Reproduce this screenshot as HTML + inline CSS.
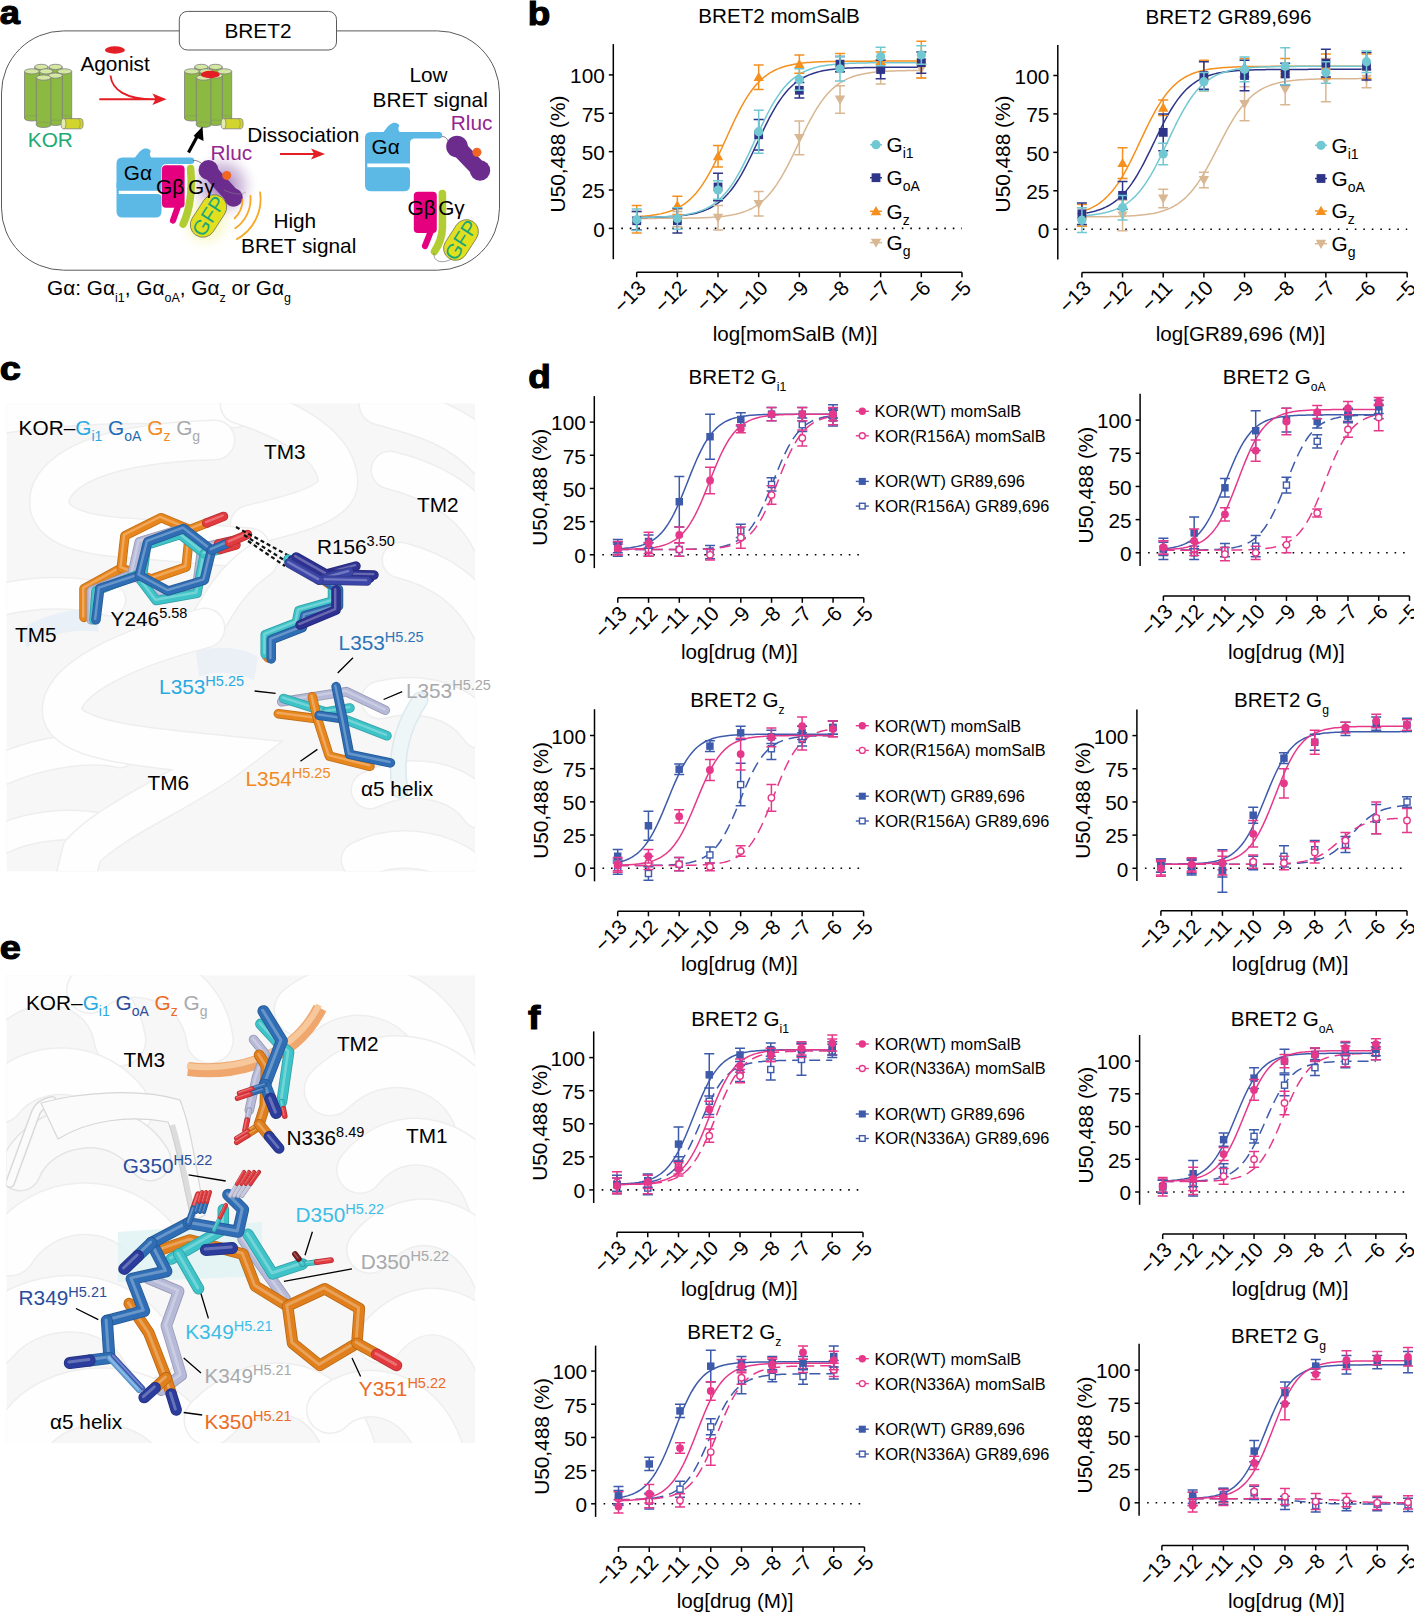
<!DOCTYPE html><html><head><meta charset="utf-8"><style>html,body{margin:0;padding:0;background:#fff}svg{display:block}</style></head><body>
<svg width="1414" height="1613" viewBox="0 0 1414 1613" style="font-family:'Liberation Sans',Arial,Helvetica,sans-serif">
<path d="M613.3,44.1V259.2" stroke="#000" stroke-width="1.5" fill="none"/>
<path d="M608.8,228.40H613.3" stroke="#000" stroke-width="1.5"/>
<text x="604.8" y="236.70" text-anchor="end" font-size="20.8">0</text>
<path d="M608.8,190.03H613.3" stroke="#000" stroke-width="1.5"/>
<text x="604.8" y="198.33" text-anchor="end" font-size="20.8">25</text>
<path d="M608.8,151.65H613.3" stroke="#000" stroke-width="1.5"/>
<text x="604.8" y="159.95" text-anchor="end" font-size="20.8">50</text>
<path d="M608.8,113.28H613.3" stroke="#000" stroke-width="1.5"/>
<text x="604.8" y="121.58" text-anchor="end" font-size="20.8">75</text>
<path d="M608.8,74.90H613.3" stroke="#000" stroke-width="1.5"/>
<text x="604.8" y="83.20" text-anchor="end" font-size="20.8">100</text>
<path d="M636.7,272.2H961.98" stroke="#000" stroke-width="1.5" fill="none"/>
<path d="M636.70,272.2v5" stroke="#000" stroke-width="1.5"/>
<text transform="translate(647.20,289.20) rotate(-45)" text-anchor="end" font-size="20.8">&#8722;13</text>
<path d="M677.36,272.2v5" stroke="#000" stroke-width="1.5"/>
<text transform="translate(687.86,289.20) rotate(-45)" text-anchor="end" font-size="20.8">&#8722;12</text>
<path d="M718.02,272.2v5" stroke="#000" stroke-width="1.5"/>
<text transform="translate(728.52,289.20) rotate(-45)" text-anchor="end" font-size="20.8">&#8722;11</text>
<path d="M758.68,272.2v5" stroke="#000" stroke-width="1.5"/>
<text transform="translate(769.18,289.20) rotate(-45)" text-anchor="end" font-size="20.8">&#8722;10</text>
<path d="M799.34,272.2v5" stroke="#000" stroke-width="1.5"/>
<text transform="translate(809.84,289.20) rotate(-45)" text-anchor="end" font-size="20.8">&#8722;9</text>
<path d="M840.00,272.2v5" stroke="#000" stroke-width="1.5"/>
<text transform="translate(850.50,289.20) rotate(-45)" text-anchor="end" font-size="20.8">&#8722;8</text>
<path d="M880.66,272.2v5" stroke="#000" stroke-width="1.5"/>
<text transform="translate(891.16,289.20) rotate(-45)" text-anchor="end" font-size="20.8">&#8722;7</text>
<path d="M921.32,272.2v5" stroke="#000" stroke-width="1.5"/>
<text transform="translate(931.82,289.20) rotate(-45)" text-anchor="end" font-size="20.8">&#8722;6</text>
<path d="M961.98,272.2v5" stroke="#000" stroke-width="1.5"/>
<text transform="translate(972.48,289.20) rotate(-45)" text-anchor="end" font-size="20.8">&#8722;5</text>
<path d="M621.3,228.40H961.98" stroke="#000" stroke-width="1.6" stroke-dasharray="1.6 6.9" fill="none"/>
<text x="698.3" y="22.9" font-size="20.6">BRET2 momSalB</text>
<text x="712.7" y="340.5" font-size="20.6">log[momSalB (M)]</text>
<text transform="translate(565,154) rotate(-90)" text-anchor="middle" font-size="20.8">U50,488 (%)</text>
<polyline points="636.70,218.41 639.07,218.40 641.44,218.40 643.82,218.40 646.19,218.40 648.56,218.39 650.93,218.39 653.30,218.38 655.67,218.38 658.05,218.37 660.42,218.36 662.79,218.35 665.16,218.34 667.53,218.33 669.91,218.32 672.28,218.30 674.65,218.29 677.02,218.27 679.39,218.24 681.76,218.22 684.14,218.19 686.51,218.16 688.88,218.12 691.25,218.07 693.62,218.02 696.00,217.97 698.37,217.90 700.74,217.83 703.11,217.74 705.48,217.65 707.86,217.54 710.23,217.41 712.60,217.26 714.97,217.10 717.34,216.91 719.71,216.70 722.09,216.45 724.46,216.17 726.83,215.85 729.20,215.49 731.57,215.08 733.95,214.61 736.32,214.08 738.69,213.48 741.06,212.79 743.43,212.02 745.80,211.14 748.18,210.16 750.55,209.04 752.92,207.79 755.29,206.39 757.66,204.81 760.04,203.06 762.41,201.11 764.78,198.95 767.15,196.56 769.52,193.94 771.89,191.07 774.27,187.95 776.64,184.57 779.01,180.93 781.38,177.05 783.75,172.93 786.13,168.59 788.50,164.05 790.87,159.35 793.24,154.53 795.61,149.61 797.98,144.64 800.36,139.68 802.73,134.75 805.10,129.91 807.47,125.19 809.84,120.64 812.22,116.27 814.59,112.13 816.96,108.22 819.33,104.55 821.70,101.14 824.07,97.99 826.45,95.09 828.82,92.44 831.19,90.03 833.56,87.84 835.93,85.87 838.31,84.09 840.68,82.50 843.05,81.08 845.42,79.81 847.79,78.68 850.16,77.68 852.54,76.79 854.91,76.01 857.28,75.31 859.65,74.70 862.02,74.16 864.40,73.69 866.77,73.27 869.14,72.90 871.51,72.58 873.88,72.30 876.26,72.05 878.63,71.83 881.00,71.64 883.37,71.47 885.74,71.32 888.11,71.20 890.49,71.08 892.86,70.98 895.23,70.90 897.60,70.82 899.97,70.76 902.35,70.70 904.72,70.65 907.09,70.60 909.46,70.57 911.83,70.53 914.20,70.50 916.58,70.48 918.95,70.45 921.32,70.43" fill="none" stroke="#d8b792" stroke-width="1.5"/>
<polyline points="636.70,216.65 639.07,216.51 641.44,216.34 643.82,216.16 646.19,215.94 648.56,215.70 650.93,215.42 653.30,215.11 655.67,214.75 658.05,214.34 660.42,213.88 662.79,213.35 665.16,212.75 667.53,212.07 669.91,211.30 672.28,210.42 674.65,209.44 677.02,208.33 679.39,207.08 681.76,205.67 684.14,204.10 686.51,202.34 688.88,200.39 691.25,198.21 693.62,195.81 696.00,193.16 698.37,190.25 700.74,187.08 703.11,183.64 705.48,179.93 707.86,175.95 710.23,171.71 712.60,167.24 714.97,162.54 717.34,157.65 719.71,152.61 722.09,147.45 724.46,142.22 726.83,136.97 729.20,131.73 731.57,126.57 733.95,121.51 736.32,116.61 738.69,111.90 741.06,107.40 743.43,103.14 745.80,99.14 748.18,95.41 750.55,91.94 752.92,88.75 755.29,85.82 757.66,83.15 760.04,80.73 762.41,78.53 764.78,76.56 767.15,74.78 769.52,73.19 771.89,71.78 774.27,70.51 776.64,69.39 779.01,68.40 781.38,67.51 783.75,66.74 786.13,66.05 788.50,65.44 790.87,64.91 793.24,64.44 795.61,64.02 797.98,63.66 800.36,63.34 802.73,63.06 805.10,62.82 807.47,62.60 809.84,62.41 812.22,62.25 814.59,62.10 816.96,61.97 819.33,61.86 821.70,61.77 824.07,61.68 826.45,61.61 828.82,61.54 831.19,61.48 833.56,61.43 835.93,61.39 838.31,61.35 840.68,61.32 843.05,61.29 845.42,61.26 847.79,61.24 850.16,61.22 852.54,61.20 854.91,61.19 857.28,61.18 859.65,61.16 862.02,61.15 864.40,61.15 866.77,61.14 869.14,61.13 871.51,61.13 873.88,61.12 876.26,61.12 878.63,61.11 881.00,61.11 883.37,61.11 885.74,61.10 888.11,61.10 890.49,61.10 892.86,61.10 895.23,61.10 897.60,61.09 899.97,61.09 902.35,61.09 904.72,61.09 907.09,61.09 909.46,61.09 911.83,61.09 914.20,61.09 916.58,61.09 918.95,61.09 921.32,61.09" fill="none" stroke="#f5901e" stroke-width="1.5"/>
<polyline points="636.70,217.49 639.07,217.47 641.44,217.44 643.82,217.41 646.19,217.38 648.56,217.34 650.93,217.30 653.30,217.24 655.67,217.18 658.05,217.12 660.42,217.04 662.79,216.95 665.16,216.85 667.53,216.74 669.91,216.61 672.28,216.46 674.65,216.29 677.02,216.09 679.39,215.87 681.76,215.61 684.14,215.33 686.51,215.00 688.88,214.62 691.25,214.20 693.62,213.71 696.00,213.16 698.37,212.54 700.74,211.83 703.11,211.03 705.48,210.13 707.86,209.11 710.23,207.96 712.60,206.66 714.97,205.21 717.34,203.59 719.71,201.78 722.09,199.77 724.46,197.55 726.83,195.09 729.20,192.39 731.57,189.44 733.95,186.23 736.32,182.76 738.69,179.03 741.06,175.06 743.43,170.84 745.80,166.40 748.18,161.77 750.55,156.98 752.92,152.06 755.29,147.05 757.66,142.01 760.04,136.97 762.41,131.97 764.78,127.07 767.15,122.30 769.52,117.70 771.89,113.30 774.27,109.13 776.64,105.19 779.01,101.50 781.38,98.08 783.75,94.91 786.13,92.01 788.50,89.35 790.87,86.93 793.24,84.75 795.61,82.77 797.98,81.00 800.36,79.41 802.73,77.98 805.10,76.72 807.47,75.59 809.84,74.59 812.22,73.70 814.59,72.92 816.96,72.23 819.33,71.62 821.70,71.08 824.07,70.61 826.45,70.19 828.82,69.82 831.19,69.50 833.56,69.22 835.93,68.97 838.31,68.75 840.68,68.56 843.05,68.40 845.42,68.25 847.79,68.12 850.16,68.01 852.54,67.91 854.91,67.83 857.28,67.75 859.65,67.68 862.02,67.63 864.40,67.58 866.77,67.53 869.14,67.49 871.51,67.46 873.88,67.43 876.26,67.40 878.63,67.38 881.00,67.36 883.37,67.35 885.74,67.33 888.11,67.32 890.49,67.31 892.86,67.30 895.23,67.29 897.60,67.28 899.97,67.27 902.35,67.27 904.72,67.26 907.09,67.26 909.46,67.25 911.83,67.25 914.20,67.25 916.58,67.24 918.95,67.24 921.32,67.24" fill="none" stroke="#2e3589" stroke-width="1.5"/>
<polyline points="636.70,217.46 639.07,217.44 641.44,217.41 643.82,217.37 646.19,217.33 648.56,217.28 650.93,217.23 653.30,217.17 655.67,217.10 658.05,217.02 660.42,216.93 662.79,216.82 665.16,216.70 667.53,216.57 669.91,216.41 672.28,216.24 674.65,216.04 677.02,215.81 679.39,215.54 681.76,215.25 684.14,214.91 686.51,214.52 688.88,214.08 691.25,213.58 693.62,213.01 696.00,212.36 698.37,211.63 700.74,210.80 703.11,209.87 705.48,208.81 707.86,207.62 710.23,206.29 712.60,204.79 714.97,203.11 717.34,201.24 719.71,199.16 722.09,196.86 724.46,194.32 726.83,191.54 729.20,188.49 731.57,185.17 733.95,181.59 736.32,177.74 738.69,173.63 741.06,169.28 743.43,164.70 745.80,159.92 748.18,154.98 750.55,149.90 752.92,144.74 755.29,139.54 757.66,134.35 760.04,129.20 762.41,124.16 764.78,119.25 767.15,114.51 769.52,109.98 771.89,105.68 774.27,101.63 776.64,97.84 779.01,94.32 781.38,91.07 783.75,88.08 786.13,85.35 788.50,82.87 790.87,80.62 793.24,78.59 795.61,76.76 797.98,75.13 800.36,73.67 802.73,72.37 805.10,71.21 807.47,70.18 809.84,69.27 812.22,68.47 814.59,67.76 816.96,67.13 819.33,66.58 821.70,66.09 824.07,65.66 826.45,65.29 828.82,64.96 831.19,64.67 833.56,64.41 835.93,64.19 838.31,63.99 840.68,63.82 843.05,63.67 845.42,63.54 847.79,63.43 850.16,63.33 852.54,63.24 854.91,63.16 857.28,63.09 859.65,63.03 862.02,62.98 864.40,62.94 866.77,62.90 869.14,62.86 871.51,62.83 873.88,62.80 876.26,62.78 878.63,62.76 881.00,62.74 883.37,62.73 885.74,62.71 888.11,62.70 890.49,62.69 892.86,62.68 895.23,62.68 897.60,62.67 899.97,62.66 902.35,62.66 904.72,62.65 907.09,62.65 909.46,62.64 911.83,62.64 914.20,62.64 916.58,62.64 918.95,62.63 921.32,62.63" fill="none" stroke="#72c8d2" stroke-width="1.5"/>
<path d="M636.70,211.51V229.94M631.70,211.51h10M631.70,229.94h10" stroke="#d8b792" stroke-width="1.5" fill="none"/>
<path d="M636.70,225.92L641.90,216.82L631.50,216.82Z" fill="#d8b792"/>
<path d="M677.36,211.51V226.87M672.36,211.51h10M672.36,226.87h10" stroke="#d8b792" stroke-width="1.5" fill="none"/>
<path d="M677.36,224.39L682.56,215.29L672.16,215.29Z" fill="#d8b792"/>
<path d="M718.02,205.38V229.94M713.02,205.38h10M713.02,229.94h10" stroke="#d8b792" stroke-width="1.5" fill="none"/>
<path d="M718.02,222.85L723.22,213.75L712.82,213.75Z" fill="#d8b792"/>
<path d="M758.68,191.56V216.12M753.68,191.56h10M753.68,216.12h10" stroke="#d8b792" stroke-width="1.5" fill="none"/>
<path d="M758.68,209.04L763.88,199.94L753.48,199.94Z" fill="#d8b792"/>
<path d="M799.34,120.95V154.72M794.34,120.95h10M794.34,154.72h10" stroke="#d8b792" stroke-width="1.5" fill="none"/>
<path d="M799.34,143.03L804.54,133.94L794.14,133.94Z" fill="#d8b792"/>
<path d="M840.00,85.65V113.28M835.00,85.65h10M835.00,113.28h10" stroke="#d8b792" stroke-width="1.5" fill="none"/>
<path d="M840.00,104.66L845.20,95.56L834.80,95.56Z" fill="#d8b792"/>
<path d="M880.66,59.55V84.11M875.66,59.55h10M875.66,84.11h10" stroke="#d8b792" stroke-width="1.5" fill="none"/>
<path d="M880.66,77.03L885.86,67.93L875.46,67.93Z" fill="#d8b792"/>
<path d="M921.32,59.55V77.97M916.32,59.55h10M916.32,77.97h10" stroke="#d8b792" stroke-width="1.5" fill="none"/>
<path d="M921.32,73.96L926.52,64.86L916.12,64.86Z" fill="#d8b792"/>
<path d="M636.70,205.38V233.00M631.70,205.38h10M631.70,233.00h10" stroke="#f5901e" stroke-width="1.5" fill="none"/>
<path d="M636.70,213.99L641.90,223.09L631.50,223.09Z" fill="#f5901e"/>
<path d="M677.36,196.16V214.59M672.36,196.16h10M672.36,214.59h10" stroke="#f5901e" stroke-width="1.5" fill="none"/>
<path d="M677.36,200.18L682.56,209.28L672.16,209.28Z" fill="#f5901e"/>
<path d="M718.02,145.51V167.00M713.02,145.51h10M713.02,167.00h10" stroke="#f5901e" stroke-width="1.5" fill="none"/>
<path d="M718.02,151.06L723.22,160.16L712.82,160.16Z" fill="#f5901e"/>
<path d="M758.68,64.92V89.48M753.68,64.92h10M753.68,89.48h10" stroke="#f5901e" stroke-width="1.5" fill="none"/>
<path d="M758.68,72.00L763.88,81.10L753.48,81.10Z" fill="#f5901e"/>
<path d="M799.34,54.95V73.36M794.34,54.95h10M794.34,73.36h10" stroke="#f5901e" stroke-width="1.5" fill="none"/>
<path d="M799.34,58.95L804.54,68.06L794.14,68.06Z" fill="#f5901e"/>
<path d="M840.00,53.41V71.83M835.00,53.41h10M835.00,71.83h10" stroke="#f5901e" stroke-width="1.5" fill="none"/>
<path d="M840.00,57.42L845.20,66.52L834.80,66.52Z" fill="#f5901e"/>
<path d="M880.66,51.88V70.30M875.66,51.88h10M875.66,70.30h10" stroke="#f5901e" stroke-width="1.5" fill="none"/>
<path d="M880.66,55.89L885.86,64.99L875.46,64.99Z" fill="#f5901e"/>
<path d="M921.32,41.13V77.97M916.32,41.13h10M916.32,77.97h10" stroke="#f5901e" stroke-width="1.5" fill="none"/>
<path d="M921.32,54.35L926.52,63.45L916.12,63.45Z" fill="#f5901e"/>
<path d="M636.70,211.51V229.94M631.70,211.51h10M631.70,229.94h10" stroke="#2e3589" stroke-width="1.5" fill="none"/>
<rect x="632.30" y="216.32" width="8.80" height="8.80" fill="#2e3589"/>
<path d="M677.36,208.44V233.00M672.36,208.44h10M672.36,233.00h10" stroke="#2e3589" stroke-width="1.5" fill="none"/>
<rect x="672.96" y="216.32" width="8.80" height="8.80" fill="#2e3589"/>
<path d="M718.02,173.14V200.77M713.02,173.14h10M713.02,200.77h10" stroke="#2e3589" stroke-width="1.5" fill="none"/>
<rect x="713.62" y="182.56" width="8.80" height="8.80" fill="#2e3589"/>
<path d="M758.68,119.42V150.12M753.68,119.42h10M753.68,150.12h10" stroke="#2e3589" stroke-width="1.5" fill="none"/>
<rect x="754.28" y="130.37" width="8.80" height="8.80" fill="#2e3589"/>
<path d="M799.34,82.58V97.92M794.34,82.58h10M794.34,97.92h10" stroke="#2e3589" stroke-width="1.5" fill="none"/>
<rect x="794.94" y="85.85" width="8.80" height="8.80" fill="#2e3589"/>
<path d="M840.00,56.48V71.83M835.00,56.48h10M835.00,71.83h10" stroke="#2e3589" stroke-width="1.5" fill="none"/>
<rect x="835.60" y="59.76" width="8.80" height="8.80" fill="#2e3589"/>
<path d="M880.66,60.32V78.74M875.66,60.32h10M875.66,78.74h10" stroke="#2e3589" stroke-width="1.5" fill="none"/>
<rect x="876.26" y="65.13" width="8.80" height="8.80" fill="#2e3589"/>
<path d="M921.32,51.88V73.37M916.32,51.88h10M916.32,73.37h10" stroke="#2e3589" stroke-width="1.5" fill="none"/>
<rect x="916.92" y="58.22" width="8.80" height="8.80" fill="#2e3589"/>
<path d="M636.70,209.06V230.55M631.70,209.06h10M631.70,230.55h10" stroke="#72c8d2" stroke-width="1.5" fill="none"/>
<circle cx="636.70" cy="219.80" r="4.60" fill="#72c8d2"/>
<path d="M677.36,207.68V229.17M672.36,207.68h10M672.36,229.17h10" stroke="#72c8d2" stroke-width="1.5" fill="none"/>
<circle cx="677.36" cy="218.42" r="4.60" fill="#72c8d2"/>
<path d="M718.02,180.81V199.24M713.02,180.81h10M713.02,199.24h10" stroke="#72c8d2" stroke-width="1.5" fill="none"/>
<circle cx="718.02" cy="190.03" r="4.60" fill="#72c8d2"/>
<path d="M758.68,110.20V153.19M753.68,110.20h10M753.68,153.19h10" stroke="#72c8d2" stroke-width="1.5" fill="none"/>
<circle cx="758.68" cy="131.69" r="4.60" fill="#72c8d2"/>
<path d="M799.34,68.76V90.25M794.34,68.76h10M794.34,90.25h10" stroke="#72c8d2" stroke-width="1.5" fill="none"/>
<circle cx="799.34" cy="79.51" r="4.60" fill="#72c8d2"/>
<path d="M840.00,56.48V81.04M835.00,56.48h10M835.00,81.04h10" stroke="#72c8d2" stroke-width="1.5" fill="none"/>
<circle cx="840.00" cy="68.76" r="4.60" fill="#72c8d2"/>
<path d="M880.66,47.27V65.69M875.66,47.27h10M875.66,65.69h10" stroke="#72c8d2" stroke-width="1.5" fill="none"/>
<circle cx="880.66" cy="56.48" r="4.60" fill="#72c8d2"/>
<path d="M921.32,45.74V64.16M916.32,45.74h10M916.32,64.16h10" stroke="#72c8d2" stroke-width="1.5" fill="none"/>
<circle cx="921.32" cy="54.95" r="4.60" fill="#72c8d2"/>
<path d="M1057.8,45V259.4" stroke="#000" stroke-width="1.5" fill="none"/>
<path d="M1053.3,229.20H1057.8" stroke="#000" stroke-width="1.5"/>
<text x="1049.3" y="237.50" text-anchor="end" font-size="20.8">0</text>
<path d="M1053.3,190.77H1057.8" stroke="#000" stroke-width="1.5"/>
<text x="1049.3" y="199.07" text-anchor="end" font-size="20.8">25</text>
<path d="M1053.3,152.35H1057.8" stroke="#000" stroke-width="1.5"/>
<text x="1049.3" y="160.65" text-anchor="end" font-size="20.8">50</text>
<path d="M1053.3,113.92H1057.8" stroke="#000" stroke-width="1.5"/>
<text x="1049.3" y="122.22" text-anchor="end" font-size="20.8">75</text>
<path d="M1053.3,75.50H1057.8" stroke="#000" stroke-width="1.5"/>
<text x="1049.3" y="83.80" text-anchor="end" font-size="20.8">100</text>
<path d="M1081.9,272.4H1407.18" stroke="#000" stroke-width="1.5" fill="none"/>
<path d="M1081.90,272.4v5" stroke="#000" stroke-width="1.5"/>
<text transform="translate(1092.40,289.40) rotate(-45)" text-anchor="end" font-size="20.8">&#8722;13</text>
<path d="M1122.56,272.4v5" stroke="#000" stroke-width="1.5"/>
<text transform="translate(1133.06,289.40) rotate(-45)" text-anchor="end" font-size="20.8">&#8722;12</text>
<path d="M1163.22,272.4v5" stroke="#000" stroke-width="1.5"/>
<text transform="translate(1173.72,289.40) rotate(-45)" text-anchor="end" font-size="20.8">&#8722;11</text>
<path d="M1203.88,272.4v5" stroke="#000" stroke-width="1.5"/>
<text transform="translate(1214.38,289.40) rotate(-45)" text-anchor="end" font-size="20.8">&#8722;10</text>
<path d="M1244.54,272.4v5" stroke="#000" stroke-width="1.5"/>
<text transform="translate(1255.04,289.40) rotate(-45)" text-anchor="end" font-size="20.8">&#8722;9</text>
<path d="M1285.20,272.4v5" stroke="#000" stroke-width="1.5"/>
<text transform="translate(1295.70,289.40) rotate(-45)" text-anchor="end" font-size="20.8">&#8722;8</text>
<path d="M1325.86,272.4v5" stroke="#000" stroke-width="1.5"/>
<text transform="translate(1336.36,289.40) rotate(-45)" text-anchor="end" font-size="20.8">&#8722;7</text>
<path d="M1366.52,272.4v5" stroke="#000" stroke-width="1.5"/>
<text transform="translate(1377.02,289.40) rotate(-45)" text-anchor="end" font-size="20.8">&#8722;6</text>
<path d="M1407.18,272.4v5" stroke="#000" stroke-width="1.5"/>
<text transform="translate(1417.68,289.40) rotate(-45)" text-anchor="end" font-size="20.8">&#8722;5</text>
<path d="M1065.8,229.20H1407.18" stroke="#000" stroke-width="1.6" stroke-dasharray="1.6 6.9" fill="none"/>
<text x="1145.4" y="23.5" font-size="20.6">BRET2 GR89,696</text>
<text x="1155.8" y="340.5" font-size="20.6">log[GR89,696 (M)]</text>
<text transform="translate(1010,154) rotate(-90)" text-anchor="middle" font-size="20.8">U50,488 (%)</text>
<polyline points="1081.90,216.84 1084.27,216.83 1086.64,216.82 1089.02,216.81 1091.39,216.80 1093.76,216.78 1096.13,216.76 1098.50,216.74 1100.87,216.72 1103.25,216.69 1105.62,216.66 1107.99,216.63 1110.36,216.59 1112.73,216.54 1115.11,216.49 1117.48,216.43 1119.85,216.36 1122.22,216.29 1124.59,216.20 1126.96,216.10 1129.34,215.98 1131.71,215.85 1134.08,215.70 1136.45,215.53 1138.82,215.33 1141.20,215.11 1143.57,214.86 1145.94,214.57 1148.31,214.24 1150.68,213.86 1153.06,213.44 1155.43,212.95 1157.80,212.40 1160.17,211.78 1162.54,211.08 1164.91,210.28 1167.29,209.38 1169.66,208.36 1172.03,207.22 1174.40,205.94 1176.77,204.50 1179.15,202.90 1181.52,201.12 1183.89,199.14 1186.26,196.95 1188.63,194.55 1191.00,191.92 1193.38,189.05 1195.75,185.94 1198.12,182.59 1200.49,179.01 1202.86,175.21 1205.24,171.19 1207.61,166.99 1209.98,162.63 1212.35,158.14 1214.72,153.56 1217.09,148.93 1219.47,144.29 1221.84,139.68 1224.21,135.14 1226.58,130.71 1228.95,126.42 1231.33,122.31 1233.70,118.40 1236.07,114.70 1238.44,111.23 1240.81,108.00 1243.18,105.01 1245.56,102.25 1247.93,99.73 1250.30,97.44 1252.67,95.35 1255.04,93.47 1257.42,91.78 1259.79,90.26 1262.16,88.90 1264.53,87.69 1266.90,86.61 1269.27,85.65 1271.65,84.80 1274.02,84.05 1276.39,83.38 1278.76,82.80 1281.13,82.28 1283.51,81.83 1285.88,81.43 1288.25,81.07 1290.62,80.77 1292.99,80.49 1295.37,80.26 1297.74,80.05 1300.11,79.86 1302.48,79.70 1304.85,79.56 1307.22,79.44 1309.60,79.33 1311.97,79.24 1314.34,79.15 1316.71,79.08 1319.08,79.02 1321.46,78.96 1323.83,78.91 1326.20,78.87 1328.57,78.83 1330.94,78.80 1333.31,78.77 1335.69,78.75 1338.06,78.73 1340.43,78.71 1342.80,78.69 1345.17,78.68 1347.55,78.66 1349.92,78.65 1352.29,78.64 1354.66,78.63 1357.03,78.63 1359.40,78.62 1361.78,78.61 1364.15,78.61 1366.52,78.60" fill="none" stroke="#d8b792" stroke-width="1.5"/>
<polyline points="1081.90,211.51 1084.27,210.76 1086.64,209.92 1089.02,208.97 1091.39,207.90 1093.76,206.69 1096.13,205.34 1098.50,203.82 1100.87,202.12 1103.25,200.23 1105.62,198.14 1107.99,195.81 1110.36,193.26 1112.73,190.46 1115.11,187.40 1117.48,184.08 1119.85,180.50 1122.22,176.67 1124.59,172.59 1126.96,168.27 1129.34,163.75 1131.71,159.04 1134.08,154.19 1136.45,149.22 1138.82,144.19 1141.20,139.14 1143.57,134.10 1145.94,129.13 1148.31,124.28 1150.68,119.56 1153.06,115.04 1155.43,110.72 1157.80,106.63 1160.17,102.78 1162.54,99.20 1164.91,95.87 1167.29,92.81 1169.66,90.00 1172.03,87.44 1174.40,85.11 1176.77,83.01 1179.15,81.11 1181.52,79.41 1183.89,77.89 1186.26,76.53 1188.63,75.32 1191.00,74.24 1193.38,73.29 1195.75,72.44 1198.12,71.69 1200.49,71.03 1202.86,70.45 1205.24,69.94 1207.61,69.49 1209.98,69.09 1212.35,68.75 1214.72,68.44 1217.09,68.17 1219.47,67.94 1221.84,67.73 1224.21,67.55 1226.58,67.39 1228.95,67.25 1231.33,67.13 1233.70,67.02 1236.07,66.93 1238.44,66.85 1240.81,66.78 1243.18,66.71 1245.56,66.66 1247.93,66.61 1250.30,66.57 1252.67,66.53 1255.04,66.50 1257.42,66.47 1259.79,66.45 1262.16,66.43 1264.53,66.41 1266.90,66.39 1269.27,66.38 1271.65,66.37 1274.02,66.35 1276.39,66.34 1278.76,66.34 1281.13,66.33 1283.51,66.32 1285.88,66.32 1288.25,66.31 1290.62,66.31 1292.99,66.30 1295.37,66.30 1297.74,66.30 1300.11,66.30 1302.48,66.29 1304.85,66.29 1307.22,66.29 1309.60,66.29 1311.97,66.29 1314.34,66.29 1316.71,66.28 1319.08,66.28 1321.46,66.28 1323.83,66.28 1326.20,66.28 1328.57,66.28 1330.94,66.28 1333.31,66.28 1335.69,66.28 1338.06,66.28 1340.43,66.28 1342.80,66.28 1345.17,66.28 1347.55,66.28 1349.92,66.28 1352.29,66.28 1354.66,66.28 1357.03,66.28 1359.40,66.28 1361.78,66.28 1364.15,66.28 1366.52,66.28" fill="none" stroke="#f5901e" stroke-width="1.5"/>
<polyline points="1081.90,213.68 1084.27,213.34 1086.64,212.95 1089.02,212.50 1091.39,211.99 1093.76,211.41 1096.13,210.76 1098.50,210.02 1100.87,209.18 1103.25,208.24 1105.62,207.17 1107.99,205.97 1110.36,204.62 1112.73,203.11 1115.11,201.43 1117.48,199.55 1119.85,197.47 1122.22,195.17 1124.59,192.64 1126.96,189.87 1129.34,186.85 1131.71,183.57 1134.08,180.04 1136.45,176.26 1138.82,172.24 1141.20,168.00 1143.57,163.56 1145.94,158.95 1148.31,154.20 1150.68,149.34 1153.06,144.43 1155.43,139.51 1157.80,134.61 1160.17,129.78 1162.54,125.07 1164.91,120.51 1167.29,116.13 1169.66,111.96 1172.03,108.01 1174.40,104.31 1176.77,100.86 1179.15,97.66 1181.52,94.72 1183.89,92.02 1186.26,89.57 1188.63,87.34 1191.00,85.32 1193.38,83.51 1195.75,81.88 1198.12,80.43 1200.49,79.13 1202.86,77.97 1205.24,76.94 1207.61,76.03 1209.98,75.23 1212.35,74.51 1214.72,73.89 1217.09,73.33 1219.47,72.84 1221.84,72.41 1224.21,72.04 1226.58,71.70 1228.95,71.41 1231.33,71.16 1233.70,70.93 1236.07,70.74 1238.44,70.56 1240.81,70.41 1243.18,70.28 1245.56,70.16 1247.93,70.06 1250.30,69.97 1252.67,69.90 1255.04,69.83 1257.42,69.77 1259.79,69.72 1262.16,69.67 1264.53,69.63 1266.90,69.60 1269.27,69.56 1271.65,69.54 1274.02,69.51 1276.39,69.49 1278.76,69.48 1281.13,69.46 1283.51,69.45 1285.88,69.44 1288.25,69.42 1290.62,69.42 1292.99,69.41 1295.37,69.40 1297.74,69.39 1300.11,69.39 1302.48,69.38 1304.85,69.38 1307.22,69.38 1309.60,69.37 1311.97,69.37 1314.34,69.37 1316.71,69.37 1319.08,69.36 1321.46,69.36 1323.83,69.36 1326.20,69.36 1328.57,69.36 1330.94,69.36 1333.31,69.36 1335.69,69.36 1338.06,69.36 1340.43,69.36 1342.80,69.36 1345.17,69.35 1347.55,69.35 1349.92,69.35 1352.29,69.35 1354.66,69.35 1357.03,69.35 1359.40,69.35 1361.78,69.35 1364.15,69.35 1366.52,69.35" fill="none" stroke="#2e3589" stroke-width="1.5"/>
<polyline points="1081.90,215.74 1084.27,215.58 1086.64,215.39 1089.02,215.17 1091.39,214.93 1093.76,214.65 1096.13,214.33 1098.50,213.97 1100.87,213.56 1103.25,213.09 1105.62,212.55 1107.99,211.95 1110.36,211.26 1112.73,210.49 1115.11,209.61 1117.48,208.62 1119.85,207.50 1122.22,206.25 1124.59,204.84 1126.96,203.26 1129.34,201.50 1131.71,199.54 1134.08,197.37 1136.45,194.97 1138.82,192.33 1141.20,189.44 1143.57,186.29 1145.94,182.88 1148.31,179.22 1150.68,175.30 1153.06,171.13 1155.43,166.74 1157.80,162.15 1160.17,157.39 1162.54,152.50 1164.91,147.50 1167.29,142.46 1169.66,137.40 1172.03,132.39 1174.40,127.45 1176.77,122.64 1179.15,117.99 1181.52,113.53 1183.89,109.29 1186.26,105.28 1188.63,101.53 1191.00,98.03 1193.38,94.79 1195.75,91.82 1198.12,89.09 1200.49,86.61 1202.86,84.36 1205.24,82.33 1207.61,80.51 1209.98,78.87 1212.35,77.40 1214.72,76.09 1217.09,74.93 1219.47,73.90 1221.84,72.98 1224.21,72.17 1226.58,71.46 1228.95,70.83 1231.33,70.27 1233.70,69.78 1236.07,69.35 1238.44,68.97 1240.81,68.64 1243.18,68.34 1245.56,68.09 1247.93,67.86 1250.30,67.67 1252.67,67.49 1255.04,67.34 1257.42,67.21 1259.79,67.09 1262.16,66.99 1264.53,66.90 1266.90,66.82 1269.27,66.75 1271.65,66.69 1274.02,66.64 1276.39,66.60 1278.76,66.56 1281.13,66.52 1283.51,66.49 1285.88,66.46 1288.25,66.44 1290.62,66.42 1292.99,66.40 1295.37,66.39 1297.74,66.37 1300.11,66.36 1302.48,66.35 1304.85,66.34 1307.22,66.33 1309.60,66.33 1311.97,66.32 1314.34,66.32 1316.71,66.31 1319.08,66.31 1321.46,66.30 1323.83,66.30 1326.20,66.30 1328.57,66.29 1330.94,66.29 1333.31,66.29 1335.69,66.29 1338.06,66.29 1340.43,66.29 1342.80,66.29 1345.17,66.28 1347.55,66.28 1349.92,66.28 1352.29,66.28 1354.66,66.28 1357.03,66.28 1359.40,66.28 1361.78,66.28 1364.15,66.28 1366.52,66.28" fill="none" stroke="#72c8d2" stroke-width="1.5"/>
<path d="M1081.90,207.68V226.13M1076.90,207.68h10M1076.90,226.13h10" stroke="#d8b792" stroke-width="1.5" fill="none"/>
<path d="M1081.90,222.10L1087.10,213.00L1076.70,213.00Z" fill="#d8b792"/>
<path d="M1122.56,200.00V230.74M1117.56,200.00h10M1117.56,230.74h10" stroke="#d8b792" stroke-width="1.5" fill="none"/>
<path d="M1122.56,220.57L1127.76,211.47L1117.36,211.47Z" fill="#d8b792"/>
<path d="M1163.22,189.24V207.68M1158.22,189.24h10M1158.22,207.68h10" stroke="#d8b792" stroke-width="1.5" fill="none"/>
<path d="M1163.22,203.66L1168.42,194.56L1158.02,194.56Z" fill="#d8b792"/>
<path d="M1203.88,172.33V187.70M1198.88,172.33h10M1198.88,187.70h10" stroke="#d8b792" stroke-width="1.5" fill="none"/>
<path d="M1203.88,185.22L1209.08,176.12L1198.68,176.12Z" fill="#d8b792"/>
<path d="M1244.54,86.87V120.69M1239.54,86.87h10M1239.54,120.69h10" stroke="#d8b792" stroke-width="1.5" fill="none"/>
<path d="M1244.54,108.98L1249.74,99.88L1239.34,99.88Z" fill="#d8b792"/>
<path d="M1285.20,73.96V104.70M1280.20,73.96h10M1280.20,104.70h10" stroke="#d8b792" stroke-width="1.5" fill="none"/>
<path d="M1285.20,94.53L1290.40,85.43L1280.00,85.43Z" fill="#d8b792"/>
<path d="M1325.86,58.59V101.63M1320.86,58.59h10M1320.86,101.63h10" stroke="#d8b792" stroke-width="1.5" fill="none"/>
<path d="M1325.86,85.31L1331.06,76.21L1320.66,76.21Z" fill="#d8b792"/>
<path d="M1366.52,69.35V87.80M1361.52,69.35h10M1361.52,87.80h10" stroke="#d8b792" stroke-width="1.5" fill="none"/>
<path d="M1366.52,83.77L1371.72,74.67L1361.32,74.67Z" fill="#d8b792"/>
<path d="M1081.90,204.61V226.13M1076.90,204.61h10M1076.90,226.13h10" stroke="#f5901e" stroke-width="1.5" fill="none"/>
<path d="M1081.90,210.17L1087.10,219.27L1076.70,219.27Z" fill="#f5901e"/>
<path d="M1122.56,147.74V178.48M1117.56,147.74h10M1117.56,178.48h10" stroke="#f5901e" stroke-width="1.5" fill="none"/>
<path d="M1122.56,157.91L1127.76,167.01L1117.36,167.01Z" fill="#f5901e"/>
<path d="M1163.22,100.09V115.46M1158.22,100.09h10M1158.22,115.46h10" stroke="#f5901e" stroke-width="1.5" fill="none"/>
<path d="M1163.22,102.58L1168.42,111.68L1158.02,111.68Z" fill="#f5901e"/>
<path d="M1203.88,60.13V90.87M1198.88,60.13h10M1198.88,90.87h10" stroke="#f5901e" stroke-width="1.5" fill="none"/>
<path d="M1203.88,70.30L1209.08,79.40L1198.68,79.40Z" fill="#f5901e"/>
<path d="M1244.54,58.59V77.04M1239.54,58.59h10M1239.54,77.04h10" stroke="#f5901e" stroke-width="1.5" fill="none"/>
<path d="M1244.54,62.61L1249.74,71.72L1239.34,71.72Z" fill="#f5901e"/>
<path d="M1285.20,58.59V77.04M1280.20,58.59h10M1280.20,77.04h10" stroke="#f5901e" stroke-width="1.5" fill="none"/>
<path d="M1285.20,62.61L1290.40,71.72L1280.00,71.72Z" fill="#f5901e"/>
<path d="M1325.86,53.98V78.57M1320.86,53.98h10M1320.86,78.57h10" stroke="#f5901e" stroke-width="1.5" fill="none"/>
<path d="M1325.86,61.08L1331.06,70.18L1320.66,70.18Z" fill="#f5901e"/>
<path d="M1366.52,53.98V78.57M1361.52,53.98h10M1361.52,78.57h10" stroke="#f5901e" stroke-width="1.5" fill="none"/>
<path d="M1366.52,61.08L1371.72,70.18L1361.32,70.18Z" fill="#f5901e"/>
<path d="M1081.90,203.07V224.59M1076.90,203.07h10M1076.90,224.59h10" stroke="#2e3589" stroke-width="1.5" fill="none"/>
<rect x="1077.50" y="209.43" width="8.80" height="8.80" fill="#2e3589"/>
<path d="M1122.56,181.55V209.22M1117.56,181.55h10M1117.56,209.22h10" stroke="#2e3589" stroke-width="1.5" fill="none"/>
<rect x="1118.16" y="190.99" width="8.80" height="8.80" fill="#2e3589"/>
<path d="M1163.22,113.92V150.81M1158.22,113.92h10M1158.22,150.81h10" stroke="#2e3589" stroke-width="1.5" fill="none"/>
<rect x="1158.82" y="127.97" width="8.80" height="8.80" fill="#2e3589"/>
<path d="M1203.88,61.67V89.33M1198.88,61.67h10M1198.88,89.33h10" stroke="#2e3589" stroke-width="1.5" fill="none"/>
<rect x="1199.48" y="71.10" width="8.80" height="8.80" fill="#2e3589"/>
<path d="M1244.54,60.13V90.87M1239.54,60.13h10M1239.54,90.87h10" stroke="#2e3589" stroke-width="1.5" fill="none"/>
<rect x="1240.14" y="71.10" width="8.80" height="8.80" fill="#2e3589"/>
<path d="M1285.20,63.20V84.72M1280.20,63.20h10M1280.20,84.72h10" stroke="#2e3589" stroke-width="1.5" fill="none"/>
<rect x="1280.80" y="69.56" width="8.80" height="8.80" fill="#2e3589"/>
<path d="M1325.86,49.37V77.04M1320.86,49.37h10M1320.86,77.04h10" stroke="#2e3589" stroke-width="1.5" fill="none"/>
<rect x="1321.46" y="58.80" width="8.80" height="8.80" fill="#2e3589"/>
<path d="M1366.52,52.44V80.11M1361.52,52.44h10M1361.52,80.11h10" stroke="#2e3589" stroke-width="1.5" fill="none"/>
<rect x="1362.12" y="61.88" width="8.80" height="8.80" fill="#2e3589"/>
<path d="M1081.90,207.84V232.43M1076.90,207.84h10M1076.90,232.43h10" stroke="#72c8d2" stroke-width="1.5" fill="none"/>
<circle cx="1081.90" cy="220.13" r="4.60" fill="#72c8d2"/>
<path d="M1122.56,195.39V219.98M1117.56,195.39h10M1117.56,219.98h10" stroke="#72c8d2" stroke-width="1.5" fill="none"/>
<circle cx="1122.56" cy="207.68" r="4.60" fill="#72c8d2"/>
<path d="M1163.22,143.13V164.65M1158.22,143.13h10M1158.22,164.65h10" stroke="#72c8d2" stroke-width="1.5" fill="none"/>
<circle cx="1163.22" cy="153.89" r="4.60" fill="#72c8d2"/>
<path d="M1203.88,72.43V90.87M1198.88,72.43h10M1198.88,90.87h10" stroke="#72c8d2" stroke-width="1.5" fill="none"/>
<circle cx="1203.88" cy="81.65" r="4.60" fill="#72c8d2"/>
<path d="M1244.54,57.06V81.65M1239.54,57.06h10M1239.54,81.65h10" stroke="#72c8d2" stroke-width="1.5" fill="none"/>
<circle cx="1244.54" cy="69.35" r="4.60" fill="#72c8d2"/>
<path d="M1285.20,47.83V84.72M1280.20,47.83h10M1280.20,84.72h10" stroke="#72c8d2" stroke-width="1.5" fill="none"/>
<circle cx="1285.20" cy="66.28" r="4.60" fill="#72c8d2"/>
<path d="M1325.86,61.67V83.18M1320.86,61.67h10M1320.86,83.18h10" stroke="#72c8d2" stroke-width="1.5" fill="none"/>
<circle cx="1325.86" cy="72.43" r="4.60" fill="#72c8d2"/>
<path d="M1366.52,50.91V72.43M1361.52,50.91h10M1361.52,72.43h10" stroke="#72c8d2" stroke-width="1.5" fill="none"/>
<circle cx="1366.52" cy="61.67" r="4.60" fill="#72c8d2"/>
<path d="M870,144.7h12" stroke="#72c8d2" stroke-width="1.5"/>
<circle cx="876.00" cy="144.70" r="4.60" fill="#72c8d2"/>
<text x="886.5" y="151.89999999999998" font-size="20.8">G<tspan font-size="14" dy="6">i1</tspan></text>
<path d="M870,177.7h12" stroke="#2e3589" stroke-width="1.5"/>
<rect x="871.60" y="173.30" width="8.80" height="8.80" fill="#2e3589"/>
<text x="886.5" y="184.89999999999998" font-size="20.8">G<tspan font-size="14" dy="6">oA</tspan></text>
<path d="M870,211.3h12" stroke="#f5901e" stroke-width="1.5"/>
<path d="M876.00,206.10L881.20,215.20L870.80,215.20Z" fill="#f5901e"/>
<text x="886.5" y="218.5" font-size="20.8">G<tspan font-size="14" dy="6">z</tspan></text>
<path d="M870,242.6h12" stroke="#d8b792" stroke-width="1.5"/>
<path d="M876.00,247.80L881.20,238.70L870.80,238.70Z" fill="#d8b792"/>
<text x="886.5" y="249.79999999999998" font-size="20.8">G<tspan font-size="14" dy="6">g</tspan></text>
<path d="M1315,145.3h12" stroke="#72c8d2" stroke-width="1.5"/>
<circle cx="1321.00" cy="145.30" r="4.60" fill="#72c8d2"/>
<text x="1331.5" y="152.5" font-size="20.8">G<tspan font-size="14" dy="6">i1</tspan></text>
<path d="M1315,178.5h12" stroke="#2e3589" stroke-width="1.5"/>
<rect x="1316.60" y="174.10" width="8.80" height="8.80" fill="#2e3589"/>
<text x="1331.5" y="185.7" font-size="20.8">G<tspan font-size="14" dy="6">oA</tspan></text>
<path d="M1315,211h12" stroke="#f5901e" stroke-width="1.5"/>
<path d="M1321.00,205.80L1326.20,214.90L1315.80,214.90Z" fill="#f5901e"/>
<text x="1331.5" y="218.2" font-size="20.8">G<tspan font-size="14" dy="6">z</tspan></text>
<path d="M1315,243.7h12" stroke="#d8b792" stroke-width="1.5"/>
<path d="M1321.00,248.90L1326.20,239.80L1315.80,239.80Z" fill="#d8b792"/>
<text x="1331.5" y="250.89999999999998" font-size="20.8">G<tspan font-size="14" dy="6">g</tspan></text>
<path d="M594.3,396.1V568.1" stroke="#000" stroke-width="1.5" fill="none"/>
<path d="M589.8,554.80H594.3" stroke="#000" stroke-width="1.5"/>
<text x="585.8" y="563.10" text-anchor="end" font-size="20.8">0</text>
<path d="M589.8,521.62H594.3" stroke="#000" stroke-width="1.5"/>
<text x="585.8" y="529.92" text-anchor="end" font-size="20.8">25</text>
<path d="M589.8,488.45H594.3" stroke="#000" stroke-width="1.5"/>
<text x="585.8" y="496.75" text-anchor="end" font-size="20.8">50</text>
<path d="M589.8,455.27H594.3" stroke="#000" stroke-width="1.5"/>
<text x="585.8" y="463.57" text-anchor="end" font-size="20.8">75</text>
<path d="M589.8,422.10H594.3" stroke="#000" stroke-width="1.5"/>
<text x="585.8" y="430.40" text-anchor="end" font-size="20.8">100</text>
<path d="M617.8,597.8H863.8" stroke="#000" stroke-width="1.5" fill="none"/>
<path d="M617.80,597.8v5" stroke="#000" stroke-width="1.5"/>
<text transform="translate(628.30,614.80) rotate(-45)" text-anchor="end" font-size="20.8">&#8722;13</text>
<path d="M648.55,597.8v5" stroke="#000" stroke-width="1.5"/>
<text transform="translate(659.05,614.80) rotate(-45)" text-anchor="end" font-size="20.8">&#8722;12</text>
<path d="M679.30,597.8v5" stroke="#000" stroke-width="1.5"/>
<text transform="translate(689.80,614.80) rotate(-45)" text-anchor="end" font-size="20.8">&#8722;11</text>
<path d="M710.05,597.8v5" stroke="#000" stroke-width="1.5"/>
<text transform="translate(720.55,614.80) rotate(-45)" text-anchor="end" font-size="20.8">&#8722;10</text>
<path d="M740.80,597.8v5" stroke="#000" stroke-width="1.5"/>
<text transform="translate(751.30,614.80) rotate(-45)" text-anchor="end" font-size="20.8">&#8722;9</text>
<path d="M771.55,597.8v5" stroke="#000" stroke-width="1.5"/>
<text transform="translate(782.05,614.80) rotate(-45)" text-anchor="end" font-size="20.8">&#8722;8</text>
<path d="M802.30,597.8v5" stroke="#000" stroke-width="1.5"/>
<text transform="translate(812.80,614.80) rotate(-45)" text-anchor="end" font-size="20.8">&#8722;7</text>
<path d="M833.05,597.8v5" stroke="#000" stroke-width="1.5"/>
<text transform="translate(843.55,614.80) rotate(-45)" text-anchor="end" font-size="20.8">&#8722;6</text>
<path d="M863.80,597.8v5" stroke="#000" stroke-width="1.5"/>
<text transform="translate(874.30,614.80) rotate(-45)" text-anchor="end" font-size="20.8">&#8722;5</text>
<path d="M602.3,554.80H863.8" stroke="#000" stroke-width="1.6" stroke-dasharray="1.6 6.9" fill="none"/>
<text x="688.6" y="383.8" font-size="20.6">BRET2 G<tspan font-size="12.2" dy="7">i1</tspan></text>
<text x="681" y="658.8" font-size="20.6">log[drug (M)]</text>
<text transform="translate(547.3,487.3) rotate(-90)" text-anchor="middle" font-size="20.8">U50,488 (%)</text>
<polyline points="617.80,549.49 619.59,549.49 621.39,549.49 623.18,549.49 624.97,549.49 626.77,549.49 628.56,549.49 630.36,549.49 632.15,549.49 633.94,549.49 635.74,549.49 637.53,549.49 639.32,549.49 641.12,549.49 642.91,549.48 644.71,549.48 646.50,549.48 648.29,549.48 650.09,549.48 651.88,549.48 653.67,549.47 655.47,549.47 657.26,549.47 659.06,549.47 660.85,549.46 662.64,549.46 664.44,549.45 666.23,549.45 668.02,549.44 669.82,549.43 671.61,549.42 673.41,549.41 675.20,549.40 676.99,549.39 678.79,549.38 680.58,549.36 682.38,549.34 684.17,549.32 685.96,549.29 687.76,549.27 689.55,549.23 691.34,549.20 693.14,549.15 694.93,549.10 696.72,549.05 698.52,548.99 700.31,548.91 702.11,548.83 703.90,548.74 705.69,548.63 707.49,548.50 709.28,548.36 711.07,548.20 712.87,548.02 714.66,547.81 716.46,547.57 718.25,547.30 720.04,546.99 721.84,546.64 723.63,546.24 725.42,545.78 727.22,545.27 729.01,544.68 730.81,544.02 732.60,543.26 734.39,542.42 736.19,541.46 737.98,540.38 739.77,539.17 741.57,537.82 743.36,536.30 745.16,534.61 746.95,532.74 748.74,530.67 750.54,528.38 752.33,525.88 754.12,523.14 755.92,520.17 757.71,516.97 759.51,513.54 761.30,509.88 763.09,506.02 764.89,501.96 766.68,497.74 768.47,493.39 770.27,488.93 772.06,484.41 773.86,479.87 775.65,475.34 777.44,470.87 779.24,466.50 781.03,462.26 782.82,458.18 784.62,454.29 786.41,450.60 788.21,447.13 790.00,443.90 791.79,440.90 793.59,438.13 795.38,435.59 797.17,433.28 798.97,431.17 800.76,429.27 802.56,427.56 804.35,426.02 806.14,424.64 807.94,423.41 809.73,422.32 811.52,421.34 813.32,420.48 815.11,419.72 816.91,419.04 818.70,418.44 820.49,417.92 822.29,417.45 824.08,417.05 825.88,416.69 827.67,416.37 829.46,416.10 831.26,415.85 833.05,415.64" fill="none" stroke="#3d5aab" stroke-width="1.5" stroke-dasharray="11 6"/>
<polyline points="617.80,549.49 619.59,549.49 621.39,549.49 623.18,549.49 624.97,549.49 626.77,549.49 628.56,549.49 630.36,549.49 632.15,549.49 633.94,549.49 635.74,549.49 637.53,549.49 639.32,549.49 641.12,549.49 642.91,549.49 644.71,549.49 646.50,549.48 648.29,549.48 650.09,549.48 651.88,549.48 653.67,549.48 655.47,549.48 657.26,549.48 659.06,549.47 660.85,549.47 662.64,549.47 664.44,549.46 666.23,549.46 668.02,549.46 669.82,549.45 671.61,549.44 673.41,549.44 675.20,549.43 676.99,549.42 678.79,549.41 680.58,549.40 682.38,549.38 684.17,549.37 685.96,549.35 687.76,549.33 689.55,549.31 691.34,549.28 693.14,549.25 694.93,549.22 696.72,549.18 698.52,549.13 700.31,549.08 702.11,549.02 703.90,548.96 705.69,548.88 707.49,548.79 709.28,548.69 711.07,548.58 712.87,548.45 714.66,548.30 716.46,548.13 718.25,547.93 720.04,547.71 721.84,547.46 723.63,547.17 725.42,546.84 727.22,546.47 729.01,546.05 730.81,545.57 732.60,545.02 734.39,544.40 736.19,543.70 737.98,542.91 739.77,542.02 741.57,541.01 743.36,539.88 745.16,538.61 746.95,537.19 748.74,535.60 750.54,533.83 752.33,531.88 754.12,529.71 755.92,527.34 757.71,524.73 759.51,521.90 761.30,518.83 763.09,515.53 764.89,512.00 766.68,508.25 768.47,504.30 770.27,500.17 772.06,495.89 773.86,491.49 775.65,487.00 777.44,482.46 779.24,477.92 781.03,473.42 782.82,468.99 784.62,464.67 786.41,460.49 788.21,456.49 790.00,452.68 791.79,449.09 793.59,445.72 795.38,442.58 797.17,439.68 798.97,437.01 800.76,434.57 802.56,432.35 804.35,430.34 806.14,428.52 807.94,426.88 809.73,425.41 811.52,424.10 813.32,422.93 815.11,421.89 816.91,420.96 818.70,420.14 820.49,419.42 822.29,418.78 824.08,418.21 825.88,417.71 827.67,417.27 829.46,416.89 831.26,416.55 833.05,416.25" fill="none" stroke="#e6388a" stroke-width="1.5" stroke-dasharray="11 6"/>
<polyline points="617.80,548.77 619.59,548.67 621.39,548.55 623.18,548.41 624.97,548.26 626.77,548.08 628.56,547.88 630.36,547.66 632.15,547.40 633.94,547.10 635.74,546.76 637.53,546.38 639.32,545.94 641.12,545.45 642.91,544.89 644.71,544.25 646.50,543.53 648.29,542.72 650.09,541.80 651.88,540.77 653.67,539.60 655.47,538.30 657.26,536.84 659.06,535.21 660.85,533.40 662.64,531.40 664.44,529.19 666.23,526.76 668.02,524.11 669.82,521.22 671.61,518.10 673.41,514.74 675.20,511.16 676.99,507.37 678.79,503.37 680.58,499.21 682.38,494.89 684.17,490.47 685.96,485.97 687.76,481.43 689.55,476.89 691.34,472.40 693.14,467.99 694.93,463.70 696.72,459.56 698.52,455.60 700.31,451.84 702.11,448.30 703.90,444.98 705.69,441.90 707.49,439.05 709.28,436.44 711.07,434.05 712.87,431.87 714.66,429.90 716.46,428.13 718.25,426.53 720.04,425.10 721.84,423.82 723.63,422.68 725.42,421.67 727.22,420.77 729.01,419.97 730.81,419.26 732.60,418.64 734.39,418.09 736.19,417.61 737.98,417.18 739.77,416.81 741.57,416.48 743.36,416.19 745.16,415.93 746.95,415.71 748.74,415.51 750.54,415.34 752.33,415.19 754.12,415.06 755.92,414.95 757.71,414.84 759.51,414.76 761.30,414.68 763.09,414.61 764.89,414.55 766.68,414.50 768.47,414.45 770.27,414.41 772.06,414.38 773.86,414.35 775.65,414.32 777.44,414.30 779.24,414.28 781.03,414.26 782.82,414.25 784.62,414.23 786.41,414.22 788.21,414.21 790.00,414.20 791.79,414.19 793.59,414.19 795.38,414.18 797.17,414.17 798.97,414.17 800.76,414.17 802.56,414.16 804.35,414.16 806.14,414.16 807.94,414.15 809.73,414.15 811.52,414.15 813.32,414.15 815.11,414.15 816.91,414.15 818.70,414.15 820.49,414.14 822.29,414.14 824.08,414.14 825.88,414.14 827.67,414.14 829.46,414.14 831.26,414.14 833.05,414.14" fill="none" stroke="#3d5aab" stroke-width="1.5"/>
<polyline points="617.80,549.35 619.59,549.33 621.39,549.31 623.18,549.28 624.97,549.25 626.77,549.22 628.56,549.18 630.36,549.13 632.15,549.08 633.94,549.02 635.74,548.95 637.53,548.87 639.32,548.79 641.12,548.68 642.91,548.57 644.71,548.44 646.50,548.29 648.29,548.12 650.09,547.92 651.88,547.70 653.67,547.44 655.47,547.15 657.26,546.82 659.06,546.45 660.85,546.02 662.64,545.54 664.44,544.99 666.23,544.37 668.02,543.66 669.82,542.86 671.61,541.96 673.41,540.95 675.20,539.81 676.99,538.53 678.79,537.10 680.58,535.50 682.38,533.73 684.17,531.76 685.96,529.58 687.76,527.19 689.55,524.58 691.34,521.73 693.14,518.65 694.93,515.33 696.72,511.79 698.52,508.03 700.31,504.07 702.11,499.93 703.90,495.64 705.69,491.23 707.49,486.74 709.28,482.20 711.07,477.66 712.87,473.16 714.66,468.74 716.46,464.42 718.25,460.26 720.04,456.26 721.84,452.47 723.63,448.89 725.42,445.53 727.22,442.41 729.01,439.52 730.81,436.87 732.60,434.44 734.39,432.23 736.19,430.23 737.98,428.42 739.77,426.79 741.57,425.33 743.36,424.03 745.16,422.86 746.95,421.83 748.74,420.91 750.54,420.10 752.33,419.38 754.12,418.74 755.92,418.18 757.71,417.69 759.51,417.25 761.30,416.87 763.09,416.53 764.89,416.23 766.68,415.97 768.47,415.75 770.27,415.55 772.06,415.37 773.86,415.22 775.65,415.08 777.44,414.96 779.24,414.86 781.03,414.77 782.82,414.69 784.62,414.62 786.41,414.56 788.21,414.51 790.00,414.46 791.79,414.42 793.59,414.39 795.38,414.35 797.17,414.33 798.97,414.30 800.76,414.28 802.56,414.26 804.35,414.25 806.14,414.23 807.94,414.22 809.73,414.21 811.52,414.20 813.32,414.19 815.11,414.19 816.91,414.18 818.70,414.18 820.49,414.17 822.29,414.17 824.08,414.16 825.88,414.16 827.67,414.16 829.46,414.15 831.26,414.15 833.05,414.15" fill="none" stroke="#e6388a" stroke-width="1.5"/>
<path d="M617.80,542.86V556.13M612.80,542.86h10M612.80,556.13h10" stroke="#3d5aab" stroke-width="1.5" fill="none"/>
<rect x="614.76" y="546.45" width="6.08" height="6.08" fill="#fff" stroke="#3d5aab" stroke-width="1.4"/>
<path d="M648.55,542.86V556.13M643.55,542.86h10M643.55,556.13h10" stroke="#3d5aab" stroke-width="1.5" fill="none"/>
<rect x="645.51" y="546.45" width="6.08" height="6.08" fill="#fff" stroke="#3d5aab" stroke-width="1.4"/>
<path d="M679.30,542.86V556.13M674.30,542.86h10M674.30,556.13h10" stroke="#3d5aab" stroke-width="1.5" fill="none"/>
<rect x="676.26" y="546.45" width="6.08" height="6.08" fill="#fff" stroke="#3d5aab" stroke-width="1.4"/>
<path d="M710.05,545.51V558.78M705.05,545.51h10M705.05,558.78h10" stroke="#3d5aab" stroke-width="1.5" fill="none"/>
<rect x="707.01" y="549.11" width="6.08" height="6.08" fill="#fff" stroke="#3d5aab" stroke-width="1.4"/>
<path d="M740.80,524.28V537.55M735.80,524.28h10M735.80,537.55h10" stroke="#3d5aab" stroke-width="1.5" fill="none"/>
<rect x="737.76" y="527.87" width="6.08" height="6.08" fill="#fff" stroke="#3d5aab" stroke-width="1.4"/>
<path d="M771.55,477.83V491.10M766.55,477.83h10M766.55,491.10h10" stroke="#3d5aab" stroke-width="1.5" fill="none"/>
<rect x="768.51" y="481.43" width="6.08" height="6.08" fill="#fff" stroke="#3d5aab" stroke-width="1.4"/>
<path d="M802.30,418.12V431.39M797.30,418.12h10M797.30,431.39h10" stroke="#3d5aab" stroke-width="1.5" fill="none"/>
<rect x="799.26" y="421.71" width="6.08" height="6.08" fill="#fff" stroke="#3d5aab" stroke-width="1.4"/>
<path d="M833.05,410.16V426.08M828.05,410.16h10M828.05,426.08h10" stroke="#3d5aab" stroke-width="1.5" fill="none"/>
<rect x="830.01" y="415.08" width="6.08" height="6.08" fill="#fff" stroke="#3d5aab" stroke-width="1.4"/>
<path d="M617.80,544.18V554.80M612.80,544.18h10M612.80,554.80h10" stroke="#e6388a" stroke-width="1.5" fill="none"/>
<circle cx="617.80" cy="549.49" r="3.21" fill="#fff" stroke="#e6388a" stroke-width="1.4"/>
<path d="M648.55,542.86V556.13M643.55,542.86h10M643.55,556.13h10" stroke="#e6388a" stroke-width="1.5" fill="none"/>
<circle cx="648.55" cy="549.49" r="3.21" fill="#fff" stroke="#e6388a" stroke-width="1.4"/>
<path d="M679.30,542.86V556.13M674.30,542.86h10M674.30,556.13h10" stroke="#e6388a" stroke-width="1.5" fill="none"/>
<circle cx="679.30" cy="549.49" r="3.21" fill="#fff" stroke="#e6388a" stroke-width="1.4"/>
<path d="M710.05,549.49V560.11M705.05,549.49h10M705.05,560.11h10" stroke="#e6388a" stroke-width="1.5" fill="none"/>
<circle cx="710.05" cy="554.80" r="3.21" fill="#fff" stroke="#e6388a" stroke-width="1.4"/>
<path d="M740.80,526.93V548.16M735.80,526.93h10M735.80,548.16h10" stroke="#e6388a" stroke-width="1.5" fill="none"/>
<circle cx="740.80" cy="537.55" r="3.21" fill="#fff" stroke="#e6388a" stroke-width="1.4"/>
<path d="M771.55,485.80V504.37M766.55,485.80h10M766.55,504.37h10" stroke="#e6388a" stroke-width="1.5" fill="none"/>
<circle cx="771.55" cy="495.08" r="3.21" fill="#fff" stroke="#e6388a" stroke-width="1.4"/>
<path d="M802.30,430.06V445.99M797.30,430.06h10M797.30,445.99h10" stroke="#e6388a" stroke-width="1.5" fill="none"/>
<circle cx="802.30" cy="438.02" r="3.21" fill="#fff" stroke="#e6388a" stroke-width="1.4"/>
<path d="M833.05,408.83V424.75M828.05,408.83h10M828.05,424.75h10" stroke="#e6388a" stroke-width="1.5" fill="none"/>
<circle cx="833.05" cy="416.79" r="3.21" fill="#fff" stroke="#e6388a" stroke-width="1.4"/>
<path d="M617.80,539.54V552.81M612.80,539.54h10M612.80,552.81h10" stroke="#3d5aab" stroke-width="1.5" fill="none"/>
<rect x="614.06" y="542.43" width="7.48" height="7.48" fill="#3d5aab"/>
<path d="M648.55,534.89V548.16M643.55,534.89h10M643.55,548.16h10" stroke="#3d5aab" stroke-width="1.5" fill="none"/>
<rect x="644.81" y="537.79" width="7.48" height="7.48" fill="#3d5aab"/>
<path d="M679.30,476.51V526.93M674.30,476.51h10M674.30,526.93h10" stroke="#3d5aab" stroke-width="1.5" fill="none"/>
<rect x="675.56" y="497.98" width="7.48" height="7.48" fill="#3d5aab"/>
<path d="M710.05,414.14V459.26M705.05,414.14h10M705.05,459.26h10" stroke="#3d5aab" stroke-width="1.5" fill="none"/>
<rect x="706.31" y="432.96" width="7.48" height="7.48" fill="#3d5aab"/>
<path d="M740.80,412.81V426.08M735.80,412.81h10M735.80,426.08h10" stroke="#3d5aab" stroke-width="1.5" fill="none"/>
<rect x="737.06" y="415.71" width="7.48" height="7.48" fill="#3d5aab"/>
<path d="M771.55,407.50V420.77M766.55,407.50h10M766.55,420.77h10" stroke="#3d5aab" stroke-width="1.5" fill="none"/>
<rect x="767.81" y="410.40" width="7.48" height="7.48" fill="#3d5aab"/>
<path d="M802.30,407.50V420.77M797.30,407.50h10M797.30,420.77h10" stroke="#3d5aab" stroke-width="1.5" fill="none"/>
<rect x="798.56" y="410.40" width="7.48" height="7.48" fill="#3d5aab"/>
<path d="M833.05,404.85V418.12M828.05,404.85h10M828.05,418.12h10" stroke="#3d5aab" stroke-width="1.5" fill="none"/>
<rect x="829.31" y="407.74" width="7.48" height="7.48" fill="#3d5aab"/>
<path d="M617.80,541.53V554.80M612.80,541.53h10M612.80,554.80h10" stroke="#e6388a" stroke-width="1.5" fill="none"/>
<circle cx="617.80" cy="548.16" r="3.91" fill="#e6388a"/>
<path d="M648.55,532.24V553.47M643.55,532.24h10M643.55,553.47h10" stroke="#e6388a" stroke-width="1.5" fill="none"/>
<circle cx="648.55" cy="542.86" r="3.91" fill="#e6388a"/>
<path d="M679.30,526.93V542.86M674.30,526.93h10M674.30,542.86h10" stroke="#e6388a" stroke-width="1.5" fill="none"/>
<circle cx="679.30" cy="534.89" r="3.91" fill="#e6388a"/>
<path d="M710.05,467.22V493.76M705.05,467.22h10M705.05,493.76h10" stroke="#e6388a" stroke-width="1.5" fill="none"/>
<circle cx="710.05" cy="480.49" r="3.91" fill="#e6388a"/>
<path d="M740.80,424.75V432.72M735.80,424.75h10M735.80,432.72h10" stroke="#e6388a" stroke-width="1.5" fill="none"/>
<circle cx="740.80" cy="428.74" r="3.91" fill="#e6388a"/>
<path d="M771.55,407.50V420.77M766.55,407.50h10M766.55,420.77h10" stroke="#e6388a" stroke-width="1.5" fill="none"/>
<circle cx="771.55" cy="414.14" r="3.91" fill="#e6388a"/>
<path d="M802.30,407.50V420.77M797.30,407.50h10M797.30,420.77h10" stroke="#e6388a" stroke-width="1.5" fill="none"/>
<circle cx="802.30" cy="414.14" r="3.91" fill="#e6388a"/>
<path d="M833.05,407.50V420.77M828.05,407.50h10M828.05,420.77h10" stroke="#e6388a" stroke-width="1.5" fill="none"/>
<circle cx="833.05" cy="414.14" r="3.91" fill="#e6388a"/>
<path d="M1140.1,393.8V566" stroke="#000" stroke-width="1.5" fill="none"/>
<path d="M1135.6,552.80H1140.1" stroke="#000" stroke-width="1.5"/>
<text x="1131.6" y="561.10" text-anchor="end" font-size="20.8">0</text>
<path d="M1135.6,519.62H1140.1" stroke="#000" stroke-width="1.5"/>
<text x="1131.6" y="527.92" text-anchor="end" font-size="20.8">25</text>
<path d="M1135.6,486.45H1140.1" stroke="#000" stroke-width="1.5"/>
<text x="1131.6" y="494.75" text-anchor="end" font-size="20.8">50</text>
<path d="M1135.6,453.27H1140.1" stroke="#000" stroke-width="1.5"/>
<text x="1131.6" y="461.57" text-anchor="end" font-size="20.8">75</text>
<path d="M1135.6,420.10H1140.1" stroke="#000" stroke-width="1.5"/>
<text x="1131.6" y="428.40" text-anchor="end" font-size="20.8">100</text>
<path d="M1163.4,595.9H1409.5" stroke="#000" stroke-width="1.5" fill="none"/>
<path d="M1163.40,595.9v5" stroke="#000" stroke-width="1.5"/>
<text transform="translate(1173.90,612.90) rotate(-45)" text-anchor="end" font-size="20.8">&#8722;13</text>
<path d="M1194.16,595.9v5" stroke="#000" stroke-width="1.5"/>
<text transform="translate(1204.66,612.90) rotate(-45)" text-anchor="end" font-size="20.8">&#8722;12</text>
<path d="M1224.93,595.9v5" stroke="#000" stroke-width="1.5"/>
<text transform="translate(1235.43,612.90) rotate(-45)" text-anchor="end" font-size="20.8">&#8722;11</text>
<path d="M1255.69,595.9v5" stroke="#000" stroke-width="1.5"/>
<text transform="translate(1266.19,612.90) rotate(-45)" text-anchor="end" font-size="20.8">&#8722;10</text>
<path d="M1286.45,595.9v5" stroke="#000" stroke-width="1.5"/>
<text transform="translate(1296.95,612.90) rotate(-45)" text-anchor="end" font-size="20.8">&#8722;9</text>
<path d="M1317.21,595.9v5" stroke="#000" stroke-width="1.5"/>
<text transform="translate(1327.71,612.90) rotate(-45)" text-anchor="end" font-size="20.8">&#8722;8</text>
<path d="M1347.97,595.9v5" stroke="#000" stroke-width="1.5"/>
<text transform="translate(1358.47,612.90) rotate(-45)" text-anchor="end" font-size="20.8">&#8722;7</text>
<path d="M1378.74,595.9v5" stroke="#000" stroke-width="1.5"/>
<text transform="translate(1389.24,612.90) rotate(-45)" text-anchor="end" font-size="20.8">&#8722;6</text>
<path d="M1409.50,595.9v5" stroke="#000" stroke-width="1.5"/>
<text transform="translate(1420.00,612.90) rotate(-45)" text-anchor="end" font-size="20.8">&#8722;5</text>
<path d="M1148.1,552.80H1409.5" stroke="#000" stroke-width="1.6" stroke-dasharray="1.6 6.9" fill="none"/>
<text x="1222.7" y="383.8" font-size="20.6">BRET2 G<tspan font-size="12.2" dy="7">oA</tspan></text>
<text x="1228" y="658.8" font-size="20.6">log[drug (M)]</text>
<text transform="translate(1093.1,485.09999999999997) rotate(-90)" text-anchor="middle" font-size="20.8">U50,488 (%)</text>
<polyline points="1163.40,550.13 1165.19,550.13 1166.99,550.13 1168.78,550.13 1170.58,550.12 1172.37,550.12 1174.17,550.12 1175.96,550.11 1177.76,550.11 1179.55,550.10 1181.34,550.09 1183.14,550.09 1184.93,550.08 1186.73,550.07 1188.52,550.06 1190.32,550.04 1192.11,550.03 1193.91,550.01 1195.70,549.99 1197.50,549.97 1199.29,549.95 1201.08,549.92 1202.88,549.89 1204.67,549.85 1206.47,549.81 1208.26,549.76 1210.06,549.70 1211.85,549.64 1213.65,549.57 1215.44,549.48 1217.23,549.39 1219.03,549.28 1220.82,549.16 1222.62,549.02 1224.41,548.86 1226.21,548.67 1228.00,548.46 1229.80,548.22 1231.59,547.95 1233.38,547.64 1235.18,547.29 1236.97,546.89 1238.77,546.44 1240.56,545.92 1242.36,545.33 1244.15,544.67 1245.95,543.92 1247.74,543.07 1249.54,542.11 1251.33,541.04 1253.12,539.83 1254.92,538.47 1256.71,536.96 1258.51,535.27 1260.30,533.39 1262.10,531.32 1263.89,529.04 1265.69,526.53 1267.48,523.80 1269.27,520.83 1271.07,517.63 1272.86,514.19 1274.66,510.54 1276.45,506.67 1278.25,502.62 1280.04,498.40 1281.84,494.04 1283.63,489.58 1285.42,485.06 1287.22,480.52 1289.01,476.00 1290.81,471.53 1292.60,467.16 1294.40,462.91 1296.19,458.83 1297.99,454.94 1299.78,451.25 1301.57,447.79 1303.37,444.55 1305.16,441.55 1306.96,438.78 1308.75,436.25 1310.55,433.93 1312.34,431.83 1314.14,429.93 1315.93,428.21 1317.73,426.67 1319.52,425.30 1321.31,424.07 1323.11,422.97 1324.90,422.00 1326.70,421.13 1328.49,420.37 1330.29,419.69 1332.08,419.10 1333.88,418.57 1335.67,418.11 1337.46,417.70 1339.26,417.34 1341.05,417.03 1342.85,416.75 1344.64,416.51 1346.44,416.29 1348.23,416.11 1350.03,415.94 1351.82,415.80 1353.61,415.67 1355.41,415.56 1357.20,415.47 1359.00,415.38 1360.79,415.31 1362.59,415.24 1364.38,415.19 1366.18,415.14 1367.97,415.09 1369.77,415.06 1371.56,415.02 1373.35,414.99 1375.15,414.97 1376.94,414.95 1378.74,414.93" fill="none" stroke="#3d5aab" stroke-width="1.5" stroke-dasharray="11 6"/>
<polyline points="1163.40,550.15 1165.19,550.15 1166.99,550.15 1168.78,550.14 1170.58,550.14 1172.37,550.14 1174.17,550.14 1175.96,550.14 1177.76,550.14 1179.55,550.14 1181.34,550.14 1183.14,550.14 1184.93,550.14 1186.73,550.14 1188.52,550.14 1190.32,550.14 1192.11,550.14 1193.91,550.14 1195.70,550.14 1197.50,550.14 1199.29,550.13 1201.08,550.13 1202.88,550.13 1204.67,550.13 1206.47,550.13 1208.26,550.12 1210.06,550.12 1211.85,550.12 1213.65,550.11 1215.44,550.11 1217.23,550.10 1219.03,550.10 1220.82,550.09 1222.62,550.08 1224.41,550.07 1226.21,550.06 1228.00,550.05 1229.80,550.04 1231.59,550.02 1233.38,550.00 1235.18,549.98 1236.97,549.96 1238.77,549.93 1240.56,549.90 1242.36,549.87 1244.15,549.83 1245.95,549.78 1247.74,549.73 1249.54,549.67 1251.33,549.60 1253.12,549.52 1254.92,549.43 1256.71,549.33 1258.51,549.22 1260.30,549.08 1262.10,548.93 1263.89,548.76 1265.69,548.56 1267.48,548.34 1269.27,548.08 1271.07,547.79 1272.86,547.46 1274.66,547.08 1276.45,546.65 1278.25,546.16 1280.04,545.61 1281.84,544.98 1283.63,544.27 1285.42,543.46 1287.22,542.55 1289.01,541.53 1290.81,540.38 1292.60,539.09 1294.40,537.64 1296.19,536.03 1297.99,534.23 1299.78,532.24 1301.57,530.05 1303.37,527.63 1305.16,524.98 1306.96,522.10 1308.75,518.98 1310.55,515.62 1312.34,512.02 1314.14,508.21 1315.93,504.19 1317.73,499.98 1319.52,495.62 1321.31,491.13 1323.11,486.56 1324.90,481.94 1326.70,477.31 1328.49,472.71 1330.29,468.19 1332.08,463.78 1333.88,459.52 1335.67,455.43 1337.46,451.54 1339.26,447.87 1341.05,444.43 1342.85,441.23 1344.64,438.27 1346.44,435.54 1348.23,433.04 1350.03,430.77 1351.82,428.71 1353.61,426.85 1355.41,425.17 1357.20,423.67 1359.00,422.33 1360.79,421.13 1362.59,420.07 1364.38,419.12 1366.18,418.28 1367.97,417.54 1369.77,416.88 1371.56,416.31 1373.35,415.80 1375.15,415.35 1376.94,414.95 1378.74,414.60" fill="none" stroke="#e6388a" stroke-width="1.5" stroke-dasharray="11 6"/>
<polyline points="1163.40,548.84 1165.19,548.65 1166.99,548.44 1168.78,548.20 1170.58,547.92 1172.37,547.61 1174.17,547.25 1175.96,546.84 1177.76,546.38 1179.55,545.86 1181.34,545.26 1183.14,544.59 1184.93,543.83 1186.73,542.97 1188.52,542.00 1190.32,540.90 1192.11,539.68 1193.91,538.31 1195.70,536.77 1197.50,535.06 1199.29,533.17 1201.08,531.07 1202.88,528.76 1204.67,526.23 1206.47,523.47 1208.26,520.47 1210.06,517.25 1211.85,513.79 1213.65,510.11 1215.44,506.22 1217.23,502.14 1219.03,497.91 1220.82,493.54 1222.62,489.07 1224.41,484.55 1226.21,480.00 1228.00,475.48 1229.80,471.02 1231.59,466.66 1233.38,462.44 1235.18,458.38 1236.97,454.51 1238.77,450.85 1240.56,447.41 1242.36,444.20 1244.15,441.22 1245.95,438.48 1247.74,435.97 1249.54,433.68 1251.33,431.60 1253.12,429.72 1254.92,428.03 1256.71,426.51 1258.51,425.15 1260.30,423.94 1262.10,422.85 1263.89,421.89 1265.69,421.04 1267.48,420.29 1269.27,419.62 1271.07,419.03 1272.86,418.52 1274.66,418.06 1276.45,417.66 1278.25,417.30 1280.04,416.99 1281.84,416.72 1283.63,416.48 1285.42,416.27 1287.22,416.09 1289.01,415.93 1290.81,415.78 1292.60,415.66 1294.40,415.55 1296.19,415.46 1297.99,415.37 1299.78,415.30 1301.57,415.24 1303.37,415.18 1305.16,415.13 1306.96,415.09 1308.75,415.05 1310.55,415.02 1312.34,414.99 1314.14,414.97 1315.93,414.94 1317.73,414.93 1319.52,414.91 1321.31,414.89 1323.11,414.88 1324.90,414.87 1326.70,414.86 1328.49,414.85 1330.29,414.84 1332.08,414.84 1333.88,414.83 1335.67,414.83 1337.46,414.82 1339.26,414.82 1341.05,414.82 1342.85,414.81 1344.64,414.81 1346.44,414.81 1348.23,414.81 1350.03,414.80 1351.82,414.80 1353.61,414.80 1355.41,414.80 1357.20,414.80 1359.00,414.80 1360.79,414.80 1362.59,414.80 1364.38,414.80 1366.18,414.80 1367.97,414.80 1369.77,414.79 1371.56,414.79 1373.35,414.79 1375.15,414.79 1376.94,414.79 1378.74,414.79" fill="none" stroke="#3d5aab" stroke-width="1.5"/>
<polyline points="1163.40,549.63 1165.19,549.55 1166.99,549.47 1168.78,549.37 1170.58,549.26 1172.37,549.13 1174.17,548.99 1175.96,548.82 1177.76,548.63 1179.55,548.42 1181.34,548.17 1183.14,547.89 1184.93,547.57 1186.73,547.21 1188.52,546.80 1190.32,546.33 1192.11,545.80 1193.91,545.20 1195.70,544.52 1197.50,543.74 1199.29,542.87 1201.08,541.89 1202.88,540.78 1204.67,539.53 1206.47,538.14 1208.26,536.58 1210.06,534.84 1211.85,532.91 1213.65,530.77 1215.44,528.42 1217.23,525.84 1219.03,523.02 1220.82,519.95 1222.62,516.65 1224.41,513.10 1226.21,509.32 1228.00,505.32 1229.80,501.12 1231.59,496.75 1233.38,492.23 1235.18,487.61 1236.97,482.92 1238.77,478.20 1240.56,473.49 1242.36,468.84 1244.15,464.29 1245.95,459.86 1247.74,455.61 1249.54,451.55 1251.33,447.69 1253.12,444.07 1254.92,440.69 1256.71,437.55 1258.51,434.65 1260.30,432.00 1262.10,429.57 1263.89,427.37 1265.69,425.37 1267.48,423.58 1269.27,421.96 1271.07,420.52 1272.86,419.23 1274.66,418.08 1276.45,417.05 1278.25,416.15 1280.04,415.35 1281.84,414.64 1283.63,414.01 1285.42,413.46 1287.22,412.97 1289.01,412.54 1290.81,412.16 1292.60,411.83 1294.40,411.54 1296.19,411.29 1297.99,411.06 1299.78,410.87 1301.57,410.69 1303.37,410.54 1305.16,410.41 1306.96,410.29 1308.75,410.19 1310.55,410.10 1312.34,410.03 1314.14,409.96 1315.93,409.90 1317.73,409.85 1319.52,409.80 1321.31,409.76 1323.11,409.73 1324.90,409.70 1326.70,409.67 1328.49,409.65 1330.29,409.63 1332.08,409.61 1333.88,409.59 1335.67,409.58 1337.46,409.57 1339.26,409.56 1341.05,409.55 1342.85,409.54 1344.64,409.53 1346.44,409.53 1348.23,409.52 1350.03,409.52 1351.82,409.51 1353.61,409.51 1355.41,409.51 1357.20,409.50 1359.00,409.50 1360.79,409.50 1362.59,409.50 1364.38,409.50 1366.18,409.49 1367.97,409.49 1369.77,409.49 1371.56,409.49 1373.35,409.49 1375.15,409.49 1376.94,409.49 1378.74,409.49" fill="none" stroke="#e6388a" stroke-width="1.5"/>
<path d="M1163.40,542.18V555.45M1158.40,542.18h10M1158.40,555.45h10" stroke="#3d5aab" stroke-width="1.5" fill="none"/>
<rect x="1160.36" y="545.78" width="6.08" height="6.08" fill="#fff" stroke="#3d5aab" stroke-width="1.4"/>
<path d="M1194.16,546.16V559.43M1189.16,546.16h10M1189.16,559.43h10" stroke="#3d5aab" stroke-width="1.5" fill="none"/>
<rect x="1191.12" y="549.76" width="6.08" height="6.08" fill="#fff" stroke="#3d5aab" stroke-width="1.4"/>
<path d="M1224.93,543.51V556.78M1219.93,543.51h10M1219.93,556.78h10" stroke="#3d5aab" stroke-width="1.5" fill="none"/>
<rect x="1221.89" y="547.11" width="6.08" height="6.08" fill="#fff" stroke="#3d5aab" stroke-width="1.4"/>
<path d="M1255.69,535.55V556.78M1250.69,535.55h10M1250.69,556.78h10" stroke="#3d5aab" stroke-width="1.5" fill="none"/>
<rect x="1252.65" y="543.12" width="6.08" height="6.08" fill="#fff" stroke="#3d5aab" stroke-width="1.4"/>
<path d="M1286.45,477.16V493.08M1281.45,477.16h10M1281.45,493.08h10" stroke="#3d5aab" stroke-width="1.5" fill="none"/>
<rect x="1283.41" y="482.08" width="6.08" height="6.08" fill="#fff" stroke="#3d5aab" stroke-width="1.4"/>
<path d="M1317.21,434.70V447.97M1312.21,434.70h10M1312.21,447.97h10" stroke="#3d5aab" stroke-width="1.5" fill="none"/>
<rect x="1314.17" y="438.29" width="6.08" height="6.08" fill="#fff" stroke="#3d5aab" stroke-width="1.4"/>
<path d="M1347.97,409.48V422.75M1342.97,409.48h10M1342.97,422.75h10" stroke="#3d5aab" stroke-width="1.5" fill="none"/>
<rect x="1344.93" y="413.08" width="6.08" height="6.08" fill="#fff" stroke="#3d5aab" stroke-width="1.4"/>
<path d="M1378.74,405.50V418.77M1373.74,405.50h10M1373.74,418.77h10" stroke="#3d5aab" stroke-width="1.5" fill="none"/>
<rect x="1375.70" y="409.10" width="6.08" height="6.08" fill="#fff" stroke="#3d5aab" stroke-width="1.4"/>
<path d="M1163.40,540.86V554.13M1158.40,540.86h10M1158.40,554.13h10" stroke="#e6388a" stroke-width="1.5" fill="none"/>
<circle cx="1163.40" cy="547.49" r="3.21" fill="#fff" stroke="#e6388a" stroke-width="1.4"/>
<path d="M1194.16,542.18V555.45M1189.16,542.18h10M1189.16,555.45h10" stroke="#e6388a" stroke-width="1.5" fill="none"/>
<circle cx="1194.16" cy="548.82" r="3.21" fill="#fff" stroke="#e6388a" stroke-width="1.4"/>
<path d="M1224.93,547.49V560.76M1219.93,547.49h10M1219.93,560.76h10" stroke="#e6388a" stroke-width="1.5" fill="none"/>
<circle cx="1224.93" cy="554.13" r="3.21" fill="#fff" stroke="#e6388a" stroke-width="1.4"/>
<path d="M1255.69,546.16V559.43M1250.69,546.16h10M1250.69,559.43h10" stroke="#e6388a" stroke-width="1.5" fill="none"/>
<circle cx="1255.69" cy="552.80" r="3.21" fill="#fff" stroke="#e6388a" stroke-width="1.4"/>
<path d="M1286.45,536.88V552.80M1281.45,536.88h10M1281.45,552.80h10" stroke="#e6388a" stroke-width="1.5" fill="none"/>
<circle cx="1286.45" cy="544.84" r="3.21" fill="#fff" stroke="#e6388a" stroke-width="1.4"/>
<path d="M1317.21,509.01V516.97M1312.21,509.01h10M1312.21,516.97h10" stroke="#e6388a" stroke-width="1.5" fill="none"/>
<circle cx="1317.21" cy="512.99" r="3.21" fill="#fff" stroke="#e6388a" stroke-width="1.4"/>
<path d="M1347.97,421.43V437.35M1342.97,421.43h10M1342.97,437.35h10" stroke="#e6388a" stroke-width="1.5" fill="none"/>
<circle cx="1347.97" cy="429.39" r="3.21" fill="#fff" stroke="#e6388a" stroke-width="1.4"/>
<path d="M1378.74,404.18V430.72M1373.74,404.18h10M1373.74,430.72h10" stroke="#e6388a" stroke-width="1.5" fill="none"/>
<circle cx="1378.74" cy="417.45" r="3.21" fill="#fff" stroke="#e6388a" stroke-width="1.4"/>
<path d="M1163.40,538.20V559.43M1158.40,538.20h10M1158.40,559.43h10" stroke="#3d5aab" stroke-width="1.5" fill="none"/>
<rect x="1159.66" y="545.08" width="7.48" height="7.48" fill="#3d5aab"/>
<path d="M1194.16,516.97V548.82M1189.16,516.97h10M1189.16,548.82h10" stroke="#3d5aab" stroke-width="1.5" fill="none"/>
<rect x="1190.42" y="529.15" width="7.48" height="7.48" fill="#3d5aab"/>
<path d="M1224.93,478.49V497.07M1219.93,478.49h10M1219.93,497.07h10" stroke="#3d5aab" stroke-width="1.5" fill="none"/>
<rect x="1221.19" y="484.04" width="7.48" height="7.48" fill="#3d5aab"/>
<path d="M1255.69,410.81V450.62M1250.69,410.81h10M1250.69,450.62h10" stroke="#3d5aab" stroke-width="1.5" fill="none"/>
<rect x="1251.95" y="426.98" width="7.48" height="7.48" fill="#3d5aab"/>
<path d="M1286.45,408.16V432.04M1281.45,408.16h10M1281.45,432.04h10" stroke="#3d5aab" stroke-width="1.5" fill="none"/>
<rect x="1282.71" y="416.36" width="7.48" height="7.48" fill="#3d5aab"/>
<path d="M1317.21,414.79V428.06M1312.21,414.79h10M1312.21,428.06h10" stroke="#3d5aab" stroke-width="1.5" fill="none"/>
<rect x="1313.47" y="417.69" width="7.48" height="7.48" fill="#3d5aab"/>
<path d="M1347.97,408.16V421.43M1342.97,408.16h10M1342.97,421.43h10" stroke="#3d5aab" stroke-width="1.5" fill="none"/>
<rect x="1344.23" y="411.05" width="7.48" height="7.48" fill="#3d5aab"/>
<path d="M1378.74,400.20V413.47M1373.74,400.20h10M1373.74,413.47h10" stroke="#3d5aab" stroke-width="1.5" fill="none"/>
<rect x="1375.00" y="403.09" width="7.48" height="7.48" fill="#3d5aab"/>
<path d="M1163.40,540.86V554.13M1158.40,540.86h10M1158.40,554.13h10" stroke="#e6388a" stroke-width="1.5" fill="none"/>
<circle cx="1163.40" cy="547.49" r="3.91" fill="#e6388a"/>
<path d="M1194.16,528.91V552.80M1189.16,528.91h10M1189.16,552.80h10" stroke="#e6388a" stroke-width="1.5" fill="none"/>
<circle cx="1194.16" cy="540.86" r="3.91" fill="#e6388a"/>
<path d="M1224.93,507.68V520.95M1219.93,507.68h10M1219.93,520.95h10" stroke="#e6388a" stroke-width="1.5" fill="none"/>
<circle cx="1224.93" cy="514.32" r="3.91" fill="#e6388a"/>
<path d="M1255.69,440.00V461.24M1250.69,440.00h10M1250.69,461.24h10" stroke="#e6388a" stroke-width="1.5" fill="none"/>
<circle cx="1255.69" cy="450.62" r="3.91" fill="#e6388a"/>
<path d="M1286.45,408.16V434.70M1281.45,408.16h10M1281.45,434.70h10" stroke="#e6388a" stroke-width="1.5" fill="none"/>
<circle cx="1286.45" cy="421.43" r="3.91" fill="#e6388a"/>
<path d="M1317.21,405.50V418.77M1312.21,405.50h10M1312.21,418.77h10" stroke="#e6388a" stroke-width="1.5" fill="none"/>
<circle cx="1317.21" cy="412.14" r="3.91" fill="#e6388a"/>
<path d="M1347.97,401.52V414.79M1342.97,401.52h10M1342.97,414.79h10" stroke="#e6388a" stroke-width="1.5" fill="none"/>
<circle cx="1347.97" cy="408.16" r="3.91" fill="#e6388a"/>
<path d="M1378.74,397.54V405.50M1373.74,397.54h10M1373.74,405.50h10" stroke="#e6388a" stroke-width="1.5" fill="none"/>
<circle cx="1378.74" cy="401.52" r="3.91" fill="#e6388a"/>
<path d="M594.5,709.2V881.3" stroke="#000" stroke-width="1.5" fill="none"/>
<path d="M590.0,868.20H594.5" stroke="#000" stroke-width="1.5"/>
<text x="586.0" y="876.50" text-anchor="end" font-size="20.8">0</text>
<path d="M590.0,835.03H594.5" stroke="#000" stroke-width="1.5"/>
<text x="586.0" y="843.33" text-anchor="end" font-size="20.8">25</text>
<path d="M590.0,801.85H594.5" stroke="#000" stroke-width="1.5"/>
<text x="586.0" y="810.15" text-anchor="end" font-size="20.8">50</text>
<path d="M590.0,768.67H594.5" stroke="#000" stroke-width="1.5"/>
<text x="586.0" y="776.97" text-anchor="end" font-size="20.8">75</text>
<path d="M590.0,735.50H594.5" stroke="#000" stroke-width="1.5"/>
<text x="586.0" y="743.80" text-anchor="end" font-size="20.8">100</text>
<path d="M617.7,911.3H863.6" stroke="#000" stroke-width="1.5" fill="none"/>
<path d="M617.70,911.3v5" stroke="#000" stroke-width="1.5"/>
<text transform="translate(628.20,928.30) rotate(-45)" text-anchor="end" font-size="20.8">&#8722;13</text>
<path d="M648.44,911.3v5" stroke="#000" stroke-width="1.5"/>
<text transform="translate(658.94,928.30) rotate(-45)" text-anchor="end" font-size="20.8">&#8722;12</text>
<path d="M679.18,911.3v5" stroke="#000" stroke-width="1.5"/>
<text transform="translate(689.68,928.30) rotate(-45)" text-anchor="end" font-size="20.8">&#8722;11</text>
<path d="M709.91,911.3v5" stroke="#000" stroke-width="1.5"/>
<text transform="translate(720.41,928.30) rotate(-45)" text-anchor="end" font-size="20.8">&#8722;10</text>
<path d="M740.65,911.3v5" stroke="#000" stroke-width="1.5"/>
<text transform="translate(751.15,928.30) rotate(-45)" text-anchor="end" font-size="20.8">&#8722;9</text>
<path d="M771.39,911.3v5" stroke="#000" stroke-width="1.5"/>
<text transform="translate(781.89,928.30) rotate(-45)" text-anchor="end" font-size="20.8">&#8722;8</text>
<path d="M802.12,911.3v5" stroke="#000" stroke-width="1.5"/>
<text transform="translate(812.62,928.30) rotate(-45)" text-anchor="end" font-size="20.8">&#8722;7</text>
<path d="M832.86,911.3v5" stroke="#000" stroke-width="1.5"/>
<text transform="translate(843.36,928.30) rotate(-45)" text-anchor="end" font-size="20.8">&#8722;6</text>
<path d="M863.60,911.3v5" stroke="#000" stroke-width="1.5"/>
<text transform="translate(874.10,928.30) rotate(-45)" text-anchor="end" font-size="20.8">&#8722;5</text>
<path d="M602.5,868.20H863.6" stroke="#000" stroke-width="1.6" stroke-dasharray="1.6 6.9" fill="none"/>
<text x="690.3" y="706.6" font-size="20.6">BRET2 G<tspan font-size="12.2" dy="7">z</tspan></text>
<text x="681" y="971.1" font-size="20.6">log[drug (M)]</text>
<text transform="translate(547.5,800.45) rotate(-90)" text-anchor="middle" font-size="20.8">U50,488 (%)</text>
<polyline points="617.70,865.53 619.49,865.53 621.29,865.53 623.08,865.53 624.87,865.52 626.67,865.52 628.46,865.52 630.25,865.51 632.04,865.51 633.84,865.50 635.63,865.49 637.42,865.49 639.22,865.48 641.01,865.47 642.80,865.46 644.60,865.44 646.39,865.43 648.18,865.41 649.97,865.39 651.77,865.37 653.56,865.35 655.35,865.32 657.15,865.29 658.94,865.25 660.73,865.20 662.53,865.16 664.32,865.10 666.11,865.04 667.90,864.96 669.70,864.88 671.49,864.78 673.28,864.68 675.08,864.55 676.87,864.41 678.66,864.25 680.46,864.06 682.25,863.85 684.04,863.61 685.83,863.34 687.63,863.03 689.42,862.68 691.21,862.27 693.01,861.82 694.80,861.30 696.59,860.71 698.39,860.05 700.18,859.29 701.97,858.44 703.77,857.49 705.56,856.41 707.35,855.20 709.14,853.85 710.94,852.34 712.73,850.65 714.52,848.79 716.32,846.73 718.11,844.46 719.90,841.98 721.70,839.28 723.49,836.35 725.28,833.20 727.07,829.82 728.87,826.24 730.66,822.46 732.45,818.51 734.25,814.40 736.04,810.18 737.83,805.88 739.63,801.52 741.42,797.16 743.21,792.82 745.00,788.56 746.80,784.40 748.59,780.37 750.38,776.51 752.18,772.84 753.97,769.37 755.76,766.11 757.56,763.08 759.35,760.27 761.14,757.69 762.93,755.33 764.73,753.17 766.52,751.22 768.31,749.46 770.11,747.87 771.90,746.45 773.69,745.17 775.49,744.04 777.28,743.03 779.07,742.13 780.86,741.33 782.66,740.63 784.45,740.01 786.24,739.46 788.04,738.97 789.83,738.55 791.62,738.17 793.42,737.84 795.21,737.55 797.00,737.30 798.80,737.07 800.59,736.88 802.38,736.71 804.17,736.56 805.97,736.42 807.76,736.31 809.55,736.21 811.35,736.12 813.14,736.04 814.93,735.97 816.73,735.91 818.52,735.86 820.31,735.82 822.10,735.78 823.90,735.74 825.69,735.71 827.48,735.69 829.28,735.66 831.07,735.64 832.86,735.62" fill="none" stroke="#3d5aab" stroke-width="1.5" stroke-dasharray="11 6"/>
<polyline points="617.70,865.54 619.49,865.54 621.29,865.54 623.08,865.54 624.87,865.54 626.67,865.54 628.46,865.54 630.25,865.54 632.04,865.54 633.84,865.54 635.63,865.54 637.42,865.54 639.22,865.54 641.01,865.54 642.80,865.54 644.60,865.54 646.39,865.54 648.18,865.53 649.97,865.53 651.77,865.53 653.56,865.53 655.35,865.53 657.15,865.52 658.94,865.52 660.73,865.52 662.53,865.51 664.32,865.51 666.11,865.50 667.90,865.50 669.70,865.49 671.49,865.48 673.28,865.47 675.08,865.46 676.87,865.45 678.66,865.43 680.46,865.42 682.25,865.40 684.04,865.38 685.83,865.35 687.63,865.33 689.42,865.29 691.21,865.26 693.01,865.22 694.80,865.17 696.59,865.11 698.39,865.05 700.18,864.98 701.97,864.90 703.77,864.81 705.56,864.70 707.35,864.58 709.14,864.45 710.94,864.29 712.73,864.11 714.52,863.91 716.32,863.67 718.11,863.41 719.90,863.11 721.70,862.76 723.49,862.37 725.28,861.93 727.07,861.42 728.87,860.85 730.66,860.20 732.45,859.47 734.25,858.64 736.04,857.70 737.83,856.65 739.63,855.46 741.42,854.13 743.21,852.65 745.00,850.99 746.80,849.14 748.59,847.10 750.38,844.85 752.18,842.37 753.97,839.66 755.76,836.72 757.56,833.54 759.35,830.12 761.14,826.46 762.93,822.59 764.73,818.52 766.52,814.28 768.31,809.88 770.11,805.36 771.90,800.77 773.69,796.14 775.49,791.52 777.28,786.94 779.07,782.44 780.86,778.07 782.66,773.85 784.45,769.81 786.24,765.98 788.04,762.37 789.83,758.99 791.62,755.84 793.42,752.94 795.21,750.27 797.00,747.84 798.80,745.62 800.59,743.61 802.38,741.80 804.17,740.17 805.97,738.71 807.76,737.41 809.55,736.25 811.35,735.21 813.14,734.30 814.93,733.48 816.73,732.76 818.52,732.13 820.31,731.57 822.10,731.07 823.90,730.64 825.69,730.26 827.48,729.92 829.28,729.63 831.07,729.37 832.86,729.14" fill="none" stroke="#e6388a" stroke-width="1.5" stroke-dasharray="11 6"/>
<polyline points="617.70,862.54 619.49,862.12 621.29,861.64 623.08,861.09 624.87,860.48 626.67,859.78 628.46,859.00 630.25,858.11 632.04,857.11 633.84,855.98 635.63,854.72 637.42,853.31 639.22,851.73 641.01,849.98 642.80,848.04 644.60,845.90 646.39,843.55 648.18,840.98 649.97,838.19 651.77,835.16 653.56,831.91 655.35,828.45 657.15,824.77 658.94,820.90 660.73,816.86 662.53,812.68 664.32,808.38 666.11,804.01 667.90,799.61 669.70,795.20 671.49,790.84 673.28,786.56 675.08,782.39 676.87,778.37 678.66,774.52 680.46,770.87 682.25,767.42 684.04,764.20 685.83,761.20 687.63,758.43 689.42,755.89 691.21,753.56 693.01,751.44 694.80,749.53 696.59,747.80 698.39,746.24 700.18,744.85 701.97,743.60 703.77,742.49 705.56,741.51 707.35,740.63 709.14,739.85 710.94,739.17 712.73,738.56 714.52,738.02 716.32,737.55 718.11,737.14 719.90,736.77 721.70,736.45 723.49,736.17 725.28,735.92 727.07,735.70 728.87,735.51 730.66,735.35 732.45,735.20 734.25,735.07 736.04,734.96 737.83,734.86 739.63,734.78 741.42,734.70 743.21,734.63 745.00,734.58 746.80,734.53 748.59,734.48 750.38,734.44 752.18,734.41 753.97,734.38 755.76,734.35 757.56,734.33 759.35,734.31 761.14,734.29 762.93,734.28 764.73,734.27 766.52,734.25 768.31,734.24 770.11,734.23 771.90,734.23 773.69,734.22 775.49,734.21 777.28,734.21 779.07,734.20 780.86,734.20 782.66,734.20 784.45,734.19 786.24,734.19 788.04,734.19 789.83,734.19 791.62,734.19 793.42,734.18 795.21,734.18 797.00,734.18 798.80,734.18 800.59,734.18 802.38,734.18 804.17,734.18 805.97,734.18 807.76,734.18 809.55,734.18 811.35,734.18 813.14,734.18 814.93,734.18 816.73,734.17 818.52,734.17 820.31,734.17 822.10,734.17 823.90,734.17 825.69,734.17 827.48,734.17 829.28,734.17 831.07,734.17 832.86,734.17" fill="none" stroke="#3d5aab" stroke-width="1.5"/>
<polyline points="617.70,865.20 619.49,865.15 621.29,865.09 623.08,865.02 624.87,864.95 626.67,864.86 628.46,864.77 630.25,864.66 632.04,864.53 633.84,864.38 635.63,864.22 637.42,864.03 639.22,863.82 641.01,863.57 642.80,863.29 644.60,862.97 646.39,862.61 648.18,862.20 649.97,861.73 651.77,861.20 653.56,860.60 655.35,859.92 657.15,859.16 658.94,858.29 660.73,857.31 662.53,856.21 664.32,854.98 666.11,853.60 667.90,852.06 669.70,850.35 671.49,848.45 673.28,846.36 675.08,844.05 676.87,841.53 678.66,838.79 680.46,835.82 682.25,832.63 684.04,829.22 685.83,825.61 687.63,821.80 689.42,817.81 691.21,813.69 693.01,809.45 694.80,805.13 696.59,800.77 698.39,796.41 700.18,792.09 701.97,787.84 703.77,783.70 705.56,779.70 707.35,775.87 709.14,772.23 710.94,768.79 712.73,765.58 714.52,762.58 716.32,759.81 718.11,757.27 719.90,754.94 721.70,752.82 723.49,750.91 725.28,749.17 727.07,747.61 728.87,746.22 730.66,744.97 732.45,743.85 734.25,742.86 736.04,741.98 737.83,741.21 739.63,740.52 741.42,739.91 743.21,739.37 745.00,738.90 746.80,738.48 748.59,738.11 750.38,737.79 752.18,737.51 753.97,737.26 755.76,737.04 757.56,736.85 759.35,736.68 761.14,736.53 762.93,736.40 764.73,736.29 766.52,736.19 768.31,736.11 770.11,736.03 771.90,735.96 773.69,735.91 775.49,735.85 777.28,735.81 779.07,735.77 780.86,735.74 782.66,735.71 784.45,735.68 786.24,735.66 788.04,735.64 789.83,735.62 791.62,735.61 793.42,735.59 795.21,735.58 797.00,735.57 798.80,735.56 800.59,735.55 802.38,735.55 804.17,735.54 805.97,735.54 807.76,735.53 809.55,735.53 811.35,735.52 813.14,735.52 814.93,735.52 816.73,735.52 818.52,735.51 820.31,735.51 822.10,735.51 823.90,735.51 825.69,735.51 827.48,735.51 829.28,735.51 831.07,735.51 832.86,735.50" fill="none" stroke="#e6388a" stroke-width="1.5"/>
<path d="M617.70,860.90V874.17M612.70,860.90h10M612.70,874.17h10" stroke="#3d5aab" stroke-width="1.5" fill="none"/>
<rect x="614.66" y="864.50" width="6.08" height="6.08" fill="#fff" stroke="#3d5aab" stroke-width="1.4"/>
<path d="M648.44,866.87V880.14M643.44,866.87h10M643.44,880.14h10" stroke="#3d5aab" stroke-width="1.5" fill="none"/>
<rect x="645.40" y="870.47" width="6.08" height="6.08" fill="#fff" stroke="#3d5aab" stroke-width="1.4"/>
<path d="M679.18,857.58V870.85M674.18,857.58h10M674.18,870.85h10" stroke="#3d5aab" stroke-width="1.5" fill="none"/>
<rect x="676.14" y="861.18" width="6.08" height="6.08" fill="#fff" stroke="#3d5aab" stroke-width="1.4"/>
<path d="M709.91,846.97V862.89M704.91,846.97h10M704.91,862.89h10" stroke="#3d5aab" stroke-width="1.5" fill="none"/>
<rect x="706.87" y="851.89" width="6.08" height="6.08" fill="#fff" stroke="#3d5aab" stroke-width="1.4"/>
<path d="M740.65,763.37V805.83M735.65,763.37h10M735.65,805.83h10" stroke="#3d5aab" stroke-width="1.5" fill="none"/>
<rect x="737.61" y="781.56" width="6.08" height="6.08" fill="#fff" stroke="#3d5aab" stroke-width="1.4"/>
<path d="M771.39,738.15V759.39M766.39,738.15h10M766.39,759.39h10" stroke="#3d5aab" stroke-width="1.5" fill="none"/>
<rect x="768.35" y="745.73" width="6.08" height="6.08" fill="#fff" stroke="#3d5aab" stroke-width="1.4"/>
<path d="M802.12,732.85V746.12M797.12,732.85h10M797.12,746.12h10" stroke="#3d5aab" stroke-width="1.5" fill="none"/>
<rect x="799.09" y="736.44" width="6.08" height="6.08" fill="#fff" stroke="#3d5aab" stroke-width="1.4"/>
<path d="M832.86,720.90V734.17M827.86,720.90h10M827.86,734.17h10" stroke="#3d5aab" stroke-width="1.5" fill="none"/>
<rect x="829.82" y="724.50" width="6.08" height="6.08" fill="#fff" stroke="#3d5aab" stroke-width="1.4"/>
<path d="M617.70,858.91V872.18M612.70,858.91h10M612.70,872.18h10" stroke="#e6388a" stroke-width="1.5" fill="none"/>
<circle cx="617.70" cy="865.55" r="3.21" fill="#fff" stroke="#e6388a" stroke-width="1.4"/>
<path d="M648.44,856.26V869.53M643.44,856.26h10M643.44,869.53h10" stroke="#e6388a" stroke-width="1.5" fill="none"/>
<circle cx="648.44" cy="862.89" r="3.21" fill="#fff" stroke="#e6388a" stroke-width="1.4"/>
<path d="M679.18,857.58V870.85M674.18,857.58h10M674.18,870.85h10" stroke="#e6388a" stroke-width="1.5" fill="none"/>
<circle cx="679.18" cy="864.22" r="3.21" fill="#fff" stroke="#e6388a" stroke-width="1.4"/>
<path d="M709.91,862.89V870.85M704.91,862.89h10M704.91,870.85h10" stroke="#e6388a" stroke-width="1.5" fill="none"/>
<circle cx="709.91" cy="866.87" r="3.21" fill="#fff" stroke="#e6388a" stroke-width="1.4"/>
<path d="M740.65,845.64V856.26M735.65,845.64h10M735.65,856.26h10" stroke="#e6388a" stroke-width="1.5" fill="none"/>
<circle cx="740.65" cy="850.95" r="3.21" fill="#fff" stroke="#e6388a" stroke-width="1.4"/>
<path d="M771.39,784.60V811.14M766.39,784.60h10M766.39,811.14h10" stroke="#e6388a" stroke-width="1.5" fill="none"/>
<circle cx="771.39" cy="797.87" r="3.21" fill="#fff" stroke="#e6388a" stroke-width="1.4"/>
<path d="M802.12,726.21V750.10M797.12,726.21h10M797.12,750.10h10" stroke="#e6388a" stroke-width="1.5" fill="none"/>
<circle cx="802.12" cy="738.15" r="3.21" fill="#fff" stroke="#e6388a" stroke-width="1.4"/>
<path d="M832.86,720.90V736.83M827.86,720.90h10M827.86,736.83h10" stroke="#e6388a" stroke-width="1.5" fill="none"/>
<circle cx="832.86" cy="728.87" r="3.21" fill="#fff" stroke="#e6388a" stroke-width="1.4"/>
<path d="M617.70,849.62V862.89M612.70,849.62h10M612.70,862.89h10" stroke="#3d5aab" stroke-width="1.5" fill="none"/>
<rect x="613.96" y="852.52" width="7.48" height="7.48" fill="#3d5aab"/>
<path d="M648.44,811.14V840.33M643.44,811.14h10M643.44,840.33h10" stroke="#3d5aab" stroke-width="1.5" fill="none"/>
<rect x="644.70" y="822.00" width="7.48" height="7.48" fill="#3d5aab"/>
<path d="M679.18,763.90V774.51M674.18,763.90h10M674.18,774.51h10" stroke="#3d5aab" stroke-width="1.5" fill="none"/>
<rect x="675.44" y="765.47" width="7.48" height="7.48" fill="#3d5aab"/>
<path d="M709.91,740.81V751.42M704.91,740.81h10M704.91,751.42h10" stroke="#3d5aab" stroke-width="1.5" fill="none"/>
<rect x="706.17" y="742.38" width="7.48" height="7.48" fill="#3d5aab"/>
<path d="M740.65,726.21V739.48M735.65,726.21h10M735.65,739.48h10" stroke="#3d5aab" stroke-width="1.5" fill="none"/>
<rect x="736.91" y="729.11" width="7.48" height="7.48" fill="#3d5aab"/>
<path d="M771.39,730.19V743.46M766.39,730.19h10M766.39,743.46h10" stroke="#3d5aab" stroke-width="1.5" fill="none"/>
<rect x="767.65" y="733.09" width="7.48" height="7.48" fill="#3d5aab"/>
<path d="M802.12,726.21V739.48M797.12,726.21h10M797.12,739.48h10" stroke="#3d5aab" stroke-width="1.5" fill="none"/>
<rect x="798.38" y="729.11" width="7.48" height="7.48" fill="#3d5aab"/>
<path d="M832.86,720.90V734.17M827.86,720.90h10M827.86,734.17h10" stroke="#3d5aab" stroke-width="1.5" fill="none"/>
<rect x="829.12" y="723.80" width="7.48" height="7.48" fill="#3d5aab"/>
<path d="M617.70,857.58V870.85M612.70,857.58h10M612.70,870.85h10" stroke="#e6388a" stroke-width="1.5" fill="none"/>
<circle cx="617.70" cy="864.22" r="3.91" fill="#e6388a"/>
<path d="M648.44,849.62V862.89M643.44,849.62h10M643.44,862.89h10" stroke="#e6388a" stroke-width="1.5" fill="none"/>
<circle cx="648.44" cy="856.26" r="3.91" fill="#e6388a"/>
<path d="M679.18,809.81V823.08M674.18,809.81h10M674.18,823.08h10" stroke="#e6388a" stroke-width="1.5" fill="none"/>
<circle cx="679.18" cy="816.45" r="3.91" fill="#e6388a"/>
<path d="M709.91,759.39V780.62M704.91,759.39h10M704.91,780.62h10" stroke="#e6388a" stroke-width="1.5" fill="none"/>
<circle cx="709.91" cy="770.00" r="3.91" fill="#e6388a"/>
<path d="M740.65,738.15V770.00M735.65,738.15h10M735.65,770.00h10" stroke="#e6388a" stroke-width="1.5" fill="none"/>
<circle cx="740.65" cy="754.08" r="3.91" fill="#e6388a"/>
<path d="M771.39,728.07V746.65M766.39,728.07h10M766.39,746.65h10" stroke="#e6388a" stroke-width="1.5" fill="none"/>
<circle cx="771.39" cy="737.36" r="3.91" fill="#e6388a"/>
<path d="M802.12,716.92V735.50M797.12,716.92h10M797.12,735.50h10" stroke="#e6388a" stroke-width="1.5" fill="none"/>
<circle cx="802.12" cy="726.21" r="3.91" fill="#e6388a"/>
<path d="M832.86,720.90V736.83M827.86,720.90h10M827.86,736.83h10" stroke="#e6388a" stroke-width="1.5" fill="none"/>
<circle cx="832.86" cy="728.87" r="3.91" fill="#e6388a"/>
<path d="M1136.9,709.5V881" stroke="#000" stroke-width="1.5" fill="none"/>
<path d="M1132.4,868.30H1136.9" stroke="#000" stroke-width="1.5"/>
<text x="1128.4" y="876.60" text-anchor="end" font-size="20.8">0</text>
<path d="M1132.4,835.12H1136.9" stroke="#000" stroke-width="1.5"/>
<text x="1128.4" y="843.42" text-anchor="end" font-size="20.8">25</text>
<path d="M1132.4,801.95H1136.9" stroke="#000" stroke-width="1.5"/>
<text x="1128.4" y="810.25" text-anchor="end" font-size="20.8">50</text>
<path d="M1132.4,768.77H1136.9" stroke="#000" stroke-width="1.5"/>
<text x="1128.4" y="777.07" text-anchor="end" font-size="20.8">75</text>
<path d="M1132.4,735.60H1136.9" stroke="#000" stroke-width="1.5"/>
<text x="1128.4" y="743.90" text-anchor="end" font-size="20.8">100</text>
<path d="M1160.9,910.8H1407.0" stroke="#000" stroke-width="1.5" fill="none"/>
<path d="M1160.90,910.8v5" stroke="#000" stroke-width="1.5"/>
<text transform="translate(1171.40,927.80) rotate(-45)" text-anchor="end" font-size="20.8">&#8722;13</text>
<path d="M1191.66,910.8v5" stroke="#000" stroke-width="1.5"/>
<text transform="translate(1202.16,927.80) rotate(-45)" text-anchor="end" font-size="20.8">&#8722;12</text>
<path d="M1222.43,910.8v5" stroke="#000" stroke-width="1.5"/>
<text transform="translate(1232.93,927.80) rotate(-45)" text-anchor="end" font-size="20.8">&#8722;11</text>
<path d="M1253.19,910.8v5" stroke="#000" stroke-width="1.5"/>
<text transform="translate(1263.69,927.80) rotate(-45)" text-anchor="end" font-size="20.8">&#8722;10</text>
<path d="M1283.95,910.8v5" stroke="#000" stroke-width="1.5"/>
<text transform="translate(1294.45,927.80) rotate(-45)" text-anchor="end" font-size="20.8">&#8722;9</text>
<path d="M1314.71,910.8v5" stroke="#000" stroke-width="1.5"/>
<text transform="translate(1325.21,927.80) rotate(-45)" text-anchor="end" font-size="20.8">&#8722;8</text>
<path d="M1345.47,910.8v5" stroke="#000" stroke-width="1.5"/>
<text transform="translate(1355.97,927.80) rotate(-45)" text-anchor="end" font-size="20.8">&#8722;7</text>
<path d="M1376.24,910.8v5" stroke="#000" stroke-width="1.5"/>
<text transform="translate(1386.74,927.80) rotate(-45)" text-anchor="end" font-size="20.8">&#8722;6</text>
<path d="M1407.00,910.8v5" stroke="#000" stroke-width="1.5"/>
<text transform="translate(1417.50,927.80) rotate(-45)" text-anchor="end" font-size="20.8">&#8722;5</text>
<path d="M1144.9,868.30H1407.0" stroke="#000" stroke-width="1.6" stroke-dasharray="1.6 6.9" fill="none"/>
<text x="1234" y="706.6" font-size="20.6">BRET2 G<tspan font-size="12.2" dy="7">g</tspan></text>
<text x="1231.7" y="971.1" font-size="20.6">log[drug (M)]</text>
<text transform="translate(1089.9,800.45) rotate(-90)" text-anchor="middle" font-size="20.8">U50,488 (%)</text>
<polyline points="1160.90,864.32 1162.95,864.32 1165.00,864.32 1167.05,864.32 1169.10,864.32 1171.15,864.32 1173.21,864.32 1175.26,864.32 1177.31,864.32 1179.36,864.32 1181.41,864.32 1183.46,864.32 1185.51,864.32 1187.56,864.32 1189.61,864.32 1191.66,864.32 1193.71,864.32 1195.76,864.32 1197.82,864.32 1199.87,864.32 1201.92,864.32 1203.97,864.32 1206.02,864.32 1208.07,864.32 1210.12,864.32 1212.17,864.32 1214.22,864.32 1216.27,864.32 1218.32,864.32 1220.37,864.32 1222.43,864.32 1224.48,864.31 1226.53,864.31 1228.58,864.31 1230.63,864.31 1232.68,864.31 1234.73,864.31 1236.78,864.31 1238.83,864.31 1240.88,864.30 1242.93,864.30 1244.98,864.30 1247.04,864.30 1249.09,864.29 1251.14,864.29 1253.19,864.28 1255.24,864.28 1257.29,864.27 1259.34,864.26 1261.39,864.25 1263.44,864.24 1265.49,864.22 1267.54,864.21 1269.59,864.19 1271.64,864.17 1273.70,864.14 1275.75,864.12 1277.80,864.08 1279.85,864.04 1281.90,864.00 1283.95,863.94 1286.00,863.88 1288.05,863.81 1290.10,863.73 1292.15,863.63 1294.20,863.52 1296.26,863.39 1298.31,863.24 1300.36,863.06 1302.41,862.86 1304.46,862.62 1306.51,862.35 1308.56,862.03 1310.61,861.67 1312.66,861.25 1314.71,860.77 1316.76,860.23 1318.81,859.60 1320.87,858.89 1322.92,858.08 1324.97,857.17 1327.02,856.15 1329.07,855.01 1331.12,853.73 1333.17,852.33 1335.22,850.79 1337.27,849.12 1339.32,847.32 1341.37,845.39 1343.42,843.35 1345.47,841.22 1347.53,839.01 1349.58,836.75 1351.63,834.46 1353.68,832.17 1355.73,829.91 1357.78,827.71 1359.83,825.57 1361.88,823.53 1363.93,821.61 1365.98,819.80 1368.03,818.13 1370.09,816.59 1372.14,815.19 1374.19,813.92 1376.24,812.77 1378.29,811.75 1380.34,810.84 1382.39,810.03 1384.44,809.32 1386.49,808.70 1388.54,808.15 1390.59,807.67 1392.64,807.25 1394.69,806.89 1396.75,806.58 1398.80,806.30 1400.85,806.07 1402.90,805.86 1404.95,805.69 1407.00,805.54" fill="none" stroke="#3d5aab" stroke-width="1.5" stroke-dasharray="11 6"/>
<polyline points="1160.90,864.32 1162.95,864.32 1165.00,864.32 1167.05,864.32 1169.10,864.32 1171.15,864.32 1173.21,864.32 1175.26,864.32 1177.31,864.32 1179.36,864.32 1181.41,864.32 1183.46,864.32 1185.51,864.32 1187.56,864.32 1189.61,864.32 1191.66,864.32 1193.71,864.32 1195.76,864.32 1197.82,864.32 1199.87,864.32 1201.92,864.32 1203.97,864.32 1206.02,864.32 1208.07,864.32 1210.12,864.32 1212.17,864.32 1214.22,864.32 1216.27,864.31 1218.32,864.31 1220.37,864.31 1222.43,864.31 1224.48,864.31 1226.53,864.31 1228.58,864.31 1230.63,864.31 1232.68,864.30 1234.73,864.30 1236.78,864.30 1238.83,864.29 1240.88,864.29 1242.93,864.28 1244.98,864.28 1247.04,864.27 1249.09,864.26 1251.14,864.26 1253.19,864.25 1255.24,864.23 1257.29,864.22 1259.34,864.20 1261.39,864.18 1263.44,864.16 1265.49,864.13 1267.54,864.10 1269.59,864.07 1271.64,864.03 1273.70,863.98 1275.75,863.92 1277.80,863.86 1279.85,863.78 1281.90,863.70 1283.95,863.59 1286.00,863.48 1288.05,863.34 1290.10,863.18 1292.15,863.00 1294.20,862.79 1296.26,862.54 1298.31,862.26 1300.36,861.93 1302.41,861.56 1304.46,861.14 1306.51,860.65 1308.56,860.10 1310.61,859.47 1312.66,858.76 1314.71,857.97 1316.76,857.08 1318.81,856.09 1320.87,854.99 1322.92,853.80 1324.97,852.50 1327.02,851.09 1329.07,849.60 1331.12,848.01 1333.17,846.35 1335.22,844.63 1337.27,842.88 1339.32,841.10 1341.37,839.32 1343.42,837.56 1345.47,835.84 1347.53,834.18 1349.58,832.60 1351.63,831.10 1353.68,829.70 1355.73,828.39 1357.78,827.20 1359.83,826.11 1361.88,825.12 1363.93,824.23 1365.98,823.43 1368.03,822.72 1370.09,822.10 1372.14,821.54 1374.19,821.06 1376.24,820.63 1378.29,820.26 1380.34,819.93 1382.39,819.65 1384.44,819.41 1386.49,819.20 1388.54,819.01 1390.59,818.85 1392.64,818.72 1394.69,818.60 1396.75,818.50 1398.80,818.41 1400.85,818.33 1402.90,818.27 1404.95,818.21 1407.00,818.17" fill="none" stroke="#e6388a" stroke-width="1.5" stroke-dasharray="11 6"/>
<polyline points="1160.90,864.26 1162.95,864.26 1165.00,864.25 1167.05,864.23 1169.10,864.22 1171.15,864.20 1173.21,864.18 1175.26,864.16 1177.31,864.13 1179.36,864.10 1181.41,864.07 1183.46,864.03 1185.51,863.98 1187.56,863.92 1189.61,863.86 1191.66,863.78 1193.71,863.69 1195.76,863.59 1197.82,863.47 1199.87,863.33 1201.92,863.16 1203.97,862.97 1206.02,862.75 1208.07,862.50 1210.12,862.20 1212.17,861.86 1214.22,861.46 1216.27,860.99 1218.32,860.46 1220.37,859.84 1222.43,859.12 1224.48,858.30 1226.53,857.36 1228.58,856.27 1230.63,855.03 1232.68,853.61 1234.73,852.00 1236.78,850.17 1238.83,848.11 1240.88,845.80 1242.93,843.22 1244.98,840.35 1247.04,837.18 1249.09,833.72 1251.14,829.96 1253.19,825.91 1255.24,821.59 1257.29,817.02 1259.34,812.26 1261.39,807.33 1263.44,802.29 1265.49,797.21 1267.54,792.13 1269.59,787.12 1271.64,782.23 1273.70,777.52 1275.75,773.03 1277.80,768.79 1279.85,764.82 1281.90,761.15 1283.95,757.77 1286.00,754.70 1288.05,751.92 1290.10,749.42 1292.15,747.18 1294.20,745.19 1296.26,743.43 1298.31,741.88 1300.36,740.52 1302.41,739.33 1304.46,738.28 1306.51,737.38 1308.56,736.59 1310.61,735.90 1312.66,735.31 1314.71,734.80 1316.76,734.36 1318.81,733.97 1320.87,733.64 1322.92,733.36 1324.97,733.11 1327.02,732.90 1329.07,732.72 1331.12,732.57 1333.17,732.43 1335.22,732.32 1337.27,732.22 1339.32,732.13 1341.37,732.06 1343.42,732.00 1345.47,731.94 1347.53,731.90 1349.58,731.86 1351.63,731.82 1353.68,731.80 1355.73,731.77 1357.78,731.75 1359.83,731.73 1361.88,731.71 1363.93,731.70 1365.98,731.69 1368.03,731.68 1370.09,731.67 1372.14,731.66 1374.19,731.66 1376.24,731.65 1378.29,731.65 1380.34,731.64 1382.39,731.64 1384.44,731.64 1386.49,731.63 1388.54,731.63 1390.59,731.63 1392.64,731.63 1394.69,731.63 1396.75,731.63 1398.80,731.63 1400.85,731.62 1402.90,731.62 1404.95,731.62 1407.00,731.62" fill="none" stroke="#3d5aab" stroke-width="1.5"/>
<polyline points="1160.90,864.29 1162.95,864.29 1165.00,864.28 1167.05,864.28 1169.10,864.27 1171.15,864.26 1173.21,864.25 1175.26,864.24 1177.31,864.23 1179.36,864.21 1181.41,864.20 1183.46,864.18 1185.51,864.15 1187.56,864.13 1189.61,864.09 1191.66,864.06 1193.71,864.01 1195.76,863.96 1197.82,863.90 1199.87,863.83 1201.92,863.75 1203.97,863.66 1206.02,863.55 1208.07,863.43 1210.12,863.28 1212.17,863.11 1214.22,862.91 1216.27,862.68 1218.32,862.41 1220.37,862.10 1222.43,861.74 1224.48,861.32 1226.53,860.83 1228.58,860.27 1230.63,859.63 1232.68,858.88 1234.73,858.02 1236.78,857.02 1238.83,855.89 1240.88,854.59 1242.93,853.10 1244.98,851.42 1247.04,849.51 1249.09,847.35 1251.14,844.93 1253.19,842.23 1255.24,839.23 1257.29,835.93 1259.34,832.31 1261.39,828.38 1263.44,824.15 1265.49,819.65 1267.54,814.89 1269.59,809.92 1271.64,804.79 1273.70,799.55 1275.75,794.26 1277.80,788.98 1279.85,783.77 1281.90,778.70 1283.95,773.81 1286.00,769.15 1288.05,764.75 1290.10,760.64 1292.15,756.84 1294.20,753.34 1296.26,750.16 1298.31,747.28 1300.36,744.70 1302.41,742.39 1304.46,740.33 1306.51,738.51 1308.56,736.91 1310.61,735.50 1312.66,734.27 1314.71,733.19 1316.76,732.26 1318.81,731.44 1320.87,730.73 1322.92,730.12 1324.97,729.59 1327.02,729.14 1329.07,728.74 1331.12,728.40 1333.17,728.11 1335.22,727.85 1337.27,727.64 1339.32,727.45 1341.37,727.29 1343.42,727.15 1345.47,727.03 1347.53,726.93 1349.58,726.84 1351.63,726.77 1353.68,726.70 1355.73,726.65 1357.78,726.60 1359.83,726.56 1361.88,726.52 1363.93,726.49 1365.98,726.47 1368.03,726.44 1370.09,726.43 1372.14,726.41 1374.19,726.40 1376.24,726.38 1378.29,726.37 1380.34,726.36 1382.39,726.36 1384.44,726.35 1386.49,726.34 1388.54,726.34 1390.59,726.34 1392.64,726.33 1394.69,726.33 1396.75,726.33 1398.80,726.32 1400.85,726.32 1402.90,726.32 1404.95,726.32 1407.00,726.32" fill="none" stroke="#e6388a" stroke-width="1.5"/>
<path d="M1160.90,859.01V872.28M1155.90,859.01h10M1155.90,872.28h10" stroke="#3d5aab" stroke-width="1.5" fill="none"/>
<rect x="1157.86" y="862.61" width="6.08" height="6.08" fill="#fff" stroke="#3d5aab" stroke-width="1.4"/>
<path d="M1191.66,860.34V873.61M1186.66,860.34h10M1186.66,873.61h10" stroke="#3d5aab" stroke-width="1.5" fill="none"/>
<rect x="1188.62" y="863.93" width="6.08" height="6.08" fill="#fff" stroke="#3d5aab" stroke-width="1.4"/>
<path d="M1222.43,849.72V892.19M1217.43,849.72h10M1217.43,892.19h10" stroke="#3d5aab" stroke-width="1.5" fill="none"/>
<rect x="1219.39" y="867.91" width="6.08" height="6.08" fill="#fff" stroke="#3d5aab" stroke-width="1.4"/>
<path d="M1253.19,856.36V869.63M1248.19,856.36h10M1248.19,869.63h10" stroke="#3d5aab" stroke-width="1.5" fill="none"/>
<rect x="1250.15" y="859.95" width="6.08" height="6.08" fill="#fff" stroke="#3d5aab" stroke-width="1.4"/>
<path d="M1283.95,845.74V866.97M1278.95,845.74h10M1278.95,866.97h10" stroke="#3d5aab" stroke-width="1.5" fill="none"/>
<rect x="1280.91" y="853.32" width="6.08" height="6.08" fill="#fff" stroke="#3d5aab" stroke-width="1.4"/>
<path d="M1314.71,840.43V859.01M1309.71,840.43h10M1309.71,859.01h10" stroke="#3d5aab" stroke-width="1.5" fill="none"/>
<rect x="1311.67" y="846.68" width="6.08" height="6.08" fill="#fff" stroke="#3d5aab" stroke-width="1.4"/>
<path d="M1345.47,836.45V852.38M1340.47,836.45h10M1340.47,852.38h10" stroke="#3d5aab" stroke-width="1.5" fill="none"/>
<rect x="1342.43" y="841.37" width="6.08" height="6.08" fill="#fff" stroke="#3d5aab" stroke-width="1.4"/>
<path d="M1376.24,804.60V833.80M1371.24,804.60h10M1371.24,833.80h10" stroke="#3d5aab" stroke-width="1.5" fill="none"/>
<rect x="1373.20" y="816.16" width="6.08" height="6.08" fill="#fff" stroke="#3d5aab" stroke-width="1.4"/>
<path d="M1407.00,796.64V807.26M1402.00,796.64h10M1402.00,807.26h10" stroke="#3d5aab" stroke-width="1.5" fill="none"/>
<rect x="1403.96" y="798.91" width="6.08" height="6.08" fill="#fff" stroke="#3d5aab" stroke-width="1.4"/>
<path d="M1160.90,861.66V874.93M1155.90,861.66h10M1155.90,874.93h10" stroke="#e6388a" stroke-width="1.5" fill="none"/>
<circle cx="1160.90" cy="868.30" r="3.21" fill="#fff" stroke="#e6388a" stroke-width="1.4"/>
<path d="M1191.66,859.01V872.28M1186.66,859.01h10M1186.66,872.28h10" stroke="#e6388a" stroke-width="1.5" fill="none"/>
<circle cx="1191.66" cy="865.65" r="3.21" fill="#fff" stroke="#e6388a" stroke-width="1.4"/>
<path d="M1222.43,856.36V869.63M1217.43,856.36h10M1217.43,869.63h10" stroke="#e6388a" stroke-width="1.5" fill="none"/>
<circle cx="1222.43" cy="862.99" r="3.21" fill="#fff" stroke="#e6388a" stroke-width="1.4"/>
<path d="M1253.19,855.03V868.30M1248.19,855.03h10M1248.19,868.30h10" stroke="#e6388a" stroke-width="1.5" fill="none"/>
<circle cx="1253.19" cy="861.66" r="3.21" fill="#fff" stroke="#e6388a" stroke-width="1.4"/>
<path d="M1283.95,856.36V869.63M1278.95,856.36h10M1278.95,869.63h10" stroke="#e6388a" stroke-width="1.5" fill="none"/>
<circle cx="1283.95" cy="862.99" r="3.21" fill="#fff" stroke="#e6388a" stroke-width="1.4"/>
<path d="M1314.71,841.76V862.99M1309.71,841.76h10M1309.71,862.99h10" stroke="#e6388a" stroke-width="1.5" fill="none"/>
<circle cx="1314.71" cy="852.38" r="3.21" fill="#fff" stroke="#e6388a" stroke-width="1.4"/>
<path d="M1345.47,832.47V848.39M1340.47,832.47h10M1340.47,848.39h10" stroke="#e6388a" stroke-width="1.5" fill="none"/>
<circle cx="1345.47" cy="840.43" r="3.21" fill="#fff" stroke="#e6388a" stroke-width="1.4"/>
<path d="M1376.24,801.95V833.80M1371.24,801.95h10M1371.24,833.80h10" stroke="#e6388a" stroke-width="1.5" fill="none"/>
<circle cx="1376.24" cy="817.87" r="3.21" fill="#fff" stroke="#e6388a" stroke-width="1.4"/>
<path d="M1407.00,808.59V832.47M1402.00,808.59h10M1402.00,832.47h10" stroke="#e6388a" stroke-width="1.5" fill="none"/>
<circle cx="1407.00" cy="820.53" r="3.21" fill="#fff" stroke="#e6388a" stroke-width="1.4"/>
<path d="M1160.90,859.01V872.28M1155.90,859.01h10M1155.90,872.28h10" stroke="#3d5aab" stroke-width="1.5" fill="none"/>
<rect x="1157.16" y="861.91" width="7.48" height="7.48" fill="#3d5aab"/>
<path d="M1191.66,859.01V874.93M1186.66,859.01h10M1186.66,874.93h10" stroke="#3d5aab" stroke-width="1.5" fill="none"/>
<rect x="1187.92" y="863.23" width="7.48" height="7.48" fill="#3d5aab"/>
<path d="M1222.43,863.66V876.93M1217.43,863.66h10M1217.43,876.93h10" stroke="#3d5aab" stroke-width="1.5" fill="none"/>
<rect x="1218.69" y="866.55" width="7.48" height="7.48" fill="#3d5aab"/>
<path d="M1253.19,807.26V823.18M1248.19,807.26h10M1248.19,823.18h10" stroke="#3d5aab" stroke-width="1.5" fill="none"/>
<rect x="1249.45" y="811.48" width="7.48" height="7.48" fill="#3d5aab"/>
<path d="M1283.95,752.85V763.47M1278.95,752.85h10M1278.95,763.47h10" stroke="#3d5aab" stroke-width="1.5" fill="none"/>
<rect x="1280.21" y="754.42" width="7.48" height="7.48" fill="#3d5aab"/>
<path d="M1314.71,734.27V750.20M1309.71,734.27h10M1309.71,750.20h10" stroke="#3d5aab" stroke-width="1.5" fill="none"/>
<rect x="1310.97" y="738.50" width="7.48" height="7.48" fill="#3d5aab"/>
<path d="M1345.47,722.33V735.60M1340.47,722.33h10M1340.47,735.60h10" stroke="#3d5aab" stroke-width="1.5" fill="none"/>
<rect x="1341.73" y="725.23" width="7.48" height="7.48" fill="#3d5aab"/>
<path d="M1376.24,717.02V730.29M1371.24,717.02h10M1371.24,730.29h10" stroke="#3d5aab" stroke-width="1.5" fill="none"/>
<rect x="1372.50" y="719.92" width="7.48" height="7.48" fill="#3d5aab"/>
<path d="M1407.00,718.35V731.62M1402.00,718.35h10M1402.00,731.62h10" stroke="#3d5aab" stroke-width="1.5" fill="none"/>
<rect x="1403.26" y="721.24" width="7.48" height="7.48" fill="#3d5aab"/>
<path d="M1160.90,860.34V876.26M1155.90,860.34h10M1155.90,876.26h10" stroke="#e6388a" stroke-width="1.5" fill="none"/>
<circle cx="1160.90" cy="868.30" r="3.91" fill="#e6388a"/>
<path d="M1191.66,857.68V870.95M1186.66,857.68h10M1186.66,870.95h10" stroke="#e6388a" stroke-width="1.5" fill="none"/>
<circle cx="1191.66" cy="864.32" r="3.91" fill="#e6388a"/>
<path d="M1222.43,851.05V874.93M1217.43,851.05h10M1217.43,874.93h10" stroke="#e6388a" stroke-width="1.5" fill="none"/>
<circle cx="1222.43" cy="862.99" r="3.91" fill="#e6388a"/>
<path d="M1253.19,820.53V847.07M1248.19,820.53h10M1248.19,847.07h10" stroke="#e6388a" stroke-width="1.5" fill="none"/>
<circle cx="1253.19" cy="833.80" r="3.91" fill="#e6388a"/>
<path d="M1283.95,768.77V797.97M1278.95,768.77h10M1278.95,797.97h10" stroke="#e6388a" stroke-width="1.5" fill="none"/>
<circle cx="1283.95" cy="783.37" r="3.91" fill="#e6388a"/>
<path d="M1314.71,730.29V754.18M1309.71,730.29h10M1309.71,754.18h10" stroke="#e6388a" stroke-width="1.5" fill="none"/>
<circle cx="1314.71" cy="742.24" r="3.91" fill="#e6388a"/>
<path d="M1345.47,722.33V732.95M1340.47,722.33h10M1340.47,732.95h10" stroke="#e6388a" stroke-width="1.5" fill="none"/>
<circle cx="1345.47" cy="727.64" r="3.91" fill="#e6388a"/>
<path d="M1376.24,714.37V727.64M1371.24,714.37h10M1371.24,727.64h10" stroke="#e6388a" stroke-width="1.5" fill="none"/>
<circle cx="1376.24" cy="721.00" r="3.91" fill="#e6388a"/>
<path d="M1407.00,719.68V730.29M1402.00,719.68h10M1402.00,730.29h10" stroke="#e6388a" stroke-width="1.5" fill="none"/>
<circle cx="1407.00" cy="724.98" r="3.91" fill="#e6388a"/>
<path d="M593.7,1031.4V1203" stroke="#000" stroke-width="1.5" fill="none"/>
<path d="M589.2,1189.90H593.7" stroke="#000" stroke-width="1.5"/>
<text x="585.2" y="1198.20" text-anchor="end" font-size="20.8">0</text>
<path d="M589.2,1156.83H593.7" stroke="#000" stroke-width="1.5"/>
<text x="585.2" y="1165.12" text-anchor="end" font-size="20.8">25</text>
<path d="M589.2,1123.75H593.7" stroke="#000" stroke-width="1.5"/>
<text x="585.2" y="1132.05" text-anchor="end" font-size="20.8">50</text>
<path d="M589.2,1090.67H593.7" stroke="#000" stroke-width="1.5"/>
<text x="585.2" y="1098.97" text-anchor="end" font-size="20.8">75</text>
<path d="M589.2,1057.60H593.7" stroke="#000" stroke-width="1.5"/>
<text x="585.2" y="1065.90" text-anchor="end" font-size="20.8">100</text>
<path d="M617.0,1232.3H863.0" stroke="#000" stroke-width="1.5" fill="none"/>
<path d="M617.00,1232.3v5" stroke="#000" stroke-width="1.5"/>
<text transform="translate(627.50,1249.30) rotate(-45)" text-anchor="end" font-size="20.8">&#8722;13</text>
<path d="M647.75,1232.3v5" stroke="#000" stroke-width="1.5"/>
<text transform="translate(658.25,1249.30) rotate(-45)" text-anchor="end" font-size="20.8">&#8722;12</text>
<path d="M678.50,1232.3v5" stroke="#000" stroke-width="1.5"/>
<text transform="translate(689.00,1249.30) rotate(-45)" text-anchor="end" font-size="20.8">&#8722;11</text>
<path d="M709.25,1232.3v5" stroke="#000" stroke-width="1.5"/>
<text transform="translate(719.75,1249.30) rotate(-45)" text-anchor="end" font-size="20.8">&#8722;10</text>
<path d="M740.00,1232.3v5" stroke="#000" stroke-width="1.5"/>
<text transform="translate(750.50,1249.30) rotate(-45)" text-anchor="end" font-size="20.8">&#8722;9</text>
<path d="M770.75,1232.3v5" stroke="#000" stroke-width="1.5"/>
<text transform="translate(781.25,1249.30) rotate(-45)" text-anchor="end" font-size="20.8">&#8722;8</text>
<path d="M801.50,1232.3v5" stroke="#000" stroke-width="1.5"/>
<text transform="translate(812.00,1249.30) rotate(-45)" text-anchor="end" font-size="20.8">&#8722;7</text>
<path d="M832.25,1232.3v5" stroke="#000" stroke-width="1.5"/>
<text transform="translate(842.75,1249.30) rotate(-45)" text-anchor="end" font-size="20.8">&#8722;6</text>
<path d="M863.00,1232.3v5" stroke="#000" stroke-width="1.5"/>
<text transform="translate(873.50,1249.30) rotate(-45)" text-anchor="end" font-size="20.8">&#8722;5</text>
<path d="M601.7,1189.90H863.0" stroke="#000" stroke-width="1.6" stroke-dasharray="1.6 6.9" fill="none"/>
<text x="691.3" y="1025.8" font-size="20.6">BRET2 G<tspan font-size="12.2" dy="7">i1</tspan></text>
<text x="681" y="1296.2" font-size="20.6">log[drug (M)]</text>
<text transform="translate(546.7,1122.4) rotate(-90)" text-anchor="middle" font-size="20.8">U50,488 (%)</text>
<polyline points="617.00,1184.37 618.79,1184.34 620.59,1184.30 622.38,1184.25 624.17,1184.20 625.97,1184.15 627.76,1184.08 629.56,1184.00 631.35,1183.92 633.14,1183.82 634.94,1183.71 636.73,1183.58 638.52,1183.43 640.32,1183.26 642.11,1183.07 643.91,1182.86 645.70,1182.61 647.49,1182.33 649.29,1182.00 651.08,1181.64 652.88,1181.22 654.67,1180.75 656.46,1180.22 658.26,1179.61 660.05,1178.93 661.84,1178.15 663.64,1177.28 665.43,1176.30 667.23,1175.19 669.02,1173.96 670.81,1172.57 672.61,1171.03 674.40,1169.32 676.19,1167.42 677.99,1165.34 679.78,1163.05 681.58,1160.55 683.37,1157.83 685.16,1154.90 686.96,1151.76 688.75,1148.41 690.54,1144.87 692.34,1141.16 694.13,1137.29 695.92,1133.29 697.72,1129.20 699.51,1125.05 701.31,1120.88 703.10,1116.72 704.89,1112.61 706.69,1108.58 708.48,1104.68 710.27,1100.92 712.07,1097.33 713.86,1093.93 715.66,1090.74 717.45,1087.75 719.24,1084.98 721.04,1082.43 722.83,1080.09 724.62,1077.95 726.42,1076.00 728.21,1074.25 730.01,1072.66 731.80,1071.24 733.59,1069.97 735.39,1068.83 737.18,1067.82 738.98,1066.92 740.77,1066.12 742.56,1065.41 744.36,1064.78 746.15,1064.23 747.94,1063.75 749.74,1063.32 751.53,1062.94 753.33,1062.61 755.12,1062.31 756.91,1062.06 758.71,1061.83 760.50,1061.64 762.29,1061.46 764.09,1061.31 765.88,1061.18 767.67,1061.06 769.47,1060.96 771.26,1060.87 773.06,1060.79 774.85,1060.72 776.64,1060.66 778.44,1060.61 780.23,1060.57 782.02,1060.53 783.82,1060.49 785.61,1060.46 787.41,1060.43 789.20,1060.41 790.99,1060.39 792.79,1060.37 794.58,1060.36 796.38,1060.34 798.17,1060.33 799.96,1060.32 801.76,1060.31 803.55,1060.30 805.34,1060.29 807.14,1060.29 808.93,1060.28 810.73,1060.28 812.52,1060.27 814.31,1060.27 816.11,1060.27 817.90,1060.27 819.69,1060.26 821.49,1060.26 823.28,1060.26 825.08,1060.26 826.87,1060.26 828.66,1060.25 830.46,1060.25 832.25,1060.25" fill="none" stroke="#3d5aab" stroke-width="1.5" stroke-dasharray="11 6"/>
<polyline points="617.00,1184.52 618.79,1184.51 620.59,1184.50 622.38,1184.48 624.17,1184.46 625.97,1184.44 627.76,1184.42 629.56,1184.39 631.35,1184.36 633.14,1184.33 634.94,1184.29 636.73,1184.24 638.52,1184.19 640.32,1184.13 642.11,1184.06 643.91,1183.98 645.70,1183.89 647.49,1183.79 649.29,1183.67 651.08,1183.53 652.88,1183.38 654.67,1183.21 656.46,1183.01 658.26,1182.78 660.05,1182.52 661.84,1182.23 663.64,1181.89 665.43,1181.51 667.23,1181.08 669.02,1180.59 670.81,1180.03 672.61,1179.40 674.40,1178.68 676.19,1177.87 677.99,1176.96 679.78,1175.93 681.58,1174.78 683.37,1173.48 685.16,1172.03 686.96,1170.41 688.75,1168.62 690.54,1166.63 692.34,1164.43 694.13,1162.02 695.92,1159.39 697.72,1156.53 699.51,1153.43 701.31,1150.11 703.10,1146.56 704.89,1142.80 706.69,1138.85 708.48,1134.73 710.27,1130.46 712.07,1126.09 713.86,1121.64 715.66,1117.16 717.45,1112.68 719.24,1108.25 721.04,1103.90 722.83,1099.67 724.62,1095.60 726.42,1091.70 728.21,1088.00 730.01,1084.51 731.80,1081.25 733.59,1078.22 735.39,1075.43 737.18,1072.86 738.98,1070.51 740.77,1068.38 742.56,1066.44 744.36,1064.70 746.15,1063.13 747.94,1061.73 749.74,1060.47 751.53,1059.36 753.33,1058.36 755.12,1057.48 756.91,1056.70 758.71,1056.01 760.50,1055.40 762.29,1054.86 764.09,1054.38 765.88,1053.97 767.67,1053.60 769.47,1053.28 771.26,1052.99 773.06,1052.74 774.85,1052.52 776.64,1052.33 778.44,1052.17 780.23,1052.02 782.02,1051.89 783.82,1051.78 785.61,1051.68 787.41,1051.59 789.20,1051.51 790.99,1051.45 792.79,1051.39 794.58,1051.34 796.38,1051.30 798.17,1051.26 799.96,1051.22 801.76,1051.19 803.55,1051.17 805.34,1051.14 807.14,1051.12 808.93,1051.11 810.73,1051.09 812.52,1051.08 814.31,1051.07 816.11,1051.06 817.90,1051.05 819.69,1051.04 821.49,1051.03 823.28,1051.03 825.08,1051.02 826.87,1051.02 828.66,1051.01 830.46,1051.01 832.25,1051.01" fill="none" stroke="#e6388a" stroke-width="1.5" stroke-dasharray="11 6"/>
<polyline points="617.00,1184.16 618.79,1184.10 620.59,1184.03 622.38,1183.94 624.17,1183.85 625.97,1183.74 627.76,1183.61 629.56,1183.47 631.35,1183.31 633.14,1183.13 634.94,1182.92 636.73,1182.68 638.52,1182.41 640.32,1182.09 642.11,1181.74 643.91,1181.34 645.70,1180.88 647.49,1180.36 649.29,1179.77 651.08,1179.11 652.88,1178.35 654.67,1177.50 656.46,1176.54 658.26,1175.46 660.05,1174.25 661.84,1172.89 663.64,1171.37 665.43,1169.67 667.23,1167.79 669.02,1165.71 670.81,1163.42 672.61,1160.91 674.40,1158.17 676.19,1155.20 677.99,1152.00 679.78,1148.56 681.58,1144.90 683.37,1141.04 685.16,1136.99 686.96,1132.77 688.75,1128.42 690.54,1123.97 692.34,1119.46 694.13,1114.93 695.92,1110.42 697.72,1105.97 699.51,1101.62 701.31,1097.40 703.10,1093.34 704.89,1089.47 706.69,1085.81 708.48,1082.37 710.27,1079.16 712.07,1076.18 713.86,1073.43 715.66,1070.91 717.45,1068.62 719.24,1066.53 721.04,1064.65 722.83,1062.95 724.62,1061.43 726.42,1060.06 728.21,1058.84 730.01,1057.76 731.80,1056.79 733.59,1055.94 735.39,1055.18 737.18,1054.51 738.98,1053.92 740.77,1053.40 742.56,1052.94 744.36,1052.54 746.15,1052.19 747.94,1051.87 749.74,1051.60 751.53,1051.36 753.33,1051.15 755.12,1050.96 756.91,1050.80 758.71,1050.66 760.50,1050.53 762.29,1050.43 764.09,1050.33 765.88,1050.25 767.67,1050.17 769.47,1050.11 771.26,1050.05 773.06,1050.00 774.85,1049.96 776.64,1049.92 778.44,1049.89 780.23,1049.86 782.02,1049.84 783.82,1049.81 785.61,1049.80 787.41,1049.78 789.20,1049.76 790.99,1049.75 792.79,1049.74 794.58,1049.73 796.38,1049.72 798.17,1049.71 799.96,1049.71 801.76,1049.70 803.55,1049.70 805.34,1049.69 807.14,1049.69 808.93,1049.69 810.73,1049.68 812.52,1049.68 814.31,1049.68 816.11,1049.68 817.90,1049.67 819.69,1049.67 821.49,1049.67 823.28,1049.67 825.08,1049.67 826.87,1049.67 828.66,1049.67 830.46,1049.67 832.25,1049.67" fill="none" stroke="#3d5aab" stroke-width="1.5"/>
<polyline points="617.00,1184.47 618.79,1184.45 620.59,1184.43 622.38,1184.41 624.17,1184.38 625.97,1184.34 627.76,1184.31 629.56,1184.26 631.35,1184.21 633.14,1184.16 634.94,1184.09 636.73,1184.02 638.52,1183.94 640.32,1183.84 642.11,1183.73 643.91,1183.60 645.70,1183.46 647.49,1183.30 649.29,1183.11 651.08,1182.90 652.88,1182.66 654.67,1182.38 656.46,1182.07 658.26,1181.71 660.05,1181.30 661.84,1180.84 663.64,1180.31 665.43,1179.72 667.23,1179.05 669.02,1178.28 670.81,1177.42 672.61,1176.45 674.40,1175.36 676.19,1174.13 677.99,1172.76 679.78,1171.23 681.58,1169.52 683.37,1167.62 685.16,1165.53 686.96,1163.22 688.75,1160.69 690.54,1157.93 692.34,1154.94 694.13,1151.71 695.92,1148.26 697.72,1144.58 699.51,1140.70 701.31,1136.63 703.10,1132.40 704.89,1128.04 706.69,1123.59 708.48,1119.08 710.27,1114.55 712.07,1110.04 713.86,1105.60 715.66,1101.25 717.45,1097.05 719.24,1093.00 721.04,1089.15 722.83,1085.51 724.62,1082.08 726.42,1078.89 728.21,1075.93 730.01,1073.21 731.80,1070.71 733.59,1068.43 735.39,1066.36 737.18,1064.50 738.98,1062.81 740.77,1061.30 742.56,1059.95 744.36,1058.75 746.15,1057.67 747.94,1056.72 749.74,1055.87 751.53,1055.12 753.33,1054.46 755.12,1053.88 756.91,1053.36 758.71,1052.91 760.50,1052.51 762.29,1052.16 764.09,1051.85 765.88,1051.58 767.67,1051.34 769.47,1051.13 771.26,1050.95 773.06,1050.79 774.85,1050.65 776.64,1050.52 778.44,1050.42 780.23,1050.32 782.02,1050.24 783.82,1050.17 785.61,1050.10 787.41,1050.05 789.20,1050.00 790.99,1049.96 792.79,1049.92 794.58,1049.89 796.38,1049.86 798.17,1049.83 799.96,1049.81 801.76,1049.79 803.55,1049.78 805.34,1049.76 807.14,1049.75 808.93,1049.74 810.73,1049.73 812.52,1049.72 814.31,1049.71 816.11,1049.71 817.90,1049.70 819.69,1049.70 821.49,1049.69 823.28,1049.69 825.08,1049.69 826.87,1049.68 828.66,1049.68 830.46,1049.68 832.25,1049.68" fill="none" stroke="#e6388a" stroke-width="1.5"/>
<path d="M617.00,1177.99V1191.22M612.00,1177.99h10M612.00,1191.22h10" stroke="#3d5aab" stroke-width="1.5" fill="none"/>
<rect x="613.96" y="1181.57" width="6.08" height="6.08" fill="#fff" stroke="#3d5aab" stroke-width="1.4"/>
<path d="M647.75,1181.43V1194.66M642.75,1181.43h10M642.75,1194.66h10" stroke="#3d5aab" stroke-width="1.5" fill="none"/>
<rect x="644.71" y="1185.01" width="6.08" height="6.08" fill="#fff" stroke="#3d5aab" stroke-width="1.4"/>
<path d="M678.50,1156.83V1170.06M673.50,1156.83h10M673.50,1170.06h10" stroke="#3d5aab" stroke-width="1.5" fill="none"/>
<rect x="675.46" y="1160.40" width="6.08" height="6.08" fill="#fff" stroke="#3d5aab" stroke-width="1.4"/>
<path d="M709.25,1088.03V1114.49M704.25,1088.03h10M704.25,1114.49h10" stroke="#3d5aab" stroke-width="1.5" fill="none"/>
<rect x="706.21" y="1098.22" width="6.08" height="6.08" fill="#fff" stroke="#3d5aab" stroke-width="1.4"/>
<path d="M740.00,1065.54V1081.41M735.00,1065.54h10M735.00,1081.41h10" stroke="#3d5aab" stroke-width="1.5" fill="none"/>
<rect x="736.96" y="1070.44" width="6.08" height="6.08" fill="#fff" stroke="#3d5aab" stroke-width="1.4"/>
<path d="M770.75,1058.92V1080.09M765.75,1058.92h10M765.75,1080.09h10" stroke="#3d5aab" stroke-width="1.5" fill="none"/>
<rect x="767.71" y="1066.47" width="6.08" height="6.08" fill="#fff" stroke="#3d5aab" stroke-width="1.4"/>
<path d="M801.50,1043.58V1075.33M796.50,1043.58h10M796.50,1075.33h10" stroke="#3d5aab" stroke-width="1.5" fill="none"/>
<rect x="798.46" y="1056.41" width="6.08" height="6.08" fill="#fff" stroke="#3d5aab" stroke-width="1.4"/>
<path d="M832.25,1044.37V1057.60M827.25,1044.37h10M827.25,1057.60h10" stroke="#3d5aab" stroke-width="1.5" fill="none"/>
<rect x="829.21" y="1047.94" width="6.08" height="6.08" fill="#fff" stroke="#3d5aab" stroke-width="1.4"/>
<path d="M617.00,1171.77V1192.94M612.00,1171.77h10M612.00,1192.94h10" stroke="#e6388a" stroke-width="1.5" fill="none"/>
<circle cx="617.00" cy="1182.36" r="3.21" fill="#fff" stroke="#e6388a" stroke-width="1.4"/>
<path d="M647.75,1175.35V1193.87M642.75,1175.35h10M642.75,1193.87h10" stroke="#e6388a" stroke-width="1.5" fill="none"/>
<circle cx="647.75" cy="1184.61" r="3.21" fill="#fff" stroke="#e6388a" stroke-width="1.4"/>
<path d="M678.50,1160.79V1174.02M673.50,1160.79h10M673.50,1174.02h10" stroke="#e6388a" stroke-width="1.5" fill="none"/>
<circle cx="678.50" cy="1167.41" r="3.21" fill="#fff" stroke="#e6388a" stroke-width="1.4"/>
<path d="M709.25,1129.04V1142.27M704.25,1129.04h10M704.25,1142.27h10" stroke="#e6388a" stroke-width="1.5" fill="none"/>
<circle cx="709.25" cy="1135.66" r="3.21" fill="#fff" stroke="#e6388a" stroke-width="1.4"/>
<path d="M740.00,1069.51V1082.74M735.00,1069.51h10M735.00,1082.74h10" stroke="#e6388a" stroke-width="1.5" fill="none"/>
<circle cx="740.00" cy="1076.12" r="3.21" fill="#fff" stroke="#e6388a" stroke-width="1.4"/>
<path d="M770.75,1048.34V1061.57M765.75,1048.34h10M765.75,1061.57h10" stroke="#e6388a" stroke-width="1.5" fill="none"/>
<circle cx="770.75" cy="1054.95" r="3.21" fill="#fff" stroke="#e6388a" stroke-width="1.4"/>
<path d="M801.50,1044.37V1057.60M796.50,1044.37h10M796.50,1057.60h10" stroke="#e6388a" stroke-width="1.5" fill="none"/>
<circle cx="801.50" cy="1050.98" r="3.21" fill="#fff" stroke="#e6388a" stroke-width="1.4"/>
<path d="M832.25,1039.08V1054.95M827.25,1039.08h10M827.25,1054.95h10" stroke="#e6388a" stroke-width="1.5" fill="none"/>
<circle cx="832.25" cy="1047.02" r="3.21" fill="#fff" stroke="#e6388a" stroke-width="1.4"/>
<path d="M617.00,1175.35V1193.87M612.00,1175.35h10M612.00,1193.87h10" stroke="#3d5aab" stroke-width="1.5" fill="none"/>
<rect x="613.26" y="1180.87" width="7.48" height="7.48" fill="#3d5aab"/>
<path d="M647.75,1174.02V1187.25M642.75,1174.02h10M642.75,1187.25h10" stroke="#3d5aab" stroke-width="1.5" fill="none"/>
<rect x="644.01" y="1176.90" width="7.48" height="7.48" fill="#3d5aab"/>
<path d="M678.50,1126.93V1161.32M673.50,1126.93h10M673.50,1161.32h10" stroke="#3d5aab" stroke-width="1.5" fill="none"/>
<rect x="674.76" y="1140.38" width="7.48" height="7.48" fill="#3d5aab"/>
<path d="M709.25,1053.63V1095.97M704.25,1053.63h10M704.25,1095.97h10" stroke="#3d5aab" stroke-width="1.5" fill="none"/>
<rect x="705.51" y="1071.06" width="7.48" height="7.48" fill="#3d5aab"/>
<path d="M740.00,1048.34V1061.57M735.00,1048.34h10M735.00,1061.57h10" stroke="#3d5aab" stroke-width="1.5" fill="none"/>
<rect x="736.26" y="1051.21" width="7.48" height="7.48" fill="#3d5aab"/>
<path d="M770.75,1043.05V1056.28M765.75,1043.05h10M765.75,1056.28h10" stroke="#3d5aab" stroke-width="1.5" fill="none"/>
<rect x="767.01" y="1045.92" width="7.48" height="7.48" fill="#3d5aab"/>
<path d="M801.50,1043.05V1056.28M796.50,1043.05h10M796.50,1056.28h10" stroke="#3d5aab" stroke-width="1.5" fill="none"/>
<rect x="797.76" y="1045.92" width="7.48" height="7.48" fill="#3d5aab"/>
<path d="M832.25,1041.72V1054.95M827.25,1041.72h10M827.25,1054.95h10" stroke="#3d5aab" stroke-width="1.5" fill="none"/>
<rect x="828.51" y="1044.60" width="7.48" height="7.48" fill="#3d5aab"/>
<path d="M617.00,1177.99V1193.87M612.00,1177.99h10M612.00,1193.87h10" stroke="#e6388a" stroke-width="1.5" fill="none"/>
<circle cx="617.00" cy="1185.93" r="3.91" fill="#e6388a"/>
<path d="M647.75,1175.35V1188.58M642.75,1175.35h10M642.75,1188.58h10" stroke="#e6388a" stroke-width="1.5" fill="none"/>
<circle cx="647.75" cy="1181.96" r="3.91" fill="#e6388a"/>
<path d="M678.50,1162.65V1175.88M673.50,1162.65h10M673.50,1175.88h10" stroke="#e6388a" stroke-width="1.5" fill="none"/>
<circle cx="678.50" cy="1169.26" r="3.91" fill="#e6388a"/>
<path d="M709.25,1101.26V1117.13M704.25,1101.26h10M704.25,1117.13h10" stroke="#e6388a" stroke-width="1.5" fill="none"/>
<circle cx="709.25" cy="1109.20" r="3.91" fill="#e6388a"/>
<path d="M740.00,1058.92V1072.15M735.00,1058.92h10M735.00,1072.15h10" stroke="#e6388a" stroke-width="1.5" fill="none"/>
<circle cx="740.00" cy="1065.54" r="3.91" fill="#e6388a"/>
<path d="M770.75,1048.34V1061.57M765.75,1048.34h10M765.75,1061.57h10" stroke="#e6388a" stroke-width="1.5" fill="none"/>
<circle cx="770.75" cy="1054.95" r="3.91" fill="#e6388a"/>
<path d="M801.50,1041.72V1054.95M796.50,1041.72h10M796.50,1054.95h10" stroke="#e6388a" stroke-width="1.5" fill="none"/>
<circle cx="801.50" cy="1048.34" r="3.91" fill="#e6388a"/>
<path d="M832.25,1035.11V1050.99M827.25,1035.11h10M827.25,1050.99h10" stroke="#e6388a" stroke-width="1.5" fill="none"/>
<circle cx="832.25" cy="1043.05" r="3.91" fill="#e6388a"/>
<path d="M1139.6,1035V1204.8" stroke="#000" stroke-width="1.5" fill="none"/>
<path d="M1135.1,1192.00H1139.6" stroke="#000" stroke-width="1.5"/>
<text x="1131.1" y="1200.30" text-anchor="end" font-size="20.8">0</text>
<path d="M1135.1,1159.28H1139.6" stroke="#000" stroke-width="1.5"/>
<text x="1131.1" y="1167.58" text-anchor="end" font-size="20.8">25</text>
<path d="M1135.1,1126.55H1139.6" stroke="#000" stroke-width="1.5"/>
<text x="1131.1" y="1134.85" text-anchor="end" font-size="20.8">50</text>
<path d="M1135.1,1093.82H1139.6" stroke="#000" stroke-width="1.5"/>
<text x="1131.1" y="1102.12" text-anchor="end" font-size="20.8">75</text>
<path d="M1135.1,1061.10H1139.6" stroke="#000" stroke-width="1.5"/>
<text x="1131.1" y="1069.40" text-anchor="end" font-size="20.8">100</text>
<path d="M1162.7,1234.1H1406.3" stroke="#000" stroke-width="1.5" fill="none"/>
<path d="M1162.70,1234.1v5" stroke="#000" stroke-width="1.5"/>
<text transform="translate(1173.20,1251.10) rotate(-45)" text-anchor="end" font-size="20.8">&#8722;13</text>
<path d="M1193.15,1234.1v5" stroke="#000" stroke-width="1.5"/>
<text transform="translate(1203.65,1251.10) rotate(-45)" text-anchor="end" font-size="20.8">&#8722;12</text>
<path d="M1223.60,1234.1v5" stroke="#000" stroke-width="1.5"/>
<text transform="translate(1234.10,1251.10) rotate(-45)" text-anchor="end" font-size="20.8">&#8722;11</text>
<path d="M1254.05,1234.1v5" stroke="#000" stroke-width="1.5"/>
<text transform="translate(1264.55,1251.10) rotate(-45)" text-anchor="end" font-size="20.8">&#8722;10</text>
<path d="M1284.50,1234.1v5" stroke="#000" stroke-width="1.5"/>
<text transform="translate(1295.00,1251.10) rotate(-45)" text-anchor="end" font-size="20.8">&#8722;9</text>
<path d="M1314.95,1234.1v5" stroke="#000" stroke-width="1.5"/>
<text transform="translate(1325.45,1251.10) rotate(-45)" text-anchor="end" font-size="20.8">&#8722;8</text>
<path d="M1345.40,1234.1v5" stroke="#000" stroke-width="1.5"/>
<text transform="translate(1355.90,1251.10) rotate(-45)" text-anchor="end" font-size="20.8">&#8722;7</text>
<path d="M1375.85,1234.1v5" stroke="#000" stroke-width="1.5"/>
<text transform="translate(1386.35,1251.10) rotate(-45)" text-anchor="end" font-size="20.8">&#8722;6</text>
<path d="M1406.30,1234.1v5" stroke="#000" stroke-width="1.5"/>
<text transform="translate(1416.80,1251.10) rotate(-45)" text-anchor="end" font-size="20.8">&#8722;5</text>
<path d="M1147.6,1192.00H1406.3" stroke="#000" stroke-width="1.6" stroke-dasharray="1.6 6.9" fill="none"/>
<text x="1230.7" y="1025.8" font-size="20.6">BRET2 G<tspan font-size="12.2" dy="7">oA</tspan></text>
<text x="1231.7" y="1296.2" font-size="20.6">log[drug (M)]</text>
<text transform="translate(1092.6,1125.1000000000001) rotate(-90)" text-anchor="middle" font-size="20.8">U50,488 (%)</text>
<polyline points="1162.70,1181.48 1164.48,1181.47 1166.25,1181.46 1168.03,1181.45 1169.81,1181.44 1171.58,1181.43 1173.36,1181.41 1175.13,1181.40 1176.91,1181.38 1178.69,1181.36 1180.46,1181.33 1182.24,1181.30 1184.02,1181.27 1185.79,1181.23 1187.57,1181.19 1189.34,1181.14 1191.12,1181.09 1192.90,1181.03 1194.67,1180.95 1196.45,1180.87 1198.22,1180.78 1200.00,1180.67 1201.78,1180.55 1203.55,1180.41 1205.33,1180.25 1207.11,1180.07 1208.88,1179.86 1210.66,1179.63 1212.43,1179.36 1214.21,1179.05 1215.99,1178.71 1217.76,1178.31 1219.54,1177.86 1221.32,1177.36 1223.09,1176.78 1224.87,1176.13 1226.64,1175.39 1228.42,1174.56 1230.20,1173.62 1231.97,1172.57 1233.75,1171.39 1235.53,1170.07 1237.30,1168.60 1239.08,1166.97 1240.86,1165.16 1242.63,1163.17 1244.41,1160.98 1246.18,1158.59 1247.96,1155.99 1249.74,1153.18 1251.51,1150.17 1253.29,1146.95 1255.07,1143.55 1256.84,1139.97 1258.62,1136.25 1260.39,1132.39 1262.17,1128.44 1263.95,1124.43 1265.72,1120.39 1267.50,1116.36 1269.28,1112.37 1271.05,1108.46 1272.83,1104.66 1274.60,1101.00 1276.38,1097.50 1278.16,1094.18 1279.93,1091.06 1281.71,1088.14 1283.48,1085.43 1285.26,1082.92 1287.04,1080.62 1288.81,1078.53 1290.59,1076.62 1292.37,1074.89 1294.14,1073.33 1295.92,1071.93 1297.69,1070.68 1299.47,1069.56 1301.25,1068.56 1303.02,1067.68 1304.80,1066.89 1306.58,1066.19 1308.35,1065.58 1310.13,1065.03 1311.90,1064.55 1313.68,1064.13 1315.46,1063.76 1317.23,1063.43 1319.01,1063.14 1320.79,1062.89 1322.56,1062.67 1324.34,1062.47 1326.12,1062.30 1327.89,1062.15 1329.67,1062.02 1331.44,1061.91 1333.22,1061.80 1335.00,1061.72 1336.77,1061.64 1338.55,1061.57 1340.33,1061.51 1342.10,1061.46 1343.88,1061.42 1345.65,1061.38 1347.43,1061.34 1349.21,1061.31 1350.98,1061.28 1352.76,1061.26 1354.53,1061.24 1356.31,1061.22 1358.09,1061.21 1359.86,1061.19 1361.64,1061.18 1363.42,1061.17 1365.19,1061.16 1366.97,1061.16 1368.74,1061.15 1370.52,1061.14 1372.30,1061.14 1374.07,1061.13 1375.85,1061.13" fill="none" stroke="#3d5aab" stroke-width="1.5" stroke-dasharray="11 6"/>
<polyline points="1162.70,1181.51 1164.48,1181.51 1166.25,1181.51 1168.03,1181.51 1169.81,1181.50 1171.58,1181.50 1173.36,1181.50 1175.13,1181.49 1176.91,1181.49 1178.69,1181.48 1180.46,1181.47 1182.24,1181.46 1184.02,1181.46 1185.79,1181.45 1187.57,1181.43 1189.34,1181.42 1191.12,1181.40 1192.90,1181.39 1194.67,1181.37 1196.45,1181.34 1198.22,1181.32 1200.00,1181.29 1201.78,1181.25 1203.55,1181.21 1205.33,1181.17 1207.11,1181.12 1208.88,1181.06 1210.66,1180.99 1212.43,1180.91 1214.21,1180.82 1215.99,1180.72 1217.76,1180.61 1219.54,1180.48 1221.32,1180.33 1223.09,1180.16 1224.87,1179.96 1226.64,1179.74 1228.42,1179.49 1230.20,1179.20 1231.97,1178.87 1233.75,1178.50 1235.53,1178.08 1237.30,1177.60 1239.08,1177.05 1240.86,1176.43 1242.63,1175.73 1244.41,1174.94 1246.18,1174.05 1247.96,1173.05 1249.74,1171.92 1251.51,1170.65 1253.29,1169.24 1255.07,1167.67 1256.84,1165.92 1258.62,1163.98 1260.39,1161.84 1262.17,1159.50 1263.95,1156.94 1265.72,1154.16 1267.50,1151.15 1269.28,1147.93 1271.05,1144.50 1272.83,1140.86 1274.60,1137.04 1276.38,1133.06 1278.16,1128.95 1279.93,1124.74 1281.71,1120.46 1283.48,1116.16 1285.26,1111.86 1287.04,1107.62 1288.81,1103.46 1290.59,1099.42 1292.37,1095.53 1294.14,1091.81 1295.92,1088.29 1297.69,1084.97 1299.47,1081.88 1301.25,1079.00 1303.02,1076.35 1304.80,1073.91 1306.58,1071.69 1308.35,1069.67 1310.13,1067.84 1311.90,1066.19 1313.68,1064.71 1315.46,1063.38 1317.23,1062.19 1319.01,1061.14 1320.79,1060.20 1322.56,1059.37 1324.34,1058.63 1326.12,1057.98 1327.89,1057.40 1329.67,1056.90 1331.44,1056.45 1333.22,1056.05 1335.00,1055.71 1336.77,1055.40 1338.55,1055.14 1340.33,1054.90 1342.10,1054.70 1343.88,1054.52 1345.65,1054.36 1347.43,1054.22 1349.21,1054.10 1350.98,1053.99 1352.76,1053.90 1354.53,1053.82 1356.31,1053.75 1358.09,1053.68 1359.86,1053.63 1361.64,1053.58 1363.42,1053.54 1365.19,1053.50 1366.97,1053.47 1368.74,1053.44 1370.52,1053.42 1372.30,1053.40 1374.07,1053.38 1375.85,1053.36" fill="none" stroke="#e6388a" stroke-width="1.5" stroke-dasharray="11 6"/>
<polyline points="1162.70,1181.01 1164.48,1180.93 1166.25,1180.85 1168.03,1180.75 1169.81,1180.64 1171.58,1180.51 1173.36,1180.37 1175.13,1180.20 1176.91,1180.02 1178.69,1179.80 1180.46,1179.56 1182.24,1179.28 1184.02,1178.96 1185.79,1178.60 1187.57,1178.19 1189.34,1177.73 1191.12,1177.20 1192.90,1176.60 1194.67,1175.92 1196.45,1175.15 1198.22,1174.29 1200.00,1173.32 1201.78,1172.22 1203.55,1170.99 1205.33,1169.62 1207.11,1168.09 1208.88,1166.38 1210.66,1164.49 1212.43,1162.41 1214.21,1160.12 1215.99,1157.62 1217.76,1154.89 1219.54,1151.95 1221.32,1148.78 1223.09,1145.40 1224.87,1141.81 1226.64,1138.04 1228.42,1134.10 1230.20,1130.02 1231.97,1125.83 1233.75,1121.57 1235.53,1117.26 1237.30,1112.96 1239.08,1108.70 1240.86,1104.52 1242.63,1100.44 1244.41,1096.51 1246.18,1092.75 1247.96,1089.18 1249.74,1085.81 1251.51,1082.65 1253.29,1079.72 1255.07,1077.01 1256.84,1074.52 1258.62,1072.24 1260.39,1070.17 1262.17,1068.29 1263.95,1066.59 1265.72,1065.07 1267.50,1063.71 1269.28,1062.49 1271.05,1061.40 1272.83,1060.43 1274.60,1059.57 1276.38,1058.81 1278.16,1058.14 1279.93,1057.54 1281.71,1057.02 1283.48,1056.56 1285.26,1056.15 1287.04,1055.79 1288.81,1055.48 1290.59,1055.20 1292.37,1054.96 1294.14,1054.75 1295.92,1054.56 1297.69,1054.40 1299.47,1054.25 1301.25,1054.13 1303.02,1054.02 1304.80,1053.92 1306.58,1053.84 1308.35,1053.76 1310.13,1053.70 1311.90,1053.64 1313.68,1053.59 1315.46,1053.55 1317.23,1053.51 1319.01,1053.48 1320.79,1053.45 1322.56,1053.42 1324.34,1053.40 1326.12,1053.38 1327.89,1053.36 1329.67,1053.35 1331.44,1053.34 1333.22,1053.33 1335.00,1053.32 1336.77,1053.31 1338.55,1053.30 1340.33,1053.29 1342.10,1053.29 1343.88,1053.28 1345.65,1053.28 1347.43,1053.27 1349.21,1053.27 1350.98,1053.27 1352.76,1053.26 1354.53,1053.26 1356.31,1053.26 1358.09,1053.26 1359.86,1053.26 1361.64,1053.26 1363.42,1053.25 1365.19,1053.25 1366.97,1053.25 1368.74,1053.25 1370.52,1053.25 1372.30,1053.25 1374.07,1053.25 1375.85,1053.25" fill="none" stroke="#3d5aab" stroke-width="1.5"/>
<polyline points="1162.70,1181.25 1164.48,1181.21 1166.25,1181.16 1168.03,1181.11 1169.81,1181.05 1171.58,1180.98 1173.36,1180.90 1175.13,1180.82 1176.91,1180.71 1178.69,1180.60 1180.46,1180.46 1182.24,1180.31 1184.02,1180.14 1185.79,1179.94 1187.57,1179.72 1189.34,1179.46 1191.12,1179.17 1192.90,1178.84 1194.67,1178.46 1196.45,1178.03 1198.22,1177.55 1200.00,1176.99 1201.78,1176.37 1203.55,1175.66 1205.33,1174.86 1207.11,1173.95 1208.88,1172.94 1210.66,1171.79 1212.43,1170.51 1214.21,1169.08 1215.99,1167.48 1217.76,1165.70 1219.54,1163.74 1221.32,1161.57 1223.09,1159.19 1224.87,1156.59 1226.64,1153.77 1228.42,1150.72 1230.20,1147.44 1231.97,1143.95 1233.75,1140.25 1235.53,1136.36 1237.30,1132.31 1239.08,1128.12 1240.86,1123.83 1242.63,1119.47 1244.41,1115.07 1246.18,1110.69 1247.96,1106.35 1249.74,1102.10 1251.51,1097.98 1253.29,1094.00 1255.07,1090.19 1256.84,1086.59 1258.62,1083.19 1260.39,1080.02 1262.17,1077.07 1263.95,1074.35 1265.72,1071.85 1267.50,1069.57 1269.28,1067.49 1271.05,1065.62 1272.83,1063.92 1274.60,1062.40 1276.38,1061.04 1278.16,1059.82 1279.93,1058.74 1281.71,1057.78 1283.48,1056.92 1285.26,1056.16 1287.04,1055.49 1288.81,1054.90 1290.59,1054.38 1292.37,1053.92 1294.14,1053.52 1295.92,1053.16 1297.69,1052.85 1299.47,1052.57 1301.25,1052.33 1303.02,1052.12 1304.80,1051.93 1306.58,1051.77 1308.35,1051.63 1310.13,1051.50 1311.90,1051.39 1313.68,1051.30 1315.46,1051.21 1317.23,1051.14 1319.01,1051.08 1320.79,1051.02 1322.56,1050.97 1324.34,1050.93 1326.12,1050.89 1327.89,1050.86 1329.67,1050.83 1331.44,1050.80 1333.22,1050.78 1335.00,1050.76 1336.77,1050.75 1338.55,1050.73 1340.33,1050.72 1342.10,1050.71 1343.88,1050.70 1345.65,1050.69 1347.43,1050.68 1349.21,1050.67 1350.98,1050.67 1352.76,1050.66 1354.53,1050.66 1356.31,1050.65 1358.09,1050.65 1359.86,1050.65 1361.64,1050.65 1363.42,1050.64 1365.19,1050.64 1366.97,1050.64 1368.74,1050.64 1370.52,1050.64 1372.30,1050.64 1374.07,1050.64 1375.85,1050.63" fill="none" stroke="#e6388a" stroke-width="1.5"/>
<path d="M1162.70,1180.22V1193.31M1157.70,1180.22h10M1157.70,1193.31h10" stroke="#3d5aab" stroke-width="1.5" fill="none"/>
<rect x="1159.66" y="1183.72" width="6.08" height="6.08" fill="#fff" stroke="#3d5aab" stroke-width="1.4"/>
<path d="M1193.15,1174.98V1195.93M1188.15,1174.98h10M1188.15,1195.93h10" stroke="#3d5aab" stroke-width="1.5" fill="none"/>
<rect x="1190.11" y="1182.41" width="6.08" height="6.08" fill="#fff" stroke="#3d5aab" stroke-width="1.4"/>
<path d="M1223.60,1163.73V1176.82M1218.60,1163.73h10M1218.60,1176.82h10" stroke="#3d5aab" stroke-width="1.5" fill="none"/>
<rect x="1220.56" y="1167.23" width="6.08" height="6.08" fill="#fff" stroke="#3d5aab" stroke-width="1.4"/>
<path d="M1254.05,1129.82V1142.91M1249.05,1129.82h10M1249.05,1142.91h10" stroke="#3d5aab" stroke-width="1.5" fill="none"/>
<rect x="1251.01" y="1133.33" width="6.08" height="6.08" fill="#fff" stroke="#3d5aab" stroke-width="1.4"/>
<path d="M1284.50,1074.71V1095.66M1279.50,1074.71h10M1279.50,1095.66h10" stroke="#3d5aab" stroke-width="1.5" fill="none"/>
<rect x="1281.46" y="1082.15" width="6.08" height="6.08" fill="#fff" stroke="#3d5aab" stroke-width="1.4"/>
<path d="M1314.95,1059.79V1075.50M1309.95,1059.79h10M1309.95,1075.50h10" stroke="#3d5aab" stroke-width="1.5" fill="none"/>
<rect x="1311.91" y="1064.61" width="6.08" height="6.08" fill="#fff" stroke="#3d5aab" stroke-width="1.4"/>
<path d="M1345.40,1054.55V1067.64M1340.40,1054.55h10M1340.40,1067.64h10" stroke="#3d5aab" stroke-width="1.5" fill="none"/>
<rect x="1342.36" y="1058.06" width="6.08" height="6.08" fill="#fff" stroke="#3d5aab" stroke-width="1.4"/>
<path d="M1375.85,1046.70V1059.79M1370.85,1046.70h10M1370.85,1059.79h10" stroke="#3d5aab" stroke-width="1.5" fill="none"/>
<rect x="1372.81" y="1050.21" width="6.08" height="6.08" fill="#fff" stroke="#3d5aab" stroke-width="1.4"/>
<path d="M1162.70,1178.91V1192.00M1157.70,1178.91h10M1157.70,1192.00h10" stroke="#e6388a" stroke-width="1.5" fill="none"/>
<circle cx="1162.70" cy="1185.45" r="3.21" fill="#fff" stroke="#e6388a" stroke-width="1.4"/>
<path d="M1193.15,1181.53V1194.62M1188.15,1181.53h10M1188.15,1194.62h10" stroke="#e6388a" stroke-width="1.5" fill="none"/>
<circle cx="1193.15" cy="1188.07" r="3.21" fill="#fff" stroke="#e6388a" stroke-width="1.4"/>
<path d="M1223.60,1168.44V1184.15M1218.60,1168.44h10M1218.60,1184.15h10" stroke="#e6388a" stroke-width="1.5" fill="none"/>
<circle cx="1223.60" cy="1176.29" r="3.21" fill="#fff" stroke="#e6388a" stroke-width="1.4"/>
<path d="M1254.05,1151.42V1167.13M1249.05,1151.42h10M1249.05,1167.13h10" stroke="#e6388a" stroke-width="1.5" fill="none"/>
<circle cx="1254.05" cy="1159.28" r="3.21" fill="#fff" stroke="#e6388a" stroke-width="1.4"/>
<path d="M1284.50,1091.21V1114.77M1279.50,1091.21h10M1279.50,1114.77h10" stroke="#e6388a" stroke-width="1.5" fill="none"/>
<circle cx="1284.50" cy="1102.99" r="3.21" fill="#fff" stroke="#e6388a" stroke-width="1.4"/>
<path d="M1314.95,1048.53V1061.62M1309.95,1048.53h10M1309.95,1061.62h10" stroke="#e6388a" stroke-width="1.5" fill="none"/>
<circle cx="1314.95" cy="1055.08" r="3.21" fill="#fff" stroke="#e6388a" stroke-width="1.4"/>
<path d="M1345.40,1045.92V1066.86M1340.40,1045.92h10M1340.40,1066.86h10" stroke="#e6388a" stroke-width="1.5" fill="none"/>
<circle cx="1345.40" cy="1056.39" r="3.21" fill="#fff" stroke="#e6388a" stroke-width="1.4"/>
<path d="M1375.85,1046.70V1059.79M1370.85,1046.70h10M1370.85,1059.79h10" stroke="#e6388a" stroke-width="1.5" fill="none"/>
<circle cx="1375.85" cy="1053.25" r="3.21" fill="#fff" stroke="#e6388a" stroke-width="1.4"/>
<path d="M1162.70,1180.22V1193.31M1157.70,1180.22h10M1157.70,1193.31h10" stroke="#3d5aab" stroke-width="1.5" fill="none"/>
<rect x="1158.96" y="1183.02" width="7.48" height="7.48" fill="#3d5aab"/>
<path d="M1193.15,1160.58V1186.76M1188.15,1160.58h10M1188.15,1186.76h10" stroke="#3d5aab" stroke-width="1.5" fill="none"/>
<rect x="1189.41" y="1169.93" width="7.48" height="7.48" fill="#3d5aab"/>
<path d="M1223.60,1133.09V1146.18M1218.60,1133.09h10M1218.60,1146.18h10" stroke="#3d5aab" stroke-width="1.5" fill="none"/>
<rect x="1219.86" y="1135.90" width="7.48" height="7.48" fill="#3d5aab"/>
<path d="M1254.05,1067.64V1088.59M1249.05,1067.64h10M1249.05,1088.59h10" stroke="#3d5aab" stroke-width="1.5" fill="none"/>
<rect x="1250.31" y="1074.38" width="7.48" height="7.48" fill="#3d5aab"/>
<path d="M1284.50,1049.32V1072.88M1279.50,1049.32h10M1279.50,1072.88h10" stroke="#3d5aab" stroke-width="1.5" fill="none"/>
<rect x="1280.76" y="1057.36" width="7.48" height="7.48" fill="#3d5aab"/>
<path d="M1314.95,1048.01V1061.10M1309.95,1048.01h10M1309.95,1061.10h10" stroke="#3d5aab" stroke-width="1.5" fill="none"/>
<rect x="1311.21" y="1050.81" width="7.48" height="7.48" fill="#3d5aab"/>
<path d="M1345.40,1042.77V1055.86M1340.40,1042.77h10M1340.40,1055.86h10" stroke="#3d5aab" stroke-width="1.5" fill="none"/>
<rect x="1341.66" y="1045.58" width="7.48" height="7.48" fill="#3d5aab"/>
<path d="M1375.85,1042.77V1055.86M1370.85,1042.77h10M1370.85,1055.86h10" stroke="#3d5aab" stroke-width="1.5" fill="none"/>
<rect x="1372.11" y="1045.58" width="7.48" height="7.48" fill="#3d5aab"/>
<path d="M1162.70,1177.60V1195.93M1157.70,1177.60h10M1157.70,1195.93h10" stroke="#e6388a" stroke-width="1.5" fill="none"/>
<circle cx="1162.70" cy="1186.76" r="3.91" fill="#e6388a"/>
<path d="M1193.15,1167.13V1190.69M1188.15,1167.13h10M1188.15,1190.69h10" stroke="#e6388a" stroke-width="1.5" fill="none"/>
<circle cx="1193.15" cy="1178.91" r="3.91" fill="#e6388a"/>
<path d="M1223.60,1147.49V1160.58M1218.60,1147.49h10M1218.60,1160.58h10" stroke="#e6388a" stroke-width="1.5" fill="none"/>
<circle cx="1223.60" cy="1154.04" r="3.91" fill="#e6388a"/>
<path d="M1254.05,1079.43V1100.37M1249.05,1079.43h10M1249.05,1100.37h10" stroke="#e6388a" stroke-width="1.5" fill="none"/>
<circle cx="1254.05" cy="1089.90" r="3.91" fill="#e6388a"/>
<path d="M1284.50,1054.55V1067.64M1279.50,1054.55h10M1279.50,1067.64h10" stroke="#e6388a" stroke-width="1.5" fill="none"/>
<circle cx="1284.50" cy="1061.10" r="3.91" fill="#e6388a"/>
<path d="M1314.95,1048.01V1061.10M1309.95,1048.01h10M1309.95,1061.10h10" stroke="#e6388a" stroke-width="1.5" fill="none"/>
<circle cx="1314.95" cy="1054.55" r="3.91" fill="#e6388a"/>
<path d="M1345.40,1041.46V1054.56M1340.40,1041.46h10M1340.40,1054.56h10" stroke="#e6388a" stroke-width="1.5" fill="none"/>
<circle cx="1345.40" cy="1048.01" r="3.91" fill="#e6388a"/>
<path d="M1375.85,1038.85V1049.32M1370.85,1038.85h10M1370.85,1049.32h10" stroke="#e6388a" stroke-width="1.5" fill="none"/>
<circle cx="1375.85" cy="1044.08" r="3.91" fill="#e6388a"/>
<path d="M595.6,1345.6V1516.9" stroke="#000" stroke-width="1.5" fill="none"/>
<path d="M591.1,1503.80H595.6" stroke="#000" stroke-width="1.5"/>
<text x="587.1" y="1512.10" text-anchor="end" font-size="20.8">0</text>
<path d="M591.1,1470.62H595.6" stroke="#000" stroke-width="1.5"/>
<text x="587.1" y="1478.92" text-anchor="end" font-size="20.8">25</text>
<path d="M591.1,1437.45H595.6" stroke="#000" stroke-width="1.5"/>
<text x="587.1" y="1445.75" text-anchor="end" font-size="20.8">50</text>
<path d="M591.1,1404.27H595.6" stroke="#000" stroke-width="1.5"/>
<text x="587.1" y="1412.57" text-anchor="end" font-size="20.8">75</text>
<path d="M591.1,1371.10H595.6" stroke="#000" stroke-width="1.5"/>
<text x="587.1" y="1379.40" text-anchor="end" font-size="20.8">100</text>
<path d="M618.5,1546.9H864.5" stroke="#000" stroke-width="1.5" fill="none"/>
<path d="M618.50,1546.9v5" stroke="#000" stroke-width="1.5"/>
<text transform="translate(629.00,1563.90) rotate(-45)" text-anchor="end" font-size="20.8">&#8722;13</text>
<path d="M649.25,1546.9v5" stroke="#000" stroke-width="1.5"/>
<text transform="translate(659.75,1563.90) rotate(-45)" text-anchor="end" font-size="20.8">&#8722;12</text>
<path d="M680.00,1546.9v5" stroke="#000" stroke-width="1.5"/>
<text transform="translate(690.50,1563.90) rotate(-45)" text-anchor="end" font-size="20.8">&#8722;11</text>
<path d="M710.75,1546.9v5" stroke="#000" stroke-width="1.5"/>
<text transform="translate(721.25,1563.90) rotate(-45)" text-anchor="end" font-size="20.8">&#8722;10</text>
<path d="M741.50,1546.9v5" stroke="#000" stroke-width="1.5"/>
<text transform="translate(752.00,1563.90) rotate(-45)" text-anchor="end" font-size="20.8">&#8722;9</text>
<path d="M772.25,1546.9v5" stroke="#000" stroke-width="1.5"/>
<text transform="translate(782.75,1563.90) rotate(-45)" text-anchor="end" font-size="20.8">&#8722;8</text>
<path d="M803.00,1546.9v5" stroke="#000" stroke-width="1.5"/>
<text transform="translate(813.50,1563.90) rotate(-45)" text-anchor="end" font-size="20.8">&#8722;7</text>
<path d="M833.75,1546.9v5" stroke="#000" stroke-width="1.5"/>
<text transform="translate(844.25,1563.90) rotate(-45)" text-anchor="end" font-size="20.8">&#8722;6</text>
<path d="M864.50,1546.9v5" stroke="#000" stroke-width="1.5"/>
<text transform="translate(875.00,1563.90) rotate(-45)" text-anchor="end" font-size="20.8">&#8722;5</text>
<path d="M603.6,1503.80H864.5" stroke="#000" stroke-width="1.6" stroke-dasharray="1.6 6.9" fill="none"/>
<text x="687.2" y="1338.7" font-size="20.6">BRET2 G<tspan font-size="12.2" dy="7">z</tspan></text>
<text x="676.8" y="1608" font-size="20.6">log[drug (M)]</text>
<text transform="translate(548.6,1436.45) rotate(-90)" text-anchor="middle" font-size="20.8">U50,488 (%)</text>
<polyline points="618.50,1499.69 620.29,1499.67 622.09,1499.65 623.88,1499.62 625.67,1499.59 627.47,1499.56 629.26,1499.52 631.06,1499.48 632.85,1499.43 634.64,1499.38 636.44,1499.32 638.23,1499.24 640.02,1499.16 641.82,1499.07 643.61,1498.96 645.41,1498.84 647.20,1498.70 648.99,1498.54 650.79,1498.36 652.58,1498.15 654.38,1497.91 656.17,1497.64 657.96,1497.33 659.76,1496.99 661.55,1496.59 663.34,1496.14 665.14,1495.63 666.93,1495.05 668.73,1494.39 670.52,1493.65 672.31,1492.81 674.11,1491.86 675.90,1490.80 677.69,1489.61 679.49,1488.28 681.28,1486.79 683.08,1485.14 684.87,1483.30 686.66,1481.28 688.46,1479.05 690.25,1476.61 692.04,1473.96 693.84,1471.09 695.63,1468.00 697.42,1464.71 699.22,1461.20 701.01,1457.52 702.81,1453.66 704.60,1449.67 706.39,1445.56 708.19,1441.37 709.98,1437.15 711.77,1432.92 713.57,1428.73 715.36,1424.60 717.16,1420.59 718.95,1416.71 720.74,1412.99 722.54,1409.45 724.33,1406.12 726.12,1402.99 727.92,1400.09 729.71,1397.40 731.51,1394.93 733.30,1392.66 735.09,1390.60 736.89,1388.74 738.68,1387.05 740.48,1385.54 742.27,1384.18 744.06,1382.97 745.86,1381.88 747.65,1380.92 749.44,1380.06 751.24,1379.30 753.03,1378.63 754.83,1378.04 756.62,1377.52 758.41,1377.06 760.21,1376.65 762.00,1376.30 763.79,1375.98 765.59,1375.71 767.38,1375.46 769.17,1375.25 770.97,1375.07 772.76,1374.90 774.56,1374.76 776.35,1374.63 778.14,1374.52 779.94,1374.43 781.73,1374.34 783.52,1374.27 785.32,1374.20 787.11,1374.15 788.91,1374.10 790.70,1374.06 792.49,1374.02 794.29,1373.98 796.08,1373.96 797.88,1373.93 799.67,1373.91 801.46,1373.89 803.26,1373.87 805.05,1373.86 806.84,1373.84 808.64,1373.83 810.43,1373.82 812.23,1373.81 814.02,1373.81 815.81,1373.80 817.61,1373.79 819.40,1373.79 821.19,1373.78 822.99,1373.78 824.78,1373.78 826.58,1373.77 828.37,1373.77 830.16,1373.77 831.96,1373.77 833.75,1373.77" fill="none" stroke="#3d5aab" stroke-width="1.5" stroke-dasharray="11 6"/>
<polyline points="618.50,1499.74 620.29,1499.73 622.09,1499.71 623.88,1499.70 625.67,1499.68 627.47,1499.66 629.26,1499.64 631.06,1499.61 632.85,1499.58 634.64,1499.55 636.44,1499.51 638.23,1499.47 640.02,1499.42 641.82,1499.36 643.61,1499.29 645.41,1499.22 647.20,1499.13 648.99,1499.03 650.79,1498.92 652.58,1498.79 654.38,1498.64 656.17,1498.48 657.96,1498.29 659.76,1498.07 661.55,1497.82 663.34,1497.54 665.14,1497.22 666.93,1496.85 668.73,1496.44 670.52,1495.96 672.31,1495.43 674.11,1494.82 675.90,1494.13 677.69,1493.35 679.49,1492.47 681.28,1491.48 683.08,1490.37 684.87,1489.12 686.66,1487.72 688.46,1486.16 690.25,1484.42 692.04,1482.49 693.84,1480.36 695.63,1478.02 697.42,1475.46 699.22,1472.66 701.01,1469.64 702.81,1466.38 704.60,1462.90 706.39,1459.20 708.19,1455.30 709.98,1451.22 711.77,1446.99 713.57,1442.64 715.36,1438.19 717.16,1433.71 718.95,1429.21 720.74,1424.74 722.54,1420.35 724.33,1416.07 726.12,1411.92 727.92,1407.95 729.71,1404.17 731.51,1400.60 733.30,1397.25 735.09,1394.13 736.89,1391.24 738.68,1388.59 740.48,1386.16 742.27,1383.95 744.06,1381.94 745.86,1380.13 747.65,1378.50 749.44,1377.03 751.24,1375.73 753.03,1374.56 754.83,1373.52 756.62,1372.60 758.41,1371.78 760.21,1371.06 762.00,1370.42 763.79,1369.85 765.59,1369.36 767.38,1368.92 769.17,1368.53 770.97,1368.20 772.76,1367.90 774.56,1367.64 776.35,1367.41 778.14,1367.21 779.94,1367.03 781.73,1366.88 783.52,1366.74 785.32,1366.62 787.11,1366.52 788.91,1366.43 790.70,1366.35 792.49,1366.28 794.29,1366.22 796.08,1366.16 797.88,1366.12 799.67,1366.08 801.46,1366.04 803.26,1366.01 805.05,1365.98 806.84,1365.96 808.64,1365.94 810.43,1365.92 812.23,1365.90 814.02,1365.89 815.81,1365.88 817.61,1365.87 819.40,1365.86 821.19,1365.85 822.99,1365.84 824.78,1365.84 826.58,1365.83 828.37,1365.83 830.16,1365.82 831.96,1365.82 833.75,1365.81" fill="none" stroke="#e6388a" stroke-width="1.5" stroke-dasharray="11 6"/>
<polyline points="618.50,1497.76 620.29,1497.47 622.09,1497.14 623.88,1496.76 625.67,1496.33 627.47,1495.85 629.26,1495.30 631.06,1494.67 632.85,1493.96 634.64,1493.16 636.44,1492.25 638.23,1491.24 640.02,1490.09 641.82,1488.80 643.61,1487.36 645.41,1485.75 647.20,1483.96 648.99,1481.98 650.79,1479.78 652.58,1477.37 654.38,1474.73 656.17,1471.86 657.96,1468.74 659.76,1465.39 661.55,1461.80 663.34,1457.99 665.14,1453.98 666.93,1449.78 668.73,1445.42 670.52,1440.94 672.31,1436.36 674.11,1431.74 675.90,1427.11 677.69,1422.51 679.49,1417.99 681.28,1413.58 683.08,1409.31 684.87,1405.22 686.66,1401.32 688.46,1397.65 690.25,1394.20 692.04,1390.99 693.84,1388.02 695.63,1385.29 697.42,1382.78 699.22,1380.50 701.01,1378.44 702.81,1376.57 704.60,1374.89 706.39,1373.39 708.19,1372.04 709.98,1370.84 711.77,1369.77 713.57,1368.82 715.36,1367.98 717.16,1367.23 718.95,1366.58 720.74,1365.99 722.54,1365.48 724.33,1365.03 726.12,1364.64 727.92,1364.29 729.71,1363.98 731.51,1363.71 733.30,1363.48 735.09,1363.27 736.89,1363.09 738.68,1362.93 740.48,1362.79 742.27,1362.67 744.06,1362.56 745.86,1362.47 747.65,1362.38 749.44,1362.31 751.24,1362.25 753.03,1362.19 754.83,1362.15 756.62,1362.10 758.41,1362.07 760.21,1362.04 762.00,1362.01 763.79,1361.98 765.59,1361.96 767.38,1361.94 769.17,1361.93 770.97,1361.91 772.76,1361.90 774.56,1361.89 776.35,1361.88 778.14,1361.87 779.94,1361.86 781.73,1361.86 783.52,1361.85 785.32,1361.85 787.11,1361.84 788.91,1361.84 790.70,1361.83 792.49,1361.83 794.29,1361.83 796.08,1361.83 797.88,1361.82 799.67,1361.82 801.46,1361.82 803.26,1361.82 805.05,1361.82 806.84,1361.82 808.64,1361.82 810.43,1361.82 812.23,1361.82 814.02,1361.81 815.81,1361.81 817.61,1361.81 819.40,1361.81 821.19,1361.81 822.99,1361.81 824.78,1361.81 826.58,1361.81 828.37,1361.81 830.16,1361.81 831.96,1361.81 833.75,1361.81" fill="none" stroke="#3d5aab" stroke-width="1.5"/>
<polyline points="618.50,1500.76 620.29,1500.70 622.09,1500.64 623.88,1500.57 625.67,1500.48 627.47,1500.39 629.26,1500.28 631.06,1500.16 632.85,1500.02 634.64,1499.86 636.44,1499.67 638.23,1499.46 640.02,1499.22 641.82,1498.95 643.61,1498.64 645.41,1498.29 647.20,1497.89 648.99,1497.43 650.79,1496.92 652.58,1496.33 654.38,1495.66 656.17,1494.91 657.96,1494.06 659.76,1493.10 661.55,1492.02 663.34,1490.81 665.14,1489.45 666.93,1487.93 668.73,1486.23 670.52,1484.35 672.31,1482.27 674.11,1479.97 675.90,1477.45 677.69,1474.69 679.49,1471.70 681.28,1468.47 683.08,1465.00 684.87,1461.31 686.66,1457.40 688.46,1453.29 690.25,1449.01 692.04,1444.58 693.84,1440.05 695.63,1435.45 697.42,1430.82 699.22,1426.20 701.01,1421.63 702.81,1417.16 704.60,1412.81 706.39,1408.63 708.19,1404.63 709.98,1400.84 711.77,1397.27 713.57,1393.94 715.36,1390.84 717.16,1387.99 718.95,1385.37 720.74,1382.98 722.54,1380.80 724.33,1378.83 726.12,1377.06 727.92,1375.47 729.71,1374.04 731.51,1372.77 733.30,1371.63 735.09,1370.62 736.89,1369.72 738.68,1368.93 740.48,1368.23 742.27,1367.61 744.06,1367.06 745.86,1366.58 747.65,1366.16 749.44,1365.79 751.24,1365.46 753.03,1365.17 754.83,1364.92 756.62,1364.70 758.41,1364.50 760.21,1364.33 762.00,1364.18 763.79,1364.05 765.59,1363.94 767.38,1363.84 769.17,1363.75 770.97,1363.67 772.76,1363.61 774.56,1363.55 776.35,1363.50 778.14,1363.45 779.94,1363.41 781.73,1363.38 783.52,1363.35 785.32,1363.32 787.11,1363.30 788.91,1363.28 790.70,1363.26 792.49,1363.25 794.29,1363.23 796.08,1363.22 797.88,1363.21 799.67,1363.20 801.46,1363.19 803.26,1363.19 805.05,1363.18 806.84,1363.17 808.64,1363.17 810.43,1363.17 812.23,1363.16 814.02,1363.16 815.81,1363.16 817.61,1363.15 819.40,1363.15 821.19,1363.15 822.99,1363.15 824.78,1363.15 826.58,1363.15 828.37,1363.15 830.16,1363.14 831.96,1363.14 833.75,1363.14" fill="none" stroke="#e6388a" stroke-width="1.5"/>
<path d="M618.50,1490.53V1503.80M613.50,1490.53h10M613.50,1503.80h10" stroke="#3d5aab" stroke-width="1.5" fill="none"/>
<rect x="615.46" y="1494.12" width="6.08" height="6.08" fill="#fff" stroke="#3d5aab" stroke-width="1.4"/>
<path d="M649.25,1493.18V1509.11M644.25,1493.18h10M644.25,1509.11h10" stroke="#3d5aab" stroke-width="1.5" fill="none"/>
<rect x="646.21" y="1498.11" width="6.08" height="6.08" fill="#fff" stroke="#3d5aab" stroke-width="1.4"/>
<path d="M680.00,1481.24V1497.16M675.00,1481.24h10M675.00,1497.16h10" stroke="#3d5aab" stroke-width="1.5" fill="none"/>
<rect x="676.96" y="1486.16" width="6.08" height="6.08" fill="#fff" stroke="#3d5aab" stroke-width="1.4"/>
<path d="M710.75,1418.87V1434.80M705.75,1418.87h10M705.75,1434.80h10" stroke="#3d5aab" stroke-width="1.5" fill="none"/>
<rect x="707.71" y="1423.79" width="6.08" height="6.08" fill="#fff" stroke="#3d5aab" stroke-width="1.4"/>
<path d="M741.50,1367.12V1393.66M736.50,1367.12h10M736.50,1393.66h10" stroke="#3d5aab" stroke-width="1.5" fill="none"/>
<rect x="738.46" y="1377.35" width="6.08" height="6.08" fill="#fff" stroke="#3d5aab" stroke-width="1.4"/>
<path d="M772.25,1371.10V1381.72M767.25,1371.10h10M767.25,1381.72h10" stroke="#3d5aab" stroke-width="1.5" fill="none"/>
<rect x="769.21" y="1373.37" width="6.08" height="6.08" fill="#fff" stroke="#3d5aab" stroke-width="1.4"/>
<path d="M803.00,1368.45V1384.37M798.00,1368.45h10M798.00,1384.37h10" stroke="#3d5aab" stroke-width="1.5" fill="none"/>
<rect x="799.96" y="1373.37" width="6.08" height="6.08" fill="#fff" stroke="#3d5aab" stroke-width="1.4"/>
<path d="M833.75,1360.48V1379.06M828.75,1360.48h10M828.75,1379.06h10" stroke="#3d5aab" stroke-width="1.5" fill="none"/>
<rect x="830.71" y="1366.73" width="6.08" height="6.08" fill="#fff" stroke="#3d5aab" stroke-width="1.4"/>
<path d="M618.50,1491.86V1505.13M613.50,1491.86h10M613.50,1505.13h10" stroke="#e6388a" stroke-width="1.5" fill="none"/>
<circle cx="618.50" cy="1498.49" r="3.21" fill="#fff" stroke="#e6388a" stroke-width="1.4"/>
<path d="M649.25,1494.51V1507.78M644.25,1494.51h10M644.25,1507.78h10" stroke="#e6388a" stroke-width="1.5" fill="none"/>
<circle cx="649.25" cy="1501.15" r="3.21" fill="#fff" stroke="#e6388a" stroke-width="1.4"/>
<path d="M680.00,1493.85V1507.12M675.00,1493.85h10M675.00,1507.12h10" stroke="#e6388a" stroke-width="1.5" fill="none"/>
<circle cx="680.00" cy="1500.48" r="3.21" fill="#fff" stroke="#e6388a" stroke-width="1.4"/>
<path d="M710.75,1438.78V1465.32M705.75,1438.78h10M705.75,1465.32h10" stroke="#e6388a" stroke-width="1.5" fill="none"/>
<circle cx="710.75" cy="1452.05" r="3.21" fill="#fff" stroke="#e6388a" stroke-width="1.4"/>
<path d="M741.50,1371.10V1384.37M736.50,1371.10h10M736.50,1384.37h10" stroke="#e6388a" stroke-width="1.5" fill="none"/>
<circle cx="741.50" cy="1377.73" r="3.21" fill="#fff" stroke="#e6388a" stroke-width="1.4"/>
<path d="M772.25,1359.16V1372.43M767.25,1359.16h10M767.25,1372.43h10" stroke="#e6388a" stroke-width="1.5" fill="none"/>
<circle cx="772.25" cy="1365.79" r="3.21" fill="#fff" stroke="#e6388a" stroke-width="1.4"/>
<path d="M803.00,1359.16V1372.43M798.00,1359.16h10M798.00,1372.43h10" stroke="#e6388a" stroke-width="1.5" fill="none"/>
<circle cx="803.00" cy="1365.79" r="3.21" fill="#fff" stroke="#e6388a" stroke-width="1.4"/>
<path d="M833.75,1363.14V1376.41M828.75,1363.14h10M828.75,1376.41h10" stroke="#e6388a" stroke-width="1.5" fill="none"/>
<circle cx="833.75" cy="1369.77" r="3.21" fill="#fff" stroke="#e6388a" stroke-width="1.4"/>
<path d="M618.50,1486.55V1505.13M613.50,1486.55h10M613.50,1505.13h10" stroke="#3d5aab" stroke-width="1.5" fill="none"/>
<rect x="614.76" y="1492.10" width="7.48" height="7.48" fill="#3d5aab"/>
<path d="M649.25,1457.36V1470.62M644.25,1457.36h10M644.25,1470.62h10" stroke="#3d5aab" stroke-width="1.5" fill="none"/>
<rect x="645.51" y="1460.25" width="7.48" height="7.48" fill="#3d5aab"/>
<path d="M680.00,1404.27V1417.54M675.00,1404.27h10M675.00,1417.54h10" stroke="#3d5aab" stroke-width="1.5" fill="none"/>
<rect x="676.26" y="1407.17" width="7.48" height="7.48" fill="#3d5aab"/>
<path d="M710.75,1350.27V1382.11M705.75,1350.27h10M705.75,1382.11h10" stroke="#3d5aab" stroke-width="1.5" fill="none"/>
<rect x="707.01" y="1362.45" width="7.48" height="7.48" fill="#3d5aab"/>
<path d="M741.50,1356.50V1369.77M736.50,1356.50h10M736.50,1369.77h10" stroke="#3d5aab" stroke-width="1.5" fill="none"/>
<rect x="737.76" y="1359.40" width="7.48" height="7.48" fill="#3d5aab"/>
<path d="M772.25,1356.50V1369.77M767.25,1356.50h10M767.25,1369.77h10" stroke="#3d5aab" stroke-width="1.5" fill="none"/>
<rect x="768.51" y="1359.40" width="7.48" height="7.48" fill="#3d5aab"/>
<path d="M803.00,1356.50V1369.77M798.00,1356.50h10M798.00,1369.77h10" stroke="#3d5aab" stroke-width="1.5" fill="none"/>
<rect x="799.26" y="1359.40" width="7.48" height="7.48" fill="#3d5aab"/>
<path d="M833.75,1345.89V1367.12M828.75,1345.89h10M828.75,1367.12h10" stroke="#3d5aab" stroke-width="1.5" fill="none"/>
<rect x="830.01" y="1352.76" width="7.48" height="7.48" fill="#3d5aab"/>
<path d="M618.50,1499.82V1513.09M613.50,1499.82h10M613.50,1513.09h10" stroke="#e6388a" stroke-width="1.5" fill="none"/>
<circle cx="618.50" cy="1506.45" r="3.91" fill="#e6388a"/>
<path d="M649.25,1484.43V1503.00M644.25,1484.43h10M644.25,1503.00h10" stroke="#e6388a" stroke-width="1.5" fill="none"/>
<circle cx="649.25" cy="1493.71" r="3.91" fill="#e6388a"/>
<path d="M680.00,1442.76V1453.37M675.00,1442.76h10M675.00,1453.37h10" stroke="#e6388a" stroke-width="1.5" fill="none"/>
<circle cx="680.00" cy="1448.07" r="3.91" fill="#e6388a"/>
<path d="M710.75,1381.72V1400.29M705.75,1381.72h10M705.75,1400.29h10" stroke="#e6388a" stroke-width="1.5" fill="none"/>
<circle cx="710.75" cy="1391.00" r="3.91" fill="#e6388a"/>
<path d="M741.50,1359.56V1372.83M736.50,1359.56h10M736.50,1372.83h10" stroke="#e6388a" stroke-width="1.5" fill="none"/>
<circle cx="741.50" cy="1366.19" r="3.91" fill="#e6388a"/>
<path d="M772.25,1357.83V1371.10M767.25,1357.83h10M767.25,1371.10h10" stroke="#e6388a" stroke-width="1.5" fill="none"/>
<circle cx="772.25" cy="1364.46" r="3.91" fill="#e6388a"/>
<path d="M803.00,1345.89V1359.16M798.00,1345.89h10M798.00,1359.16h10" stroke="#e6388a" stroke-width="1.5" fill="none"/>
<circle cx="803.00" cy="1352.52" r="3.91" fill="#e6388a"/>
<path d="M833.75,1351.19V1369.77M828.75,1351.19h10M828.75,1369.77h10" stroke="#e6388a" stroke-width="1.5" fill="none"/>
<circle cx="833.75" cy="1360.48" r="3.91" fill="#e6388a"/>
<path d="M1139.1,1343.8V1515.8" stroke="#000" stroke-width="1.5" fill="none"/>
<path d="M1134.6,1502.80H1139.1" stroke="#000" stroke-width="1.5"/>
<text x="1130.6" y="1511.10" text-anchor="end" font-size="20.8">0</text>
<path d="M1134.6,1469.62H1139.1" stroke="#000" stroke-width="1.5"/>
<text x="1130.6" y="1477.92" text-anchor="end" font-size="20.8">25</text>
<path d="M1134.6,1436.45H1139.1" stroke="#000" stroke-width="1.5"/>
<text x="1130.6" y="1444.75" text-anchor="end" font-size="20.8">50</text>
<path d="M1134.6,1403.27H1139.1" stroke="#000" stroke-width="1.5"/>
<text x="1130.6" y="1411.57" text-anchor="end" font-size="20.8">75</text>
<path d="M1134.6,1370.10H1139.1" stroke="#000" stroke-width="1.5"/>
<text x="1130.6" y="1378.40" text-anchor="end" font-size="20.8">100</text>
<path d="M1161.9,1545.4H1408.0" stroke="#000" stroke-width="1.5" fill="none"/>
<path d="M1161.90,1545.4v5" stroke="#000" stroke-width="1.5"/>
<text transform="translate(1172.40,1562.40) rotate(-45)" text-anchor="end" font-size="20.8">&#8722;13</text>
<path d="M1192.66,1545.4v5" stroke="#000" stroke-width="1.5"/>
<text transform="translate(1203.16,1562.40) rotate(-45)" text-anchor="end" font-size="20.8">&#8722;12</text>
<path d="M1223.43,1545.4v5" stroke="#000" stroke-width="1.5"/>
<text transform="translate(1233.93,1562.40) rotate(-45)" text-anchor="end" font-size="20.8">&#8722;11</text>
<path d="M1254.19,1545.4v5" stroke="#000" stroke-width="1.5"/>
<text transform="translate(1264.69,1562.40) rotate(-45)" text-anchor="end" font-size="20.8">&#8722;10</text>
<path d="M1284.95,1545.4v5" stroke="#000" stroke-width="1.5"/>
<text transform="translate(1295.45,1562.40) rotate(-45)" text-anchor="end" font-size="20.8">&#8722;9</text>
<path d="M1315.71,1545.4v5" stroke="#000" stroke-width="1.5"/>
<text transform="translate(1326.21,1562.40) rotate(-45)" text-anchor="end" font-size="20.8">&#8722;8</text>
<path d="M1346.47,1545.4v5" stroke="#000" stroke-width="1.5"/>
<text transform="translate(1356.97,1562.40) rotate(-45)" text-anchor="end" font-size="20.8">&#8722;7</text>
<path d="M1377.24,1545.4v5" stroke="#000" stroke-width="1.5"/>
<text transform="translate(1387.74,1562.40) rotate(-45)" text-anchor="end" font-size="20.8">&#8722;6</text>
<path d="M1408.00,1545.4v5" stroke="#000" stroke-width="1.5"/>
<text transform="translate(1418.50,1562.40) rotate(-45)" text-anchor="end" font-size="20.8">&#8722;5</text>
<path d="M1147.1,1502.80H1408.0" stroke="#000" stroke-width="1.6" stroke-dasharray="1.6 6.9" fill="none"/>
<text x="1231.1" y="1342.5" font-size="20.6">BRET2 G<tspan font-size="12.2" dy="7">g</tspan></text>
<text x="1228" y="1608" font-size="20.6">log[drug (M)]</text>
<text transform="translate(1092.1,1435.0) rotate(-90)" text-anchor="middle" font-size="20.8">U50,488 (%)</text>
<polyline points="1192.66,1498.82 1194.46,1498.82 1196.25,1498.82 1198.05,1498.82 1199.84,1498.82 1201.63,1498.82 1203.43,1498.82 1205.22,1498.82 1207.02,1498.82 1208.81,1498.82 1210.61,1498.83 1212.40,1498.83 1214.20,1498.83 1215.99,1498.83 1217.79,1498.83 1219.58,1498.83 1221.37,1498.83 1223.17,1498.84 1224.96,1498.84 1226.76,1498.84 1228.55,1498.84 1230.35,1498.85 1232.14,1498.85 1233.94,1498.86 1235.73,1498.86 1237.52,1498.87 1239.32,1498.87 1241.11,1498.88 1242.91,1498.89 1244.70,1498.90 1246.50,1498.91 1248.29,1498.92 1250.09,1498.94 1251.88,1498.96 1253.67,1498.98 1255.47,1499.00 1257.26,1499.02 1259.06,1499.05 1260.85,1499.08 1262.65,1499.12 1264.44,1499.16 1266.24,1499.20 1268.03,1499.25 1269.83,1499.31 1271.62,1499.37 1273.41,1499.44 1275.21,1499.52 1277.00,1499.61 1278.80,1499.70 1280.59,1499.81 1282.39,1499.92 1284.18,1500.04 1285.98,1500.17 1287.77,1500.31 1289.56,1500.46 1291.36,1500.61 1293.15,1500.78 1294.95,1500.95 1296.74,1501.12 1298.54,1501.30 1300.33,1501.47 1302.13,1501.65 1303.92,1501.83 1305.71,1502.00 1307.51,1502.17 1309.30,1502.33 1311.10,1502.49 1312.89,1502.64 1314.69,1502.78 1316.48,1502.91 1318.28,1503.03 1320.07,1503.14 1321.87,1503.24 1323.66,1503.34 1325.45,1503.42 1327.25,1503.50 1329.04,1503.57 1330.84,1503.64 1332.63,1503.69 1334.43,1503.74 1336.22,1503.79 1338.02,1503.83 1339.81,1503.86 1341.60,1503.90 1343.40,1503.92 1345.19,1503.95 1346.99,1503.97 1348.78,1503.99 1350.58,1504.01 1352.37,1504.02 1354.17,1504.03 1355.96,1504.05 1357.75,1504.06 1359.55,1504.06 1361.34,1504.07 1363.14,1504.08 1364.93,1504.09 1366.73,1504.09 1368.52,1504.09 1370.32,1504.10 1372.11,1504.10 1373.90,1504.11 1375.70,1504.11 1377.49,1504.11 1379.29,1504.11 1381.08,1504.11 1382.88,1504.12 1384.67,1504.12 1386.47,1504.12 1388.26,1504.12 1390.06,1504.12 1391.85,1504.12 1393.64,1504.12 1395.44,1504.12 1397.23,1504.12 1399.03,1504.12 1400.82,1504.12 1402.62,1504.12 1404.41,1504.12 1406.21,1504.13 1408.00,1504.13" fill="none" stroke="#3d5aab" stroke-width="1.5" stroke-dasharray="11 6"/>
<polyline points="1192.66,1498.82 1194.46,1498.82 1196.25,1498.82 1198.05,1498.82 1199.84,1498.82 1201.63,1498.82 1203.43,1498.82 1205.22,1498.82 1207.02,1498.82 1208.81,1498.82 1210.61,1498.82 1212.40,1498.82 1214.20,1498.82 1215.99,1498.82 1217.79,1498.82 1219.58,1498.82 1221.37,1498.82 1223.17,1498.82 1224.96,1498.82 1226.76,1498.82 1228.55,1498.82 1230.35,1498.82 1232.14,1498.82 1233.94,1498.82 1235.73,1498.82 1237.52,1498.82 1239.32,1498.82 1241.11,1498.82 1242.91,1498.82 1244.70,1498.82 1246.50,1498.82 1248.29,1498.82 1250.09,1498.82 1251.88,1498.82 1253.67,1498.82 1255.47,1498.82 1257.26,1498.82 1259.06,1498.82 1260.85,1498.83 1262.65,1498.83 1264.44,1498.83 1266.24,1498.83 1268.03,1498.83 1269.83,1498.83 1271.62,1498.83 1273.41,1498.84 1275.21,1498.84 1277.00,1498.84 1278.80,1498.84 1280.59,1498.85 1282.39,1498.85 1284.18,1498.86 1285.98,1498.86 1287.77,1498.87 1289.56,1498.87 1291.36,1498.88 1293.15,1498.89 1294.95,1498.90 1296.74,1498.91 1298.54,1498.93 1300.33,1498.94 1302.13,1498.96 1303.92,1498.98 1305.71,1499.00 1307.51,1499.02 1309.30,1499.05 1311.10,1499.08 1312.89,1499.12 1314.69,1499.16 1316.48,1499.20 1318.28,1499.25 1320.07,1499.30 1321.87,1499.36 1323.66,1499.43 1325.45,1499.50 1327.25,1499.58 1329.04,1499.67 1330.84,1499.76 1332.63,1499.86 1334.43,1499.97 1336.22,1500.08 1338.02,1500.20 1339.81,1500.32 1341.60,1500.45 1343.40,1500.58 1345.19,1500.71 1346.99,1500.85 1348.78,1500.98 1350.58,1501.11 1352.37,1501.24 1354.17,1501.37 1355.96,1501.49 1357.75,1501.60 1359.55,1501.71 1361.34,1501.82 1363.14,1501.91 1364.93,1502.00 1366.73,1502.08 1368.52,1502.16 1370.32,1502.23 1372.11,1502.29 1373.90,1502.35 1375.70,1502.40 1377.49,1502.44 1379.29,1502.49 1381.08,1502.52 1382.88,1502.56 1384.67,1502.58 1386.47,1502.61 1388.26,1502.63 1390.06,1502.65 1391.85,1502.67 1393.64,1502.69 1395.44,1502.70 1397.23,1502.71 1399.03,1502.72 1400.82,1502.73 1402.62,1502.74 1404.41,1502.75 1406.21,1502.75 1408.00,1502.76" fill="none" stroke="#e6388a" stroke-width="1.5" stroke-dasharray="11 6"/>
<polyline points="1192.66,1498.24 1194.46,1498.15 1196.25,1498.06 1198.05,1497.95 1199.84,1497.83 1201.63,1497.68 1203.43,1497.52 1205.22,1497.34 1207.02,1497.13 1208.81,1496.89 1210.61,1496.61 1212.40,1496.30 1214.20,1495.95 1215.99,1495.55 1217.79,1495.09 1219.58,1494.57 1221.37,1493.98 1223.17,1493.32 1224.96,1492.56 1226.76,1491.71 1228.55,1490.75 1230.35,1489.67 1232.14,1488.45 1233.94,1487.09 1235.73,1485.58 1237.52,1483.88 1239.32,1482.01 1241.11,1479.93 1242.91,1477.64 1244.70,1475.14 1246.50,1472.40 1248.29,1469.44 1250.09,1466.24 1251.88,1462.82 1253.67,1459.17 1255.47,1455.32 1257.26,1451.29 1259.06,1447.09 1260.85,1442.76 1262.65,1438.34 1264.44,1433.86 1266.24,1429.36 1268.03,1424.89 1269.83,1420.47 1271.62,1416.15 1273.41,1411.97 1275.21,1407.95 1277.00,1404.12 1278.80,1400.49 1280.59,1397.09 1282.39,1393.91 1284.18,1390.96 1285.98,1388.25 1287.77,1385.76 1289.56,1383.50 1291.36,1381.44 1293.15,1379.58 1294.95,1377.90 1296.74,1376.39 1298.54,1375.05 1300.33,1373.85 1302.13,1372.78 1303.92,1371.82 1305.71,1370.98 1307.51,1370.24 1309.30,1369.58 1311.10,1368.99 1312.89,1368.48 1314.69,1368.03 1316.48,1367.63 1318.28,1367.28 1320.07,1366.97 1321.87,1366.70 1323.66,1366.46 1325.45,1366.26 1327.25,1366.07 1329.04,1365.91 1330.84,1365.77 1332.63,1365.65 1334.43,1365.54 1336.22,1365.45 1338.02,1365.37 1339.81,1365.30 1341.60,1365.23 1343.40,1365.18 1345.19,1365.13 1346.99,1365.09 1348.78,1365.05 1350.58,1365.02 1352.37,1364.99 1354.17,1364.96 1355.96,1364.94 1357.75,1364.92 1359.55,1364.91 1361.34,1364.89 1363.14,1364.88 1364.93,1364.87 1366.73,1364.86 1368.52,1364.85 1370.32,1364.84 1372.11,1364.84 1373.90,1364.83 1375.70,1364.83 1377.49,1364.82 1379.29,1364.82 1381.08,1364.82 1382.88,1364.81 1384.67,1364.81 1386.47,1364.81 1388.26,1364.81 1390.06,1364.80 1391.85,1364.80 1393.64,1364.80 1395.44,1364.80 1397.23,1364.80 1399.03,1364.80 1400.82,1364.80 1402.62,1364.80 1404.41,1364.80 1406.21,1364.80 1408.00,1364.80" fill="none" stroke="#3d5aab" stroke-width="1.5"/>
<polyline points="1192.66,1498.47 1194.46,1498.42 1196.25,1498.37 1198.05,1498.30 1199.84,1498.23 1201.63,1498.14 1203.43,1498.05 1205.22,1497.94 1207.02,1497.81 1208.81,1497.67 1210.61,1497.50 1212.40,1497.32 1214.20,1497.10 1215.99,1496.86 1217.79,1496.58 1219.58,1496.27 1221.37,1495.91 1223.17,1495.50 1224.96,1495.04 1226.76,1494.51 1228.55,1493.91 1230.35,1493.23 1232.14,1492.47 1233.94,1491.60 1235.73,1490.63 1237.52,1489.53 1239.32,1488.30 1241.11,1486.91 1242.91,1485.37 1244.70,1483.65 1246.50,1481.74 1248.29,1479.62 1250.09,1477.29 1251.88,1474.74 1253.67,1471.95 1255.47,1468.93 1257.26,1465.66 1259.06,1462.16 1260.85,1458.43 1262.65,1454.49 1264.44,1450.36 1266.24,1446.06 1268.03,1441.61 1269.83,1437.07 1271.62,1432.46 1273.41,1427.83 1275.21,1423.21 1277.00,1418.66 1278.80,1414.20 1280.59,1409.88 1282.39,1405.72 1284.18,1401.75 1285.98,1397.99 1287.77,1394.45 1289.56,1391.15 1291.36,1388.10 1293.15,1385.27 1294.95,1382.69 1296.74,1380.33 1298.54,1378.18 1300.33,1376.24 1302.13,1374.50 1303.92,1372.93 1305.71,1371.52 1307.51,1370.27 1309.30,1369.15 1311.10,1368.16 1312.89,1367.28 1314.69,1366.50 1316.48,1365.81 1318.28,1365.20 1320.07,1364.67 1321.87,1364.19 1323.66,1363.78 1325.45,1363.41 1327.25,1363.09 1329.04,1362.81 1330.84,1362.56 1332.63,1362.34 1334.43,1362.15 1336.22,1361.98 1338.02,1361.84 1339.81,1361.71 1341.60,1361.60 1343.40,1361.50 1345.19,1361.41 1346.99,1361.34 1348.78,1361.27 1350.58,1361.21 1352.37,1361.16 1354.17,1361.12 1355.96,1361.08 1357.75,1361.05 1359.55,1361.02 1361.34,1360.99 1363.14,1360.97 1364.93,1360.95 1366.73,1360.93 1368.52,1360.92 1370.32,1360.90 1372.11,1360.89 1373.90,1360.88 1375.70,1360.87 1377.49,1360.86 1379.29,1360.86 1381.08,1360.85 1382.88,1360.85 1384.67,1360.84 1386.47,1360.84 1388.26,1360.84 1390.06,1360.83 1391.85,1360.83 1393.64,1360.83 1395.44,1360.83 1397.23,1360.82 1399.03,1360.82 1400.82,1360.82 1402.62,1360.82 1404.41,1360.82 1406.21,1360.82 1408.00,1360.82" fill="none" stroke="#e6388a" stroke-width="1.5"/>
<path d="M1192.66,1492.18V1505.45M1187.66,1492.18h10M1187.66,1505.45h10" stroke="#3d5aab" stroke-width="1.5" fill="none"/>
<rect x="1189.62" y="1495.78" width="6.08" height="6.08" fill="#fff" stroke="#3d5aab" stroke-width="1.4"/>
<path d="M1223.43,1488.20V1501.47M1218.43,1488.20h10M1218.43,1501.47h10" stroke="#3d5aab" stroke-width="1.5" fill="none"/>
<rect x="1220.39" y="1491.80" width="6.08" height="6.08" fill="#fff" stroke="#3d5aab" stroke-width="1.4"/>
<path d="M1254.19,1486.21V1499.48M1249.19,1486.21h10M1249.19,1499.48h10" stroke="#3d5aab" stroke-width="1.5" fill="none"/>
<rect x="1251.15" y="1489.81" width="6.08" height="6.08" fill="#fff" stroke="#3d5aab" stroke-width="1.4"/>
<path d="M1284.95,1496.16V1509.43M1279.95,1496.16h10M1279.95,1509.43h10" stroke="#3d5aab" stroke-width="1.5" fill="none"/>
<rect x="1281.91" y="1499.76" width="6.08" height="6.08" fill="#fff" stroke="#3d5aab" stroke-width="1.4"/>
<path d="M1315.71,1498.82V1512.09M1310.71,1498.82h10M1310.71,1512.09h10" stroke="#3d5aab" stroke-width="1.5" fill="none"/>
<rect x="1312.67" y="1502.41" width="6.08" height="6.08" fill="#fff" stroke="#3d5aab" stroke-width="1.4"/>
<path d="M1346.47,1500.15V1510.76M1341.47,1500.15h10M1341.47,1510.76h10" stroke="#3d5aab" stroke-width="1.5" fill="none"/>
<rect x="1343.43" y="1502.41" width="6.08" height="6.08" fill="#fff" stroke="#3d5aab" stroke-width="1.4"/>
<path d="M1377.24,1497.49V1510.76M1372.24,1497.49h10M1372.24,1510.76h10" stroke="#3d5aab" stroke-width="1.5" fill="none"/>
<rect x="1374.20" y="1501.09" width="6.08" height="6.08" fill="#fff" stroke="#3d5aab" stroke-width="1.4"/>
<path d="M1408.00,1498.16V1511.43M1403.00,1498.16h10M1403.00,1511.43h10" stroke="#3d5aab" stroke-width="1.5" fill="none"/>
<rect x="1404.96" y="1501.75" width="6.08" height="6.08" fill="#fff" stroke="#3d5aab" stroke-width="1.4"/>
<path d="M1192.66,1492.18V1505.45M1187.66,1492.18h10M1187.66,1505.45h10" stroke="#e6388a" stroke-width="1.5" fill="none"/>
<circle cx="1192.66" cy="1498.82" r="3.21" fill="#fff" stroke="#e6388a" stroke-width="1.4"/>
<path d="M1223.43,1489.53V1502.80M1218.43,1489.53h10M1218.43,1502.80h10" stroke="#e6388a" stroke-width="1.5" fill="none"/>
<circle cx="1223.43" cy="1496.16" r="3.21" fill="#fff" stroke="#e6388a" stroke-width="1.4"/>
<path d="M1254.19,1484.89V1498.16M1249.19,1484.89h10M1249.19,1498.16h10" stroke="#e6388a" stroke-width="1.5" fill="none"/>
<circle cx="1254.19" cy="1491.52" r="3.21" fill="#fff" stroke="#e6388a" stroke-width="1.4"/>
<path d="M1284.95,1488.60V1504.53M1279.95,1488.60h10M1279.95,1504.53h10" stroke="#e6388a" stroke-width="1.5" fill="none"/>
<circle cx="1284.95" cy="1496.56" r="3.21" fill="#fff" stroke="#e6388a" stroke-width="1.4"/>
<path d="M1315.71,1493.51V1509.43M1310.71,1493.51h10M1310.71,1509.43h10" stroke="#e6388a" stroke-width="1.5" fill="none"/>
<circle cx="1315.71" cy="1501.47" r="3.21" fill="#fff" stroke="#e6388a" stroke-width="1.4"/>
<path d="M1346.47,1493.51V1506.78M1341.47,1493.51h10M1341.47,1506.78h10" stroke="#e6388a" stroke-width="1.5" fill="none"/>
<circle cx="1346.47" cy="1500.15" r="3.21" fill="#fff" stroke="#e6388a" stroke-width="1.4"/>
<path d="M1377.24,1496.16V1509.43M1372.24,1496.16h10M1372.24,1509.43h10" stroke="#e6388a" stroke-width="1.5" fill="none"/>
<circle cx="1377.24" cy="1502.80" r="3.21" fill="#fff" stroke="#e6388a" stroke-width="1.4"/>
<path d="M1408.00,1495.63V1508.90M1403.00,1495.63h10M1403.00,1508.90h10" stroke="#e6388a" stroke-width="1.5" fill="none"/>
<circle cx="1408.00" cy="1502.27" r="3.21" fill="#fff" stroke="#e6388a" stroke-width="1.4"/>
<path d="M1192.66,1489.93V1503.20M1187.66,1489.93h10M1187.66,1503.20h10" stroke="#3d5aab" stroke-width="1.5" fill="none"/>
<rect x="1188.92" y="1492.82" width="7.48" height="7.48" fill="#3d5aab"/>
<path d="M1223.43,1488.60V1504.53M1218.43,1488.60h10M1218.43,1504.53h10" stroke="#3d5aab" stroke-width="1.5" fill="none"/>
<rect x="1219.69" y="1492.82" width="7.48" height="7.48" fill="#3d5aab"/>
<path d="M1254.19,1440.43V1461.66M1249.19,1440.43h10M1249.19,1461.66h10" stroke="#3d5aab" stroke-width="1.5" fill="none"/>
<rect x="1250.45" y="1447.31" width="7.48" height="7.48" fill="#3d5aab"/>
<path d="M1284.95,1382.04V1403.27M1279.95,1382.04h10M1279.95,1403.27h10" stroke="#3d5aab" stroke-width="1.5" fill="none"/>
<rect x="1281.21" y="1388.92" width="7.48" height="7.48" fill="#3d5aab"/>
<path d="M1315.71,1359.48V1372.75M1310.71,1359.48h10M1310.71,1372.75h10" stroke="#3d5aab" stroke-width="1.5" fill="none"/>
<rect x="1311.97" y="1362.38" width="7.48" height="7.48" fill="#3d5aab"/>
<path d="M1346.47,1355.50V1374.08M1341.47,1355.50h10M1341.47,1374.08h10" stroke="#3d5aab" stroke-width="1.5" fill="none"/>
<rect x="1342.73" y="1361.05" width="7.48" height="7.48" fill="#3d5aab"/>
<path d="M1377.24,1355.50V1368.77M1372.24,1355.50h10M1372.24,1368.77h10" stroke="#3d5aab" stroke-width="1.5" fill="none"/>
<rect x="1373.50" y="1358.40" width="7.48" height="7.48" fill="#3d5aab"/>
<path d="M1408.00,1351.52V1372.75M1403.00,1351.52h10M1403.00,1372.75h10" stroke="#3d5aab" stroke-width="1.5" fill="none"/>
<rect x="1404.26" y="1358.40" width="7.48" height="7.48" fill="#3d5aab"/>
<path d="M1192.66,1498.82V1512.09M1187.66,1498.82h10M1187.66,1512.09h10" stroke="#e6388a" stroke-width="1.5" fill="none"/>
<circle cx="1192.66" cy="1505.45" r="3.91" fill="#e6388a"/>
<path d="M1223.43,1489.53V1505.45M1218.43,1489.53h10M1218.43,1505.45h10" stroke="#e6388a" stroke-width="1.5" fill="none"/>
<circle cx="1223.43" cy="1497.49" r="3.91" fill="#e6388a"/>
<path d="M1254.19,1456.36V1469.62M1249.19,1456.36h10M1249.19,1469.62h10" stroke="#e6388a" stroke-width="1.5" fill="none"/>
<circle cx="1254.19" cy="1462.99" r="3.91" fill="#e6388a"/>
<path d="M1284.95,1388.01V1419.86M1279.95,1388.01h10M1279.95,1419.86h10" stroke="#e6388a" stroke-width="1.5" fill="none"/>
<circle cx="1284.95" cy="1403.94" r="3.91" fill="#e6388a"/>
<path d="M1315.71,1368.77V1379.39M1310.71,1368.77h10M1310.71,1379.39h10" stroke="#e6388a" stroke-width="1.5" fill="none"/>
<circle cx="1315.71" cy="1374.08" r="3.91" fill="#e6388a"/>
<path d="M1346.47,1350.86V1369.44M1341.47,1350.86h10M1341.47,1369.44h10" stroke="#e6388a" stroke-width="1.5" fill="none"/>
<circle cx="1346.47" cy="1360.15" r="3.91" fill="#e6388a"/>
<path d="M1377.24,1351.52V1364.79M1372.24,1351.52h10M1372.24,1364.79h10" stroke="#e6388a" stroke-width="1.5" fill="none"/>
<circle cx="1377.24" cy="1358.16" r="3.91" fill="#e6388a"/>
<path d="M1408.00,1347.54V1366.12M1403.00,1347.54h10M1403.00,1366.12h10" stroke="#e6388a" stroke-width="1.5" fill="none"/>
<circle cx="1408.00" cy="1356.83" r="3.91" fill="#e6388a"/>
<path d="M855.8,411.3h13" stroke="#e6388a" stroke-width="1.4"/>
<circle cx="862.30" cy="411.30" r="3.68" fill="#e6388a"/>
<text x="874.5999999999999" y="417.2" font-size="16.3">KOR(WT) momSalB</text>
<path d="M855.8,435.8h13" stroke="#e6388a" stroke-width="1.4"/>
<circle cx="862.30" cy="435.80" r="2.98" fill="#fff" stroke="#e6388a" stroke-width="1.4"/>
<text x="874.5999999999999" y="441.7" font-size="16.3">KOR(R156A) momSalB</text>
<path d="M855.8,481.4h13" stroke="#3d5aab" stroke-width="1.4"/>
<rect x="858.78" y="477.88" width="7.04" height="7.04" fill="#3d5aab"/>
<text x="874.5999999999999" y="487.29999999999995" font-size="16.3">KOR(WT) GR89,696</text>
<path d="M855.8,506.1h13" stroke="#3d5aab" stroke-width="1.4"/>
<rect x="859.48" y="503.28" width="5.64" height="5.64" fill="#fff" stroke="#3d5aab" stroke-width="1.4"/>
<text x="874.5999999999999" y="512.0" font-size="16.3">KOR(R156A) GR89,696</text>
<path d="M855.8,725.7h13" stroke="#e6388a" stroke-width="1.4"/>
<circle cx="862.30" cy="725.70" r="3.68" fill="#e6388a"/>
<text x="874.5999999999999" y="731.6" font-size="16.3">KOR(WT) momSalB</text>
<path d="M855.8,750.4h13" stroke="#e6388a" stroke-width="1.4"/>
<circle cx="862.30" cy="750.40" r="2.98" fill="#fff" stroke="#e6388a" stroke-width="1.4"/>
<text x="874.5999999999999" y="756.3" font-size="16.3">KOR(R156A) momSalB</text>
<path d="M855.8,796.2h13" stroke="#3d5aab" stroke-width="1.4"/>
<rect x="858.78" y="792.68" width="7.04" height="7.04" fill="#3d5aab"/>
<text x="874.5999999999999" y="802.1" font-size="16.3">KOR(WT) GR89,696</text>
<path d="M855.8,821h13" stroke="#3d5aab" stroke-width="1.4"/>
<rect x="859.48" y="818.18" width="5.64" height="5.64" fill="#fff" stroke="#3d5aab" stroke-width="1.4"/>
<text x="874.5999999999999" y="826.9" font-size="16.3">KOR(R156A) GR89,696</text>
<path d="M855.8,1044h13" stroke="#e6388a" stroke-width="1.4"/>
<circle cx="862.30" cy="1044.00" r="3.68" fill="#e6388a"/>
<text x="874.5999999999999" y="1049.9" font-size="16.3">KOR(WT) momSalB</text>
<path d="M855.8,1068.5h13" stroke="#e6388a" stroke-width="1.4"/>
<circle cx="862.30" cy="1068.50" r="2.98" fill="#fff" stroke="#e6388a" stroke-width="1.4"/>
<text x="874.5999999999999" y="1074.4" font-size="16.3">KOR(N336A) momSalB</text>
<path d="M855.8,1114h13" stroke="#3d5aab" stroke-width="1.4"/>
<rect x="858.78" y="1110.48" width="7.04" height="7.04" fill="#3d5aab"/>
<text x="874.5999999999999" y="1119.9" font-size="16.3">KOR(WT) GR89,696</text>
<path d="M855.8,1138.5h13" stroke="#3d5aab" stroke-width="1.4"/>
<rect x="859.48" y="1135.68" width="5.64" height="5.64" fill="#fff" stroke="#3d5aab" stroke-width="1.4"/>
<text x="874.5999999999999" y="1144.4" font-size="16.3">KOR(N336A) GR89,696</text>
<path d="M855.8,1358.7h13" stroke="#e6388a" stroke-width="1.4"/>
<circle cx="862.30" cy="1358.70" r="3.68" fill="#e6388a"/>
<text x="874.5999999999999" y="1364.6000000000001" font-size="16.3">KOR(WT) momSalB</text>
<path d="M855.8,1383.6h13" stroke="#e6388a" stroke-width="1.4"/>
<circle cx="862.30" cy="1383.60" r="2.98" fill="#fff" stroke="#e6388a" stroke-width="1.4"/>
<text x="874.5999999999999" y="1389.5" font-size="16.3">KOR(N336A) momSalB</text>
<path d="M855.8,1429.2h13" stroke="#3d5aab" stroke-width="1.4"/>
<rect x="858.78" y="1425.68" width="7.04" height="7.04" fill="#3d5aab"/>
<text x="874.5999999999999" y="1435.1000000000001" font-size="16.3">KOR(WT) GR89,696</text>
<path d="M855.8,1454h13" stroke="#3d5aab" stroke-width="1.4"/>
<rect x="859.48" y="1451.18" width="5.64" height="5.64" fill="#fff" stroke="#3d5aab" stroke-width="1.4"/>
<text x="874.5999999999999" y="1459.9" font-size="16.3">KOR(N336A) GR89,696</text>
<text transform="translate(527.8,25.2) scale(1.12,1)" font-size="33" font-weight="bold" stroke="#000" stroke-width="1.1">b</text>
<text transform="translate(528.2,388.4) scale(1.12,1)" font-size="33" font-weight="bold" stroke="#000" stroke-width="1.1">d</text>
<text transform="translate(528.0,1028.8) scale(1.12,1)" font-size="33" font-weight="bold" stroke="#000" stroke-width="1.1">f</text>
<g id="panelA">
<text transform="translate(-0.2,24.4) scale(1.1,1)" font-size="33" font-weight="bold" stroke="#000" stroke-width="1.1">a</text>
<rect x="1.5" y="30.9" width="498" height="239.3" rx="62" ry="62" fill="none" stroke="#5a5a5a" stroke-width="1"/>
<rect x="179.3" y="11.4" width="157.2" height="38.6" rx="8" fill="#fff" stroke="#5a5a5a" stroke-width="1"/>
<text x="258" y="38" text-anchor="middle" font-size="20.8">BRET2</text>
<g transform="translate(0,0)"><path d="M34.7,66.9V110A6.6,2.6 0 0 0 47.900000000000006,110V66.9Z" fill="#8cb941" stroke="#7d7d7d" stroke-width="0.8"/><path d="M34.7,109.7A6.6,2.6 0 0 1 47.900000000000006,109.7" fill="none" stroke="#7d7d7d" stroke-width="0.5" opacity="0.7"/><ellipse cx="41.300000000000004" cy="66.9" rx="6.6" ry="2.6" fill="#d5e8a3" stroke="#7d7d7d" stroke-width="0.8"/><path d="M49.0,66.9V110A6.6,2.6 0 0 0 62.2,110V66.9Z" fill="#8cb941" stroke="#7d7d7d" stroke-width="0.8"/><path d="M49.0,109.7A6.6,2.6 0 0 1 62.2,109.7" fill="none" stroke="#7d7d7d" stroke-width="0.5" opacity="0.7"/><ellipse cx="55.6" cy="66.9" rx="6.6" ry="2.6" fill="#d5e8a3" stroke="#7d7d7d" stroke-width="0.8"/><path d="M24.5,71.4V118.4A7.3,2.6 0 0 0 39.1,118.4V71.4Z" fill="#8cb941" stroke="#7d7d7d" stroke-width="0.8"/><path d="M24.5,118.10000000000001A7.3,2.6 0 0 1 39.1,118.10000000000001" fill="none" stroke="#7d7d7d" stroke-width="0.5" opacity="0.7"/><ellipse cx="31.8" cy="71.4" rx="7.3" ry="2.6" fill="#d5e8a3" stroke="#7d7d7d" stroke-width="0.8"/><path d="M39.6,71.4V116A6.6,2.6 0 0 0 52.8,116V71.4Z" fill="#8cb941" stroke="#7d7d7d" stroke-width="0.8"/><path d="M39.6,115.7A6.6,2.6 0 0 1 52.8,115.7" fill="none" stroke="#7d7d7d" stroke-width="0.5" opacity="0.7"/><ellipse cx="46.2" cy="71.4" rx="6.6" ry="2.6" fill="#d5e8a3" stroke="#7d7d7d" stroke-width="0.8"/><path d="M57.3,71.4V118.4A7.2,2.6 0 0 0 71.7,118.4V71.4Z" fill="#8cb941" stroke="#7d7d7d" stroke-width="0.8"/><path d="M57.3,118.10000000000001A7.2,2.6 0 0 1 71.7,118.10000000000001" fill="none" stroke="#7d7d7d" stroke-width="0.5" opacity="0.7"/><ellipse cx="64.5" cy="71.4" rx="7.2" ry="2.6" fill="#d5e8a3" stroke="#7d7d7d" stroke-width="0.8"/><path d="M48.2,75.6V122.9A7.1,2.6 0 0 0 62.400000000000006,122.9V75.6Z" fill="#8cb941" stroke="#7d7d7d" stroke-width="0.8"/><path d="M48.2,122.60000000000001A7.1,2.6 0 0 1 62.400000000000006,122.60000000000001" fill="none" stroke="#7d7d7d" stroke-width="0.5" opacity="0.7"/><ellipse cx="55.300000000000004" cy="75.6" rx="7.1" ry="2.6" fill="#d5e8a3" stroke="#7d7d7d" stroke-width="0.8"/><path d="M36.3,77.6V124.9A7.3,2.6 0 0 0 50.9,124.9V77.6Z" fill="#8cb941" stroke="#7d7d7d" stroke-width="0.8"/><path d="M36.3,124.60000000000001A7.3,2.6 0 0 1 50.9,124.60000000000001" fill="none" stroke="#7d7d7d" stroke-width="0.5" opacity="0.7"/><ellipse cx="43.599999999999994" cy="77.6" rx="7.3" ry="2.6" fill="#d5e8a3" stroke="#7d7d7d" stroke-width="0.8"/><path d="M63.5,118.6H80.5A2.6,5.1 0 0 1 80.5,128.8H63.5Z" fill="#d2d52b" stroke="#7d7d7d" stroke-width="0.8"/><ellipse cx="63.5" cy="123.7" rx="2.4" ry="5.1" fill="#e4eab0" stroke="#7d7d7d" stroke-width="0.7"/><path d="M78.3,118.8A2.4,5 0 0 1 78.3,128.6" fill="none" stroke="#7d7d7d" stroke-width="0.5"/></g>
<g transform="translate(160,0)"><path d="M34.7,66.9V110A6.6,2.6 0 0 0 47.900000000000006,110V66.9Z" fill="#8cb941" stroke="#7d7d7d" stroke-width="0.8"/><path d="M34.7,109.7A6.6,2.6 0 0 1 47.900000000000006,109.7" fill="none" stroke="#7d7d7d" stroke-width="0.5" opacity="0.7"/><ellipse cx="41.300000000000004" cy="66.9" rx="6.6" ry="2.6" fill="#d5e8a3" stroke="#7d7d7d" stroke-width="0.8"/><path d="M49.0,66.9V110A6.6,2.6 0 0 0 62.2,110V66.9Z" fill="#8cb941" stroke="#7d7d7d" stroke-width="0.8"/><path d="M49.0,109.7A6.6,2.6 0 0 1 62.2,109.7" fill="none" stroke="#7d7d7d" stroke-width="0.5" opacity="0.7"/><ellipse cx="55.6" cy="66.9" rx="6.6" ry="2.6" fill="#d5e8a3" stroke="#7d7d7d" stroke-width="0.8"/><path d="M24.5,71.4V118.4A7.3,2.6 0 0 0 39.1,118.4V71.4Z" fill="#8cb941" stroke="#7d7d7d" stroke-width="0.8"/><path d="M24.5,118.10000000000001A7.3,2.6 0 0 1 39.1,118.10000000000001" fill="none" stroke="#7d7d7d" stroke-width="0.5" opacity="0.7"/><ellipse cx="31.8" cy="71.4" rx="7.3" ry="2.6" fill="#d5e8a3" stroke="#7d7d7d" stroke-width="0.8"/><path d="M39.6,71.4V116A6.6,2.6 0 0 0 52.8,116V71.4Z" fill="#8cb941" stroke="#7d7d7d" stroke-width="0.8"/><path d="M39.6,115.7A6.6,2.6 0 0 1 52.8,115.7" fill="none" stroke="#7d7d7d" stroke-width="0.5" opacity="0.7"/><ellipse cx="46.2" cy="71.4" rx="6.6" ry="2.6" fill="#d5e8a3" stroke="#7d7d7d" stroke-width="0.8"/><path d="M57.3,71.4V118.4A7.2,2.6 0 0 0 71.7,118.4V71.4Z" fill="#8cb941" stroke="#7d7d7d" stroke-width="0.8"/><path d="M57.3,118.10000000000001A7.2,2.6 0 0 1 71.7,118.10000000000001" fill="none" stroke="#7d7d7d" stroke-width="0.5" opacity="0.7"/><ellipse cx="64.5" cy="71.4" rx="7.2" ry="2.6" fill="#d5e8a3" stroke="#7d7d7d" stroke-width="0.8"/><path d="M48.2,75.6V122.9A7.1,2.6 0 0 0 62.400000000000006,122.9V75.6Z" fill="#8cb941" stroke="#7d7d7d" stroke-width="0.8"/><path d="M48.2,122.60000000000001A7.1,2.6 0 0 1 62.400000000000006,122.60000000000001" fill="none" stroke="#7d7d7d" stroke-width="0.5" opacity="0.7"/><ellipse cx="55.300000000000004" cy="75.6" rx="7.1" ry="2.6" fill="#d5e8a3" stroke="#7d7d7d" stroke-width="0.8"/><path d="M36.3,77.6V124.9A7.3,2.6 0 0 0 50.9,124.9V77.6Z" fill="#8cb941" stroke="#7d7d7d" stroke-width="0.8"/><path d="M36.3,124.60000000000001A7.3,2.6 0 0 1 50.9,124.60000000000001" fill="none" stroke="#7d7d7d" stroke-width="0.5" opacity="0.7"/><ellipse cx="43.599999999999994" cy="77.6" rx="7.3" ry="2.6" fill="#d5e8a3" stroke="#7d7d7d" stroke-width="0.8"/><path d="M63.5,118.6H80.5A2.6,5.1 0 0 1 80.5,128.8H63.5Z" fill="#d2d52b" stroke="#7d7d7d" stroke-width="0.8"/><ellipse cx="63.5" cy="123.7" rx="2.4" ry="5.1" fill="#e4eab0" stroke="#7d7d7d" stroke-width="0.7"/><path d="M78.3,118.8A2.4,5 0 0 1 78.3,128.6" fill="none" stroke="#7d7d7d" stroke-width="0.5"/></g>
<ellipse cx="114.9" cy="50" rx="10" ry="3.7" fill="#e31e24"/>
<ellipse cx="210.2" cy="74.5" rx="9.6" ry="3.7" fill="#e31e24"/>
<text x="80.4" y="70.8" font-size="20.8">Agonist</text>
<text x="27.8" y="147.1" font-size="20.8" fill="#1daa72">KOR</text>
<path d="M110.5,75.5C112,90 126,99.3 154,99.3M99.3,99.3H156" fill="none" stroke="#e31e24" stroke-width="1.9"/>
<path d="M166.6,99.3L152.4,93.6L155.6,99.3L152.4,105Z" fill="#e31e24"/>
<defs><radialGradient id="gp"><stop offset="0" stop-color="#6b2c91" stop-opacity="0.7"/><stop offset="0.55" stop-color="#8a5aa8" stop-opacity="0.3"/><stop offset="1" stop-color="#fff" stop-opacity="0"/></radialGradient><radialGradient id="gy"><stop offset="0" stop-color="#e8e840" stop-opacity="0.6"/><stop offset="0.55" stop-color="#eeee80" stop-opacity="0.25"/><stop offset="1" stop-color="#fff" stop-opacity="0"/></radialGradient></defs>
<circle cx="222" cy="186" r="38" fill="url(#gp)"/>
<circle cx="206" cy="222" r="32" fill="url(#gy)"/>
<path d="M188.5,152.5L199,133" stroke="#000" stroke-width="3.2" fill="none"/>
<path d="M202.5,126.5L203.5,141L193.5,136Z" fill="#000"/>
<path d="M122.5,157.6H191.0A3.2,3.2 0 0 1 191.0,164.1H166.5Q161.5,164.1 161.5,168.6V185.8Q161.5,190.8 156.5,190.8H121.5Q116.5,190.8 116.5,185.8V163.6Q116.5,157.6 122.5,157.6Z" fill="#5cb9e6"/><path d="M116.5,182.8H161.5V211.4Q161.5,217.4 155.5,217.4H122.5Q116.5,217.4 116.5,211.4Z" fill="#5cb9e6"/><rect x="118.8" y="190.8" width="45.0" height="3.2" fill="#fff"/><path d="M161.5,194.0V198.0Q161.5,194.0 157.5,194.0Z" fill="#fff"/><path d="M134.5,158.1C137.5,154.6 140.5,149.6 144.5,148.6C148.5,147.6 151.5,150.6 150.5,152.1C149.5,153.6 149.5,155.6 151.5,158.1Z" fill="#5cb9e6"/>
<path d="M193,160.5C198,160 202,163 204,167" fill="none" stroke="#555" stroke-width="0.7"/>
<rect x="162" y="165.2" width="22.6" height="42.6" rx="4" fill="#e4007f"/>
<path d="M178.5,205L173,220.5" stroke="#e4007f" stroke-width="6.2" stroke-linecap="round"/>
<path d="M190.6,168.5C192,185 192,205 183.2,224" fill="none" stroke="#b2cc34" stroke-width="7.6" stroke-linecap="round"/>
<circle cx="208.5" cy="170" r="10" fill="#6b2c8e"/><circle cx="233.5" cy="197.5" r="9.3" fill="#6b2c8e"/><path d="M208.5,170L233.5,197.5" stroke="#6b2c8e" stroke-width="15.5"/>
<circle cx="226.7" cy="175.4" r="4.5" fill="#f26522"/>
<g transform="translate(208.5,216) rotate(-57)"><rect x="-23" y="-12.5" width="46" height="25" rx="12.5" fill="#e2df1f" stroke="#555" stroke-width="0.6"/><text x="0" y="7.3" text-anchor="middle" font-size="20.8" fill="#1ba777">GFP</text></g>
<path d="M224,190C230,193 240,196 246,192" fill="none" stroke="#888" stroke-width="0.5"/>
<path d="M242.6,198.9A28,28 0 0 1 234.1,219.0" fill="none" stroke="#f7a824" stroke-width="1.8"/>
<path d="M250.4,195.1A36,36 0 0 1 234.7,228.7" fill="none" stroke="#f7a824" stroke-width="1.8"/>
<path d="M260.0,191.7A46,46 0 0 1 236.2,239.5" fill="none" stroke="#f7a824" stroke-width="1.8"/>
<text x="123.8" y="179.8" font-size="20.8">G&#945;</text>
<text x="156" y="193.8" font-size="20.8">G&#946;</text>
<text x="188.1" y="193.8" font-size="20.8">G&#947;</text>
<text x="210.5" y="159.5" font-size="20.8" fill="#93278f">Rluc</text>
<text x="273.4" y="228" font-size="20.8">High</text>
<text x="241.1" y="253" font-size="20.8">BRET signal</text>
<text x="247.2" y="142" font-size="20.8">Dissociation</text>
<path d="M280,154H316" stroke="#e31e24" stroke-width="1.9"/><path d="M325,154L311,148.4L314.2,154L311,159.6Z" fill="#e31e24"/>
<text x="409.4" y="82.3" font-size="20.8">Low</text>
<text x="372.6" y="107.1" font-size="20.8">BRET signal</text>
<text x="450.8" y="130.1" font-size="20.8" fill="#93278f">Rluc</text>
<path d="M371,132H439.0A3.2,3.2 0 0 1 439.0,138.5H415.0Q410.0,138.5 410.0,143V158.5Q410.0,163.5 405.0,163.5H370Q365,163.5 365,158.5V138Q365,132 371,132Z" fill="#5cb9e6"/><path d="M365,155.5H410.0V185.2Q410.0,191.2 404.0,191.2H371Q365,191.2 365,185.2Z" fill="#5cb9e6"/><rect x="367.3" y="163.5" width="45.0" height="3.7" fill="#fff"/><path d="M410.0,167.2V171.2Q410.0,167.2 406.0,167.2Z" fill="#fff"/><path d="M383,132.5C386,129 389,124 393,123C397,122 400,125 399,126.5C398,128 398,130 400,132.5Z" fill="#5cb9e6"/>
<path d="M442,136.5C445,136.5 447,138 448,141" fill="none" stroke="#555" stroke-width="0.7"/>
<circle cx="457" cy="146.5" r="10.8" fill="#6b2c8e"/><circle cx="480" cy="170.5" r="10.2" fill="#6b2c8e"/><path d="M457,146.5L480,170.5" stroke="#6b2c8e" stroke-width="16.5"/>
<circle cx="476.9" cy="152.2" r="4.5" fill="#f26522"/>
<rect x="413.8" y="191.7" width="23" height="41.4" rx="4" fill="#e4007f"/>
<path d="M431,231L425,246" stroke="#e4007f" stroke-width="6.2" stroke-linecap="round"/>
<path d="M442.4,193.5V228Q442,240 434.5,251.5" fill="none" stroke="#b2cc34" stroke-width="7.6" stroke-linecap="round"/>
<path d="M434,253C433,262 442,264 452,259" fill="none" stroke="#777" stroke-width="0.7"/>
<g transform="translate(461,240) rotate(-57)"><rect x="-22" y="-12" width="44" height="24" rx="12" fill="#e2df1f" stroke="#555" stroke-width="0.6"/><text x="0" y="7.3" text-anchor="middle" font-size="20.8" fill="#1ba777">GFP</text></g>
<text x="407.5" y="215" font-size="20.8">G&#946;</text>
<text x="438.2" y="215" font-size="20.8">G&#947;</text>
<text x="371.5" y="154" font-size="20.8">G&#945;</text>
<text x="47" y="294.8" font-size="20.8">G&#945;: G&#945;<tspan font-size="12.5" dy="7">i1</tspan><tspan dy="-7">, G&#945;</tspan><tspan font-size="12.5" dy="7">oA</tspan><tspan dy="-7">, G&#945;</tspan><tspan font-size="12.5" dy="7">z</tspan><tspan dy="-7"> or G&#945;</tspan><tspan font-size="12.5" dy="7">g</tspan></text>
</g>
<text transform="translate(-0.3,380.3) scale(1.15,1)" font-size="33" font-weight="bold" stroke="#000" stroke-width="1.1">c</text>
<defs><clipPath id="cc"><rect x="6.4" y="403.3" width="468.8" height="468.2"/></clipPath><clipPath id="ce"><rect x="6.4" y="975.2" width="468.8" height="467.8"/></clipPath></defs>
<g clip-path="url(#cc)">
<rect x="6.4" y="403.3" width="468.8" height="468.2" fill="#f7f7f7"/>
<path d="M0,418 C60,408 150,404 235,412" fill="none" stroke="#eeeeee" stroke-width="33" stroke-linecap="round"/><path d="M0,418 C60,408 150,404 235,412" fill="none" stroke="#fefefe" stroke-width="30" stroke-linecap="round"/>
<path d="M380,404 C420,415 460,425 490,460" fill="none" stroke="#eeeeee" stroke-width="43" stroke-linecap="round"/><path d="M380,404 C420,415 460,425 490,460" fill="none" stroke="#fefefe" stroke-width="40" stroke-linecap="round"/>
<path d="M390,470 C430,480 470,500 490,540" fill="none" stroke="#eeeeee" stroke-width="39" stroke-linecap="round"/><path d="M390,470 C430,480 470,500 490,540" fill="none" stroke="#fefefe" stroke-width="36" stroke-linecap="round"/>
<path d="M400,560 C440,570 470,590 490,630" fill="none" stroke="#eeeeee" stroke-width="37" stroke-linecap="round"/><path d="M400,560 C440,570 470,590 490,630" fill="none" stroke="#fefefe" stroke-width="34" stroke-linecap="round"/>
<path d="M0,600 C40,590 80,592 110,600" fill="none" stroke="#eeeeee" stroke-width="33" stroke-linecap="round"/><path d="M0,600 C40,590 80,592 110,600" fill="none" stroke="#fefefe" stroke-width="30" stroke-linecap="round"/>
<path d="M0,770 C40,752 90,745 120,752" fill="none" stroke="#eeeeee" stroke-width="33" stroke-linecap="round"/><path d="M0,770 C40,752 90,745 120,752" fill="none" stroke="#fefefe" stroke-width="30" stroke-linecap="round"/>
<path d="M0,840 C30,825 70,822 100,828" fill="none" stroke="#eeeeee" stroke-width="31" stroke-linecap="round"/><path d="M0,840 C30,825 70,822 100,828" fill="none" stroke="#fefefe" stroke-width="28" stroke-linecap="round"/>
<path d="M380,700 C420,690 460,700 480,730" fill="none" stroke="#eeeeee" stroke-width="39" stroke-linecap="round"/><path d="M380,700 C420,690 460,700 480,730" fill="none" stroke="#fefefe" stroke-width="36" stroke-linecap="round"/>
<path d="M370,790 C410,770 460,780 480,810" fill="none" stroke="#eeeeee" stroke-width="39" stroke-linecap="round"/><path d="M370,790 C410,770 460,780 480,810" fill="none" stroke="#fefefe" stroke-width="36" stroke-linecap="round"/>
<path d="M360,860 C400,840 450,850 480,880" fill="none" stroke="#eeeeee" stroke-width="39" stroke-linecap="round"/><path d="M360,860 C400,840 450,850 480,880" fill="none" stroke="#fefefe" stroke-width="36" stroke-linecap="round"/>
<path d="M240,404 C290,420 335,445 338,480 C340,505 290,515 250,525" fill="none" stroke="#eeeeee" stroke-width="41" stroke-linecap="round"/><path d="M240,404 C290,420 335,445 338,480 C340,505 290,515 250,525" fill="none" stroke="#fefefe" stroke-width="38" stroke-linecap="round"/>
<path d="M215,440 C140,442 70,455 52,490 C40,520 70,535 130,538 L250,548" fill="none" stroke="#eeeeee" stroke-width="41" stroke-linecap="round"/><path d="M215,440 C140,442 70,455 52,490 C40,520 70,535 130,538 L250,548" fill="none" stroke="#fefefe" stroke-width="38" stroke-linecap="round"/>
<path d="M260,560 C230,580 215,610 205,628" fill="none" stroke="#eeeeee" stroke-width="37" stroke-linecap="round"/><path d="M260,560 C230,580 215,610 205,628" fill="none" stroke="#fefefe" stroke-width="34" stroke-linecap="round"/>
<path d="M196,652 C215,645 242,647 258,657 L254,680 C234,671 214,671 199,677 Z" fill="#e9eef6" opacity="0.9"/>
<path d="M22,628 C50,612 80,606 100,612 L98,632 C75,628 50,634 26,647 Z" fill="#e8eef7" opacity="0.9"/>
<path d="M205,628 C120,650 62,680 62,710 C62,742 150,748 230,756 C185,790 110,820 82,852 L74,885" fill="none" stroke="#eeeeee" stroke-width="41" stroke-linecap="round"/><path d="M205,628 C120,650 62,680 62,710 C62,742 150,748 230,756 C185,790 110,820 82,852 L74,885" fill="none" stroke="#fefefe" stroke-width="38" stroke-linecap="round"/>
<path d="M420,700 C400,730 395,760 400,790" fill="none" stroke="#dbe9ee" stroke-width="17" stroke-linecap="round"/><path d="M420,700 C400,730 395,760 400,790" fill="none" stroke="#eef6f8" stroke-width="14" stroke-linecap="round"/>
</g>
<path d="M84.0,617.4L84.0,588.6L121.3,568.1" fill="none" stroke="#be6d18" stroke-width="9.5" stroke-linecap="round" stroke-linejoin="round"/><path d="M84.0,617.4L84.0,588.6L121.3,568.1" fill="none" stroke="#e8861e" stroke-width="7.9" stroke-linecap="round" stroke-linejoin="round"/><path d="M84.0,617.4L84.0,588.6L121.3,568.1" fill="none" stroke="#f0b06c" stroke-width="2.4" stroke-linecap="round" stroke-linejoin="round" transform="translate(-0.8,-0.9)" opacity="0.8"/><path d="M121.3,568.1L124.9,535.7L161.0,517.7L189.8,529.7L186.2,566.9L151.4,579.0L121.3,568.1" fill="none" stroke="#be6d18" stroke-width="9.5" stroke-linecap="round" stroke-linejoin="round"/><path d="M121.3,568.1L124.9,535.7L161.0,517.7L189.8,529.7L186.2,566.9L151.4,579.0L121.3,568.1" fill="none" stroke="#e8861e" stroke-width="7.9" stroke-linecap="round" stroke-linejoin="round"/><path d="M121.3,568.1L124.9,535.7L161.0,517.7L189.8,529.7L186.2,566.9L151.4,579.0L121.3,568.1" fill="none" stroke="#f0b06c" stroke-width="2.4" stroke-linecap="round" stroke-linejoin="round" transform="translate(-0.8,-0.9)" opacity="0.8"/><path d="M189.8,529.7L206.7,523.0" fill="none" stroke="#be6d18" stroke-width="9.5" stroke-linecap="round" stroke-linejoin="round"/><path d="M189.8,529.7L206.7,523.0" fill="none" stroke="#e8861e" stroke-width="7.9" stroke-linecap="round" stroke-linejoin="round"/><path d="M189.8,529.7L206.7,523.0" fill="none" stroke="#f0b06c" stroke-width="2.4" stroke-linecap="round" stroke-linejoin="round" transform="translate(-0.8,-0.9)" opacity="0.8"/><path d="M206.7,523.0L223.5,516.4" fill="none" stroke="#b92f32" stroke-width="9.5" stroke-linecap="round" stroke-linejoin="round"/><path d="M206.7,523.0L223.5,516.4" fill="none" stroke="#e23a3e" stroke-width="7.9" stroke-linecap="round" stroke-linejoin="round"/><path d="M206.7,523.0L223.5,516.4" fill="none" stroke="#ec7e81" stroke-width="2.4" stroke-linecap="round" stroke-linejoin="round" transform="translate(-0.8,-0.9)" opacity="0.8"/>
<path d="M91.3,619.8L91.3,591.0L132.1,574.2" fill="none" stroke="#9597b1" stroke-width="9.5" stroke-linecap="round" stroke-linejoin="round"/><path d="M91.3,619.8L91.3,591.0L132.1,574.2" fill="none" stroke="#b6b9d8" stroke-width="7.9" stroke-linecap="round" stroke-linejoin="round"/><path d="M91.3,619.8L91.3,591.0L132.1,574.2" fill="none" stroke="#cfd1e5" stroke-width="2.4" stroke-linecap="round" stroke-linejoin="round" transform="translate(-0.8,-0.9)" opacity="0.8"/><path d="M132.1,574.2L139.3,541.7L175.4,530.9L201.9,547.7L197.0,586.2L161.0,593.4L132.1,574.2" fill="none" stroke="#9597b1" stroke-width="9.5" stroke-linecap="round" stroke-linejoin="round"/><path d="M132.1,574.2L139.3,541.7L175.4,530.9L201.9,547.7L197.0,586.2L161.0,593.4L132.1,574.2" fill="none" stroke="#b6b9d8" stroke-width="7.9" stroke-linecap="round" stroke-linejoin="round"/><path d="M132.1,574.2L139.3,541.7L175.4,530.9L201.9,547.7L197.0,586.2L161.0,593.4L132.1,574.2" fill="none" stroke="#cfd1e5" stroke-width="2.4" stroke-linecap="round" stroke-linejoin="round" transform="translate(-0.8,-0.9)" opacity="0.8"/><path d="M201.9,547.7L218.4,543.9" fill="none" stroke="#9597b1" stroke-width="9.5" stroke-linecap="round" stroke-linejoin="round"/><path d="M201.9,547.7L218.4,543.9" fill="none" stroke="#b6b9d8" stroke-width="7.9" stroke-linecap="round" stroke-linejoin="round"/><path d="M201.9,547.7L218.4,543.9" fill="none" stroke="#cfd1e5" stroke-width="2.4" stroke-linecap="round" stroke-linejoin="round" transform="translate(-0.8,-0.9)" opacity="0.8"/><path d="M218.4,543.9L235.0,540.0" fill="none" stroke="#b92f32" stroke-width="9.5" stroke-linecap="round" stroke-linejoin="round"/><path d="M218.4,543.9L235.0,540.0" fill="none" stroke="#e23a3e" stroke-width="7.9" stroke-linecap="round" stroke-linejoin="round"/><path d="M218.4,543.9L235.0,540.0" fill="none" stroke="#ec7e81" stroke-width="2.4" stroke-linecap="round" stroke-linejoin="round" transform="translate(-0.8,-0.9)" opacity="0.8"/>
<path d="M94.0,619.8L96.0,591.0L137.0,575.0" fill="none" stroke="#329fa4" stroke-width="9.5" stroke-linecap="round" stroke-linejoin="round"/><path d="M94.0,619.8L96.0,591.0L137.0,575.0" fill="none" stroke="#3ec3c8" stroke-width="7.9" stroke-linecap="round" stroke-linejoin="round"/><path d="M94.0,619.8L96.0,591.0L137.0,575.0" fill="none" stroke="#81d8db" stroke-width="2.4" stroke-linecap="round" stroke-linejoin="round" transform="translate(-0.8,-0.9)" opacity="0.8"/><path d="M141.7,581.4L146.6,545.3L180.2,534.5L204.3,553.7L197.0,593.4L156.2,600.6L141.7,581.4" fill="none" stroke="#329fa4" stroke-width="9.5" stroke-linecap="round" stroke-linejoin="round"/><path d="M141.7,581.4L146.6,545.3L180.2,534.5L204.3,553.7L197.0,593.4L156.2,600.6L141.7,581.4" fill="none" stroke="#3ec3c8" stroke-width="7.9" stroke-linecap="round" stroke-linejoin="round"/><path d="M141.7,581.4L146.6,545.3L180.2,534.5L204.3,553.7L197.0,593.4L156.2,600.6L141.7,581.4" fill="none" stroke="#81d8db" stroke-width="2.4" stroke-linecap="round" stroke-linejoin="round" transform="translate(-0.8,-0.9)" opacity="0.8"/><path d="M204.3,553.7L220.2,549.4" fill="none" stroke="#329fa4" stroke-width="9.5" stroke-linecap="round" stroke-linejoin="round"/><path d="M204.3,553.7L220.2,549.4" fill="none" stroke="#3ec3c8" stroke-width="7.9" stroke-linecap="round" stroke-linejoin="round"/><path d="M204.3,553.7L220.2,549.4" fill="none" stroke="#81d8db" stroke-width="2.4" stroke-linecap="round" stroke-linejoin="round" transform="translate(-0.8,-0.9)" opacity="0.8"/><path d="M220.2,549.4L236.0,545.0" fill="none" stroke="#b92f32" stroke-width="9.5" stroke-linecap="round" stroke-linejoin="round"/><path d="M220.2,549.4L236.0,545.0" fill="none" stroke="#e23a3e" stroke-width="7.9" stroke-linecap="round" stroke-linejoin="round"/><path d="M220.2,549.4L236.0,545.0" fill="none" stroke="#ec7e81" stroke-width="2.4" stroke-linecap="round" stroke-linejoin="round" transform="translate(-0.8,-0.9)" opacity="0.8"/>
<path d="M96.0,619.8L99.7,588.6L139.3,575.4" fill="none" stroke="#265994" stroke-width="9.5" stroke-linecap="round" stroke-linejoin="round"/><path d="M96.0,619.8L99.7,588.6L139.3,575.4" fill="none" stroke="#2f6db5" stroke-width="7.9" stroke-linecap="round" stroke-linejoin="round"/><path d="M96.0,619.8L99.7,588.6L139.3,575.4" fill="none" stroke="#77a0ce" stroke-width="2.4" stroke-linecap="round" stroke-linejoin="round" transform="translate(-0.8,-0.9)" opacity="0.8"/><path d="M139.3,575.4L147.8,541.7L183.8,528.5L211.5,550.1L204.3,580.2L168.2,591.0L139.3,575.4" fill="none" stroke="#265994" stroke-width="9.5" stroke-linecap="round" stroke-linejoin="round"/><path d="M139.3,575.4L147.8,541.7L183.8,528.5L211.5,550.1L204.3,580.2L168.2,591.0L139.3,575.4" fill="none" stroke="#2f6db5" stroke-width="7.9" stroke-linecap="round" stroke-linejoin="round"/><path d="M139.3,575.4L147.8,541.7L183.8,528.5L211.5,550.1L204.3,580.2L168.2,591.0L139.3,575.4" fill="none" stroke="#77a0ce" stroke-width="2.4" stroke-linecap="round" stroke-linejoin="round" transform="translate(-0.8,-0.9)" opacity="0.8"/><path d="M211.5,550.1L229.5,542.3" fill="none" stroke="#265994" stroke-width="9.5" stroke-linecap="round" stroke-linejoin="round"/><path d="M211.5,550.1L229.5,542.3" fill="none" stroke="#2f6db5" stroke-width="7.9" stroke-linecap="round" stroke-linejoin="round"/><path d="M211.5,550.1L229.5,542.3" fill="none" stroke="#77a0ce" stroke-width="2.4" stroke-linecap="round" stroke-linejoin="round" transform="translate(-0.8,-0.9)" opacity="0.8"/><path d="M229.5,542.3L247.5,534.5" fill="none" stroke="#b92f32" stroke-width="9.5" stroke-linecap="round" stroke-linejoin="round"/><path d="M229.5,542.3L247.5,534.5" fill="none" stroke="#e23a3e" stroke-width="7.9" stroke-linecap="round" stroke-linejoin="round"/><path d="M229.5,542.3L247.5,534.5" fill="none" stroke="#ec7e81" stroke-width="2.4" stroke-linecap="round" stroke-linejoin="round" transform="translate(-0.8,-0.9)" opacity="0.8"/>
<path d="M236,527L291,557M244,535L284,560M248,541L285,566" stroke="#111" stroke-width="2.2" stroke-dasharray="4 3" fill="none"/>
<path d="M266.2,655.9L266.2,636.7L297.4,624.6L299.8,612.6L333.5,603.0L333.5,586.2L319.1,576.6L289.0,561.0" fill="none" stroke="#9597b1" stroke-width="9.5" stroke-linecap="round" stroke-linejoin="round"/><path d="M266.2,655.9L266.2,636.7L297.4,624.6L299.8,612.6L333.5,603.0L333.5,586.2L319.1,576.6L289.0,561.0" fill="none" stroke="#b6b9d8" stroke-width="7.9" stroke-linecap="round" stroke-linejoin="round"/><path d="M266.2,655.9L266.2,636.7L297.4,624.6L299.8,612.6L333.5,603.0L333.5,586.2L319.1,576.6L289.0,561.0" fill="none" stroke="#cfd1e5" stroke-width="2.4" stroke-linecap="round" stroke-linejoin="round" transform="translate(-0.8,-0.9)" opacity="0.8"/>
<path d="M268.2,657.9L268.2,638.7L299.4,626.6L301.8,614.6L335.5,605.0L335.5,588.2L321.1,578.6L291.0,563.0" fill="none" stroke="#be6d18" stroke-width="9.5" stroke-linecap="round" stroke-linejoin="round"/><path d="M268.2,657.9L268.2,638.7L299.4,626.6L301.8,614.6L335.5,605.0L335.5,588.2L321.1,578.6L291.0,563.0" fill="none" stroke="#e8861e" stroke-width="7.9" stroke-linecap="round" stroke-linejoin="round"/><path d="M268.2,657.9L268.2,638.7L299.4,626.6L301.8,614.6L335.5,605.0L335.5,588.2L321.1,578.6L291.0,563.0" fill="none" stroke="#f0b06c" stroke-width="2.4" stroke-linecap="round" stroke-linejoin="round" transform="translate(-0.8,-0.9)" opacity="0.8"/>
<path d="M265.2,653.9L265.2,634.7L296.4,622.6L298.8,610.6L332.5,601.0L332.5,584.2L318.1,574.6L288.0,559.0" fill="none" stroke="#329fa4" stroke-width="9.5" stroke-linecap="round" stroke-linejoin="round"/><path d="M265.2,653.9L265.2,634.7L296.4,622.6L298.8,610.6L332.5,601.0L332.5,584.2L318.1,574.6L288.0,559.0" fill="none" stroke="#3ec3c8" stroke-width="7.9" stroke-linecap="round" stroke-linejoin="round"/><path d="M265.2,653.9L265.2,634.7L296.4,622.6L298.8,610.6L332.5,601.0L332.5,584.2L318.1,574.6L288.0,559.0" fill="none" stroke="#81d8db" stroke-width="2.4" stroke-linecap="round" stroke-linejoin="round" transform="translate(-0.8,-0.9)" opacity="0.8"/>
<path d="M271.2,658.9L271.2,639.7L302.4,627.6L304.8,615.6L338.5,606.0L338.5,589.2L324.1,579.6L294.0,564.0" fill="none" stroke="#265994" stroke-width="9.5" stroke-linecap="round" stroke-linejoin="round"/><path d="M271.2,658.9L271.2,639.7L302.4,627.6L304.8,615.6L338.5,606.0L338.5,589.2L324.1,579.6L294.0,564.0" fill="none" stroke="#2f6db5" stroke-width="7.9" stroke-linecap="round" stroke-linejoin="round"/><path d="M271.2,658.9L271.2,639.7L302.4,627.6L304.8,615.6L338.5,606.0L338.5,589.2L324.1,579.6L294.0,564.0" fill="none" stroke="#77a0ce" stroke-width="2.4" stroke-linecap="round" stroke-linejoin="round" transform="translate(-0.8,-0.9)" opacity="0.8"/>
<path d="M322.0,577.0L352.0,569.0" fill="none" stroke="#252877" stroke-width="9.5" stroke-linecap="round" stroke-linejoin="round"/><path d="M322.0,577.0L352.0,569.0" fill="none" stroke="#2e3192" stroke-width="7.9" stroke-linecap="round" stroke-linejoin="round"/><path d="M322.0,577.0L352.0,569.0" fill="none" stroke="#7779b8" stroke-width="2.4" stroke-linecap="round" stroke-linejoin="round" transform="translate(-0.8,-0.9)" opacity="0.8"/>
<path d="M322.0,577.0L370.0,578.0" fill="none" stroke="#252877" stroke-width="9.5" stroke-linecap="round" stroke-linejoin="round"/><path d="M322.0,577.0L370.0,578.0" fill="none" stroke="#2e3192" stroke-width="7.9" stroke-linecap="round" stroke-linejoin="round"/><path d="M322.0,577.0L370.0,578.0" fill="none" stroke="#7779b8" stroke-width="2.4" stroke-linecap="round" stroke-linejoin="round" transform="translate(-0.8,-0.9)" opacity="0.8"/>
<path d="M322.0,577.0L292.0,560.0" fill="none" stroke="#252877" stroke-width="9.5" stroke-linecap="round" stroke-linejoin="round"/><path d="M322.0,577.0L292.0,560.0" fill="none" stroke="#2e3192" stroke-width="7.9" stroke-linecap="round" stroke-linejoin="round"/><path d="M322.0,577.0L292.0,560.0" fill="none" stroke="#7779b8" stroke-width="2.4" stroke-linecap="round" stroke-linejoin="round" transform="translate(-0.8,-0.9)" opacity="0.8"/>
<path d="M326.0,574.0L356.0,566.0" fill="none" stroke="#252877" stroke-width="9.5" stroke-linecap="round" stroke-linejoin="round"/><path d="M326.0,574.0L356.0,566.0" fill="none" stroke="#2e3192" stroke-width="7.9" stroke-linecap="round" stroke-linejoin="round"/><path d="M326.0,574.0L356.0,566.0" fill="none" stroke="#7779b8" stroke-width="2.4" stroke-linecap="round" stroke-linejoin="round" transform="translate(-0.8,-0.9)" opacity="0.8"/>
<path d="M326.0,574.0L374.0,575.0" fill="none" stroke="#252877" stroke-width="9.5" stroke-linecap="round" stroke-linejoin="round"/><path d="M326.0,574.0L374.0,575.0" fill="none" stroke="#2e3192" stroke-width="7.9" stroke-linecap="round" stroke-linejoin="round"/><path d="M326.0,574.0L374.0,575.0" fill="none" stroke="#7779b8" stroke-width="2.4" stroke-linecap="round" stroke-linejoin="round" transform="translate(-0.8,-0.9)" opacity="0.8"/>
<path d="M326.0,574.0L296.0,557.0" fill="none" stroke="#252877" stroke-width="9.5" stroke-linecap="round" stroke-linejoin="round"/><path d="M326.0,574.0L296.0,557.0" fill="none" stroke="#2e3192" stroke-width="7.9" stroke-linecap="round" stroke-linejoin="round"/><path d="M326.0,574.0L296.0,557.0" fill="none" stroke="#7779b8" stroke-width="2.4" stroke-linecap="round" stroke-linejoin="round" transform="translate(-0.8,-0.9)" opacity="0.8"/>
<path d="M319.0,580.0L349.0,572.0" fill="none" stroke="#313989" stroke-width="9.5" stroke-linecap="round" stroke-linejoin="round"/><path d="M319.0,580.0L349.0,572.0" fill="none" stroke="#3c46a8" stroke-width="7.9" stroke-linecap="round" stroke-linejoin="round"/><path d="M319.0,580.0L349.0,572.0" fill="none" stroke="#8086c6" stroke-width="2.4" stroke-linecap="round" stroke-linejoin="round" transform="translate(-0.8,-0.9)" opacity="0.8"/>
<path d="M319.0,580.0L367.0,581.0" fill="none" stroke="#313989" stroke-width="9.5" stroke-linecap="round" stroke-linejoin="round"/><path d="M319.0,580.0L367.0,581.0" fill="none" stroke="#3c46a8" stroke-width="7.9" stroke-linecap="round" stroke-linejoin="round"/><path d="M319.0,580.0L367.0,581.0" fill="none" stroke="#8086c6" stroke-width="2.4" stroke-linecap="round" stroke-linejoin="round" transform="translate(-0.8,-0.9)" opacity="0.8"/>
<path d="M319.0,580.0L289.0,563.0" fill="none" stroke="#313989" stroke-width="9.5" stroke-linecap="round" stroke-linejoin="round"/><path d="M319.0,580.0L289.0,563.0" fill="none" stroke="#3c46a8" stroke-width="7.9" stroke-linecap="round" stroke-linejoin="round"/><path d="M319.0,580.0L289.0,563.0" fill="none" stroke="#8086c6" stroke-width="2.4" stroke-linecap="round" stroke-linejoin="round" transform="translate(-0.8,-0.9)" opacity="0.8"/>
<path d="M300.0,625.0L336.0,610.0L336.0,590.0" fill="none" stroke="#252877" stroke-width="9.5" stroke-linecap="round" stroke-linejoin="round"/><path d="M300.0,625.0L336.0,610.0L336.0,590.0" fill="none" stroke="#2e3192" stroke-width="7.9" stroke-linecap="round" stroke-linejoin="round"/><path d="M300.0,625.0L336.0,610.0L336.0,590.0" fill="none" stroke="#7779b8" stroke-width="2.4" stroke-linecap="round" stroke-linejoin="round" transform="translate(-0.8,-0.9)" opacity="0.8"/>
<path d="M278.3,713.7L317.4,718.8" fill="none" stroke="#be6d18" stroke-width="9.5" stroke-linecap="round" stroke-linejoin="round"/><path d="M278.3,713.7L317.4,718.8" fill="none" stroke="#e8861e" stroke-width="7.9" stroke-linecap="round" stroke-linejoin="round"/><path d="M278.3,713.7L317.4,718.8" fill="none" stroke="#f0b06c" stroke-width="2.4" stroke-linecap="round" stroke-linejoin="round" transform="translate(-0.8,-0.9)" opacity="0.8"/>
<path d="M281.7,701.8L346.2,691.6L385.3,710.3" fill="none" stroke="#9597b1" stroke-width="9.5" stroke-linecap="round" stroke-linejoin="round"/><path d="M281.7,701.8L346.2,691.6L385.3,710.3" fill="none" stroke="#b6b9d8" stroke-width="7.9" stroke-linecap="round" stroke-linejoin="round"/><path d="M281.7,701.8L346.2,691.6L385.3,710.3" fill="none" stroke="#cfd1e5" stroke-width="2.4" stroke-linecap="round" stroke-linejoin="round" transform="translate(-0.8,-0.9)" opacity="0.8"/>
<path d="M283.4,698.4L325.9,712.0L387.0,735.8" fill="none" stroke="#329fa4" stroke-width="9.5" stroke-linecap="round" stroke-linejoin="round"/><path d="M283.4,698.4L325.9,712.0L387.0,735.8" fill="none" stroke="#3ec3c8" stroke-width="7.9" stroke-linecap="round" stroke-linejoin="round"/><path d="M283.4,698.4L325.9,712.0L387.0,735.8" fill="none" stroke="#81d8db" stroke-width="2.4" stroke-linecap="round" stroke-linejoin="round" transform="translate(-0.8,-0.9)" opacity="0.8"/>
<path d="M325.9,712.0L350.0,708.0" fill="none" stroke="#329fa4" stroke-width="9.5" stroke-linecap="round" stroke-linejoin="round"/><path d="M325.9,712.0L350.0,708.0" fill="none" stroke="#3ec3c8" stroke-width="7.9" stroke-linecap="round" stroke-linejoin="round"/><path d="M325.9,712.0L350.0,708.0" fill="none" stroke="#81d8db" stroke-width="2.4" stroke-linecap="round" stroke-linejoin="round" transform="translate(-0.8,-0.9)" opacity="0.8"/>
<path d="M312.3,696.7L317.4,718.8L329.3,756.1L370.0,766.3" fill="none" stroke="#be6d18" stroke-width="9.5" stroke-linecap="round" stroke-linejoin="round"/><path d="M312.3,696.7L317.4,718.8L329.3,756.1L370.0,766.3" fill="none" stroke="#e8861e" stroke-width="7.9" stroke-linecap="round" stroke-linejoin="round"/><path d="M312.3,696.7L317.4,718.8L329.3,756.1L370.0,766.3" fill="none" stroke="#f0b06c" stroke-width="2.4" stroke-linecap="round" stroke-linejoin="round" transform="translate(-0.8,-0.9)" opacity="0.8"/>
<path d="M319.1,715.4L342.8,718.8" fill="none" stroke="#265994" stroke-width="9.5" stroke-linecap="round" stroke-linejoin="round"/><path d="M319.1,715.4L342.8,718.8" fill="none" stroke="#2f6db5" stroke-width="7.9" stroke-linecap="round" stroke-linejoin="round"/><path d="M319.1,715.4L342.8,718.8" fill="none" stroke="#77a0ce" stroke-width="2.4" stroke-linecap="round" stroke-linejoin="round" transform="translate(-0.8,-0.9)" opacity="0.8"/>
<path d="M336.1,686.6L342.8,718.8L349.6,754.4L390.4,762.9" fill="none" stroke="#265994" stroke-width="9.5" stroke-linecap="round" stroke-linejoin="round"/><path d="M336.1,686.6L342.8,718.8L349.6,754.4L390.4,762.9" fill="none" stroke="#2f6db5" stroke-width="7.9" stroke-linecap="round" stroke-linejoin="round"/><path d="M336.1,686.6L342.8,718.8L349.6,754.4L390.4,762.9" fill="none" stroke="#77a0ce" stroke-width="2.4" stroke-linecap="round" stroke-linejoin="round" transform="translate(-0.8,-0.9)" opacity="0.8"/>
<path d="M353,657.7L337.7,673M254.6,691L275.6,693.3M402.2,691.6L383.6,699.5M317.4,749.4L300.4,761.2" stroke="#000" stroke-width="1.3"/>
<text x="18.6" y="435.3" font-size="20.8">KOR&#8211;<tspan fill="#2aa9e0">G<tspan font-size="14" dy="6">i1</tspan></tspan><tspan dy="-6" fill="#1f6cb5"> G<tspan font-size="14" dy="6">oA</tspan></tspan><tspan dy="-6" fill="#f18a21"> G<tspan font-size="14" dy="6">z</tspan></tspan><tspan dy="-6" fill="#a7a9ac"> G<tspan font-size="14" dy="6">g</tspan></tspan></text>
<text x="264" y="458.5" font-size="20.8">TM3</text>
<text x="417" y="511.8" font-size="20.8">TM2</text>
<text x="316.9" y="554.1" font-size="20.8" fill="#000">R156<tspan font-size="14.5" dy="-8">3.50</tspan></text>
<text x="110.6" y="625.8" font-size="20.8" fill="#000">Y246<tspan font-size="14.5" dy="-8">5.58</tspan></text>
<text x="15" y="642.4" font-size="20.8">TM5</text>
<text x="338.6" y="649.7" font-size="20.8" fill="#2a74b9">L353<tspan font-size="14.5" dy="-8">H5.25</tspan></text>
<text x="159.1" y="693.9" font-size="20.8" fill="#29aae1">L353<tspan font-size="14.5" dy="-8">H5.25</tspan></text>
<text x="405.9" y="697.6" font-size="20.8" fill="#a7a9ac">L353<tspan font-size="14.5" dy="-8">H5.25</tspan></text>
<text x="147.5" y="789.5" font-size="20.8">TM6</text>
<text x="245.5" y="785.8" font-size="20.8" fill="#f18a21">L354<tspan font-size="14.5" dy="-8">H5.25</tspan></text>
<text x="361" y="795.8" font-size="20.8">&#945;5 helix</text>
<text transform="translate(-0.2,959) scale(1.15,1)" font-size="33" font-weight="bold" stroke="#000" stroke-width="1.1">e</text>
<g clip-path="url(#ce)">
<rect x="6.4" y="975.2" width="468.8" height="467.8" fill="#f7f7f7"/>
<path d="M-10,1000 C40,960 110,980 120,1040" fill="none" stroke="#eeeeee" stroke-width="53" stroke-linecap="round"/><path d="M-10,1000 C40,960 110,980 120,1040" fill="none" stroke="#fefefe" stroke-width="50" stroke-linecap="round"/>
<path d="M90,990 C120,960 200,970 210,1040" fill="none" stroke="#eeeeee" stroke-width="48" stroke-linecap="round"/><path d="M90,990 C120,960 200,970 210,1040" fill="none" stroke="#fefefe" stroke-width="45" stroke-linecap="round"/>
<path d="M0,1100 C30,1060 100,1060 130,1110" fill="none" stroke="#eeeeee" stroke-width="48" stroke-linecap="round"/><path d="M0,1100 C30,1060 100,1060 130,1110" fill="none" stroke="#fefefe" stroke-width="45" stroke-linecap="round"/>
<path d="M20,1170 C40,1120 120,1110 150,1160" fill="none" stroke="#e4e4e4" stroke-width="43" stroke-linecap="round"/><path d="M20,1170 C40,1120 120,1110 150,1160" fill="none" stroke="#fafafa" stroke-width="40" stroke-linecap="round"/>
<path d="M10,1250 C40,1200 120,1190 160,1250" fill="none" stroke="#eeeeee" stroke-width="53" stroke-linecap="round"/><path d="M10,1250 C40,1200 120,1190 160,1250" fill="none" stroke="#fefefe" stroke-width="50" stroke-linecap="round"/>
<path d="M-10,1340 C30,1290 120,1290 150,1350" fill="none" stroke="#eeeeee" stroke-width="58" stroke-linecap="round"/><path d="M-10,1340 C30,1290 120,1290 150,1350" fill="none" stroke="#fefefe" stroke-width="55" stroke-linecap="round"/>
<path d="M20,1440 C50,1380 160,1380 190,1450" fill="none" stroke="#eeeeee" stroke-width="58" stroke-linecap="round"/><path d="M20,1440 C50,1380 160,1380 190,1450" fill="none" stroke="#fefefe" stroke-width="55" stroke-linecap="round"/>
<path d="M300,1010 C350,970 430,990 450,1060" fill="none" stroke="#eeeeee" stroke-width="53" stroke-linecap="round"/><path d="M300,1010 C350,970 430,990 450,1060" fill="none" stroke="#fefefe" stroke-width="50" stroke-linecap="round"/>
<path d="M330,1090 C380,1040 460,1060 480,1120" fill="none" stroke="#eeeeee" stroke-width="53" stroke-linecap="round"/><path d="M330,1090 C380,1040 460,1060 480,1120" fill="none" stroke="#fefefe" stroke-width="50" stroke-linecap="round"/>
<path d="M360,1170 C400,1120 470,1140 490,1200" fill="none" stroke="#eeeeee" stroke-width="48" stroke-linecap="round"/><path d="M360,1170 C400,1120 470,1140 490,1200" fill="none" stroke="#fefefe" stroke-width="45" stroke-linecap="round"/>
<path d="M370,1250 C410,1200 480,1220 500,1290" fill="none" stroke="#eeeeee" stroke-width="48" stroke-linecap="round"/><path d="M370,1250 C410,1200 480,1220 500,1290" fill="none" stroke="#fefefe" stroke-width="45" stroke-linecap="round"/>
<path d="M380,1340 C420,1290 480,1310 500,1370" fill="none" stroke="#eeeeee" stroke-width="48" stroke-linecap="round"/><path d="M380,1340 C420,1290 480,1310 500,1370" fill="none" stroke="#fefefe" stroke-width="45" stroke-linecap="round"/>
<path d="M210,1420 C260,1370 330,1380 350,1450" fill="none" stroke="#eeeeee" stroke-width="53" stroke-linecap="round"/><path d="M210,1420 C260,1370 330,1380 350,1450" fill="none" stroke="#fefefe" stroke-width="50" stroke-linecap="round"/>
<path d="M330,1410 C360,1380 420,1390 440,1450" fill="none" stroke="#eeeeee" stroke-width="48" stroke-linecap="round"/><path d="M330,1410 C360,1380 420,1390 440,1450" fill="none" stroke="#fefefe" stroke-width="45" stroke-linecap="round"/>
<path d="M10,1183 L36,1112 C40,1104 46,1102 52,1101" fill="none" stroke="#d9d9d9" stroke-width="10" stroke-linecap="round"/>
<path d="M10,1183 L36,1112 C40,1104 46,1102 52,1101" fill="none" stroke="#fbfbfb" stroke-width="7" stroke-linecap="round"/>
<path d="M41,1103 C80,1092 140,1088 180,1100 C192,1130 196,1170 205,1215 L192,1222 C182,1180 176,1140 168,1122 C130,1115 88,1120 58,1139 Z" fill="#fbfbfb" stroke="#d6d6d6" stroke-width="1.2"/>
<path d="M172,1125 C180,1150 186,1185 194,1220" fill="none" stroke="#cfcfcf" stroke-width="6" opacity="0.7"/>
<path d="M118,1232 L262,1222 L262,1276 L118,1282 Z" fill="#dff3f3" opacity="0.8"/>
<path d="M188,1069 C230,1074 292,1064 320,1008" fill="none" stroke="#efa76e" stroke-width="14"/>
<path d="M188,1069 C230,1074 292,1064 320,1008" fill="none" stroke="#f7c89c" stroke-width="6" transform="translate(-1,-3)"/>
</g>
<path d="M253.5,1039.5L264.9,1053.6L256.4,1077.7L249.3,1110.2" fill="none" stroke="#9597b1" stroke-width="9.5" stroke-linecap="round" stroke-linejoin="round"/><path d="M253.5,1039.5L264.9,1053.6L256.4,1077.7L249.3,1110.2" fill="none" stroke="#b6b9d8" stroke-width="7.9" stroke-linecap="round" stroke-linejoin="round"/><path d="M253.5,1039.5L264.9,1053.6L256.4,1077.7L249.3,1110.2" fill="none" stroke="#cfd1e5" stroke-width="2.4" stroke-linecap="round" stroke-linejoin="round" transform="translate(-0.8,-0.9)" opacity="0.8"/>
<path d="M249.3,1110.2L247.2,1120.1" fill="none" stroke="#9597b1" stroke-width="5.8" stroke-linecap="round" stroke-linejoin="round"/><path d="M249.3,1110.2L247.2,1120.1" fill="none" stroke="#b6b9d8" stroke-width="4.199999999999999" stroke-linecap="round" stroke-linejoin="round"/><path d="M249.3,1110.2L247.2,1120.1" fill="none" stroke="#cfd1e5" stroke-width="1.4" stroke-linecap="round" stroke-linejoin="round" transform="translate(-0.8,-0.9)" opacity="0.8"/><path d="M247.2,1120.1L245.1,1130.0" fill="none" stroke="#b92f32" stroke-width="5.8" stroke-linecap="round" stroke-linejoin="round"/><path d="M247.2,1120.1L245.1,1130.0" fill="none" stroke="#e23a3e" stroke-width="4.199999999999999" stroke-linecap="round" stroke-linejoin="round"/><path d="M247.2,1120.1L245.1,1130.0" fill="none" stroke="#ec7e81" stroke-width="1.4" stroke-linecap="round" stroke-linejoin="round" transform="translate(-0.8,-0.9)" opacity="0.8"/>
<path d="M260.6,1024.0L277.6,1042.3L288.9,1052.2L281.8,1101.7" fill="none" stroke="#329fa4" stroke-width="10.9" stroke-linecap="round" stroke-linejoin="round"/><path d="M260.6,1024.0L277.6,1042.3L288.9,1052.2L281.8,1101.7" fill="none" stroke="#3ec3c8" stroke-width="9.3" stroke-linecap="round" stroke-linejoin="round"/><path d="M260.6,1024.0L277.6,1042.3L288.9,1052.2L281.8,1101.7" fill="none" stroke="#81d8db" stroke-width="2.7" stroke-linecap="round" stroke-linejoin="round" transform="translate(-0.8,-0.9)" opacity="0.8"/>
<path d="M281.8,1101.7L283.2,1108.8" fill="none" stroke="#329fa4" stroke-width="5.8" stroke-linecap="round" stroke-linejoin="round"/><path d="M281.8,1101.7L283.2,1108.8" fill="none" stroke="#3ec3c8" stroke-width="4.199999999999999" stroke-linecap="round" stroke-linejoin="round"/><path d="M281.8,1101.7L283.2,1108.8" fill="none" stroke="#81d8db" stroke-width="1.4" stroke-linecap="round" stroke-linejoin="round" transform="translate(-0.8,-0.9)" opacity="0.8"/><path d="M283.2,1108.8L284.7,1116.0" fill="none" stroke="#b92f32" stroke-width="5.8" stroke-linecap="round" stroke-linejoin="round"/><path d="M283.2,1108.8L284.7,1116.0" fill="none" stroke="#e23a3e" stroke-width="4.199999999999999" stroke-linecap="round" stroke-linejoin="round"/><path d="M283.2,1108.8L284.7,1116.0" fill="none" stroke="#ec7e81" stroke-width="1.4" stroke-linecap="round" stroke-linejoin="round" transform="translate(-0.8,-0.9)" opacity="0.8"/>
<path d="M259.2,1055.0L266.3,1066.4L264.9,1106.0L259.2,1124.4" fill="none" stroke="#b76816" stroke-width="10.9" stroke-linecap="round" stroke-linejoin="round"/><path d="M259.2,1055.0L266.3,1066.4L264.9,1106.0L259.2,1124.4" fill="none" stroke="#e07f1b" stroke-width="9.3" stroke-linecap="round" stroke-linejoin="round"/><path d="M259.2,1055.0L266.3,1066.4L264.9,1106.0L259.2,1124.4" fill="none" stroke="#eaab6a" stroke-width="2.7" stroke-linecap="round" stroke-linejoin="round" transform="translate(-0.8,-0.9)" opacity="0.8"/>
<path d="M259.2,1124.4L247.9,1131.5" fill="none" stroke="#b76816" stroke-width="5.2" stroke-linecap="round" stroke-linejoin="round"/><path d="M259.2,1124.4L247.9,1131.5" fill="none" stroke="#e07f1b" stroke-width="3.6" stroke-linecap="round" stroke-linejoin="round"/><path d="M259.2,1124.4L247.9,1131.5" fill="none" stroke="#eaab6a" stroke-width="1.3" stroke-linecap="round" stroke-linejoin="round" transform="translate(-0.8,-0.9)" opacity="0.8"/><path d="M247.9,1131.5L236.6,1138.5" fill="none" stroke="#b92f32" stroke-width="5.2" stroke-linecap="round" stroke-linejoin="round"/><path d="M247.9,1131.5L236.6,1138.5" fill="none" stroke="#e23a3e" stroke-width="3.6" stroke-linecap="round" stroke-linejoin="round"/><path d="M247.9,1131.5L236.6,1138.5" fill="none" stroke="#ec7e81" stroke-width="1.3" stroke-linecap="round" stroke-linejoin="round" transform="translate(-0.8,-0.9)" opacity="0.8"/>
<path d="M259.2,1128.4L247.9,1135.5" fill="none" stroke="#b76816" stroke-width="5.2" stroke-linecap="round" stroke-linejoin="round"/><path d="M259.2,1128.4L247.9,1135.5" fill="none" stroke="#e07f1b" stroke-width="3.6" stroke-linecap="round" stroke-linejoin="round"/><path d="M259.2,1128.4L247.9,1135.5" fill="none" stroke="#eaab6a" stroke-width="1.3" stroke-linecap="round" stroke-linejoin="round" transform="translate(-0.8,-0.9)" opacity="0.8"/><path d="M247.9,1135.5L236.6,1142.5" fill="none" stroke="#b92f32" stroke-width="5.2" stroke-linecap="round" stroke-linejoin="round"/><path d="M247.9,1135.5L236.6,1142.5" fill="none" stroke="#e23a3e" stroke-width="3.6" stroke-linecap="round" stroke-linejoin="round"/><path d="M247.9,1135.5L236.6,1142.5" fill="none" stroke="#ec7e81" stroke-width="1.3" stroke-linecap="round" stroke-linejoin="round" transform="translate(-0.8,-0.9)" opacity="0.8"/>
<path d="M259.2,1124.4L269.1,1136.4" fill="none" stroke="#b76816" stroke-width="10.9" stroke-linecap="round" stroke-linejoin="round"/><path d="M259.2,1124.4L269.1,1136.4" fill="none" stroke="#e07f1b" stroke-width="9.3" stroke-linecap="round" stroke-linejoin="round"/><path d="M259.2,1124.4L269.1,1136.4" fill="none" stroke="#eaab6a" stroke-width="2.7" stroke-linecap="round" stroke-linejoin="round" transform="translate(-0.8,-0.9)" opacity="0.8"/><path d="M269.1,1136.4L279.0,1148.4" fill="none" stroke="#23317f" stroke-width="10.9" stroke-linecap="round" stroke-linejoin="round"/><path d="M269.1,1136.4L279.0,1148.4" fill="none" stroke="#2b3c9c" stroke-width="9.3" stroke-linecap="round" stroke-linejoin="round"/><path d="M269.1,1136.4L279.0,1148.4" fill="none" stroke="#7580be" stroke-width="2.7" stroke-linecap="round" stroke-linejoin="round" transform="translate(-0.8,-0.9)" opacity="0.8"/>
<path d="M263.5,1011.2L281.8,1040.9L264.9,1084.8" fill="none" stroke="#265994" stroke-width="12.1" stroke-linecap="round" stroke-linejoin="round"/><path d="M263.5,1011.2L281.8,1040.9L264.9,1084.8" fill="none" stroke="#2f6db5" stroke-width="10.5" stroke-linecap="round" stroke-linejoin="round"/><path d="M263.5,1011.2L281.8,1040.9L264.9,1084.8" fill="none" stroke="#77a0ce" stroke-width="3.0" stroke-linecap="round" stroke-linejoin="round" transform="translate(-0.8,-0.9)" opacity="0.8"/>
<path d="M264.9,1084.8L270.5,1098.9" fill="none" stroke="#265994" stroke-width="12.1" stroke-linecap="round" stroke-linejoin="round"/><path d="M264.9,1084.8L270.5,1098.9" fill="none" stroke="#2f6db5" stroke-width="10.5" stroke-linecap="round" stroke-linejoin="round"/><path d="M264.9,1084.8L270.5,1098.9" fill="none" stroke="#77a0ce" stroke-width="3.0" stroke-linecap="round" stroke-linejoin="round" transform="translate(-0.8,-0.9)" opacity="0.8"/><path d="M270.5,1098.9L276.2,1113.0" fill="none" stroke="#23317f" stroke-width="12.1" stroke-linecap="round" stroke-linejoin="round"/><path d="M270.5,1098.9L276.2,1113.0" fill="none" stroke="#2b3c9c" stroke-width="10.5" stroke-linecap="round" stroke-linejoin="round"/><path d="M270.5,1098.9L276.2,1113.0" fill="none" stroke="#7580be" stroke-width="3.0" stroke-linecap="round" stroke-linejoin="round" transform="translate(-0.8,-0.9)" opacity="0.8"/>
<path d="M264.9,1084.8L252.1,1089.0" fill="none" stroke="#265994" stroke-width="5.2" stroke-linecap="round" stroke-linejoin="round"/><path d="M264.9,1084.8L252.1,1089.0" fill="none" stroke="#2f6db5" stroke-width="3.6" stroke-linecap="round" stroke-linejoin="round"/><path d="M264.9,1084.8L252.1,1089.0" fill="none" stroke="#77a0ce" stroke-width="1.3" stroke-linecap="round" stroke-linejoin="round" transform="translate(-0.8,-0.9)" opacity="0.8"/><path d="M252.1,1089.0L239.4,1093.3" fill="none" stroke="#b92f32" stroke-width="5.2" stroke-linecap="round" stroke-linejoin="round"/><path d="M252.1,1089.0L239.4,1093.3" fill="none" stroke="#e23a3e" stroke-width="3.6" stroke-linecap="round" stroke-linejoin="round"/><path d="M252.1,1089.0L239.4,1093.3" fill="none" stroke="#ec7e81" stroke-width="1.3" stroke-linecap="round" stroke-linejoin="round" transform="translate(-0.8,-0.9)" opacity="0.8"/>
<path d="M262.9,1089.8L250.1,1094.0" fill="none" stroke="#265994" stroke-width="5.2" stroke-linecap="round" stroke-linejoin="round"/><path d="M262.9,1089.8L250.1,1094.0" fill="none" stroke="#2f6db5" stroke-width="3.6" stroke-linecap="round" stroke-linejoin="round"/><path d="M262.9,1089.8L250.1,1094.0" fill="none" stroke="#77a0ce" stroke-width="1.3" stroke-linecap="round" stroke-linejoin="round" transform="translate(-0.8,-0.9)" opacity="0.8"/><path d="M250.1,1094.0L237.4,1098.3" fill="none" stroke="#b92f32" stroke-width="5.2" stroke-linecap="round" stroke-linejoin="round"/><path d="M250.1,1094.0L237.4,1098.3" fill="none" stroke="#e23a3e" stroke-width="3.6" stroke-linecap="round" stroke-linejoin="round"/><path d="M250.1,1094.0L237.4,1098.3" fill="none" stroke="#ec7e81" stroke-width="1.3" stroke-linecap="round" stroke-linejoin="round" transform="translate(-0.8,-0.9)" opacity="0.8"/>
<path d="M149.0,1278.8L178.7,1291.2L166.3,1325.8L181.2,1375.3L161.4,1390.2" fill="none" stroke="#9597b1" stroke-width="11.5" stroke-linecap="round" stroke-linejoin="round"/><path d="M149.0,1278.8L178.7,1291.2L166.3,1325.8L181.2,1375.3L161.4,1390.2" fill="none" stroke="#b6b9d8" stroke-width="9.9" stroke-linecap="round" stroke-linejoin="round"/><path d="M149.0,1278.8L178.7,1291.2L166.3,1325.8L181.2,1375.3L161.4,1390.2" fill="none" stroke="#cfd1e5" stroke-width="2.9" stroke-linecap="round" stroke-linejoin="round" transform="translate(-0.8,-0.9)" opacity="0.8"/>
<path d="M243.1,1239.2L285.1,1298.6" fill="none" stroke="#9597b1" stroke-width="11.5" stroke-linecap="round" stroke-linejoin="round"/><path d="M243.1,1239.2L285.1,1298.6" fill="none" stroke="#b6b9d8" stroke-width="9.9" stroke-linecap="round" stroke-linejoin="round"/><path d="M243.1,1239.2L285.1,1298.6" fill="none" stroke="#cfd1e5" stroke-width="2.9" stroke-linecap="round" stroke-linejoin="round" transform="translate(-0.8,-0.9)" opacity="0.8"/>
<path d="M129.2,1303.6L149.0,1333.3L166.3,1377.8" fill="none" stroke="#b76816" stroke-width="11.5" stroke-linecap="round" stroke-linejoin="round"/><path d="M129.2,1303.6L149.0,1333.3L166.3,1377.8" fill="none" stroke="#e07f1b" stroke-width="9.9" stroke-linecap="round" stroke-linejoin="round"/><path d="M129.2,1303.6L149.0,1333.3L166.3,1377.8" fill="none" stroke="#eaab6a" stroke-width="2.9" stroke-linecap="round" stroke-linejoin="round" transform="translate(-0.8,-0.9)" opacity="0.8"/>
<path d="M166.3,1377.8L171.2,1393.9" fill="none" stroke="#b76816" stroke-width="11.5" stroke-linecap="round" stroke-linejoin="round"/><path d="M166.3,1377.8L171.2,1393.9" fill="none" stroke="#e07f1b" stroke-width="9.9" stroke-linecap="round" stroke-linejoin="round"/><path d="M166.3,1377.8L171.2,1393.9" fill="none" stroke="#eaab6a" stroke-width="2.9" stroke-linecap="round" stroke-linejoin="round" transform="translate(-0.8,-0.9)" opacity="0.8"/><path d="M171.2,1393.9L176.2,1410.0" fill="none" stroke="#23317f" stroke-width="11.5" stroke-linecap="round" stroke-linejoin="round"/><path d="M171.2,1393.9L176.2,1410.0" fill="none" stroke="#2b3c9c" stroke-width="9.9" stroke-linecap="round" stroke-linejoin="round"/><path d="M171.2,1393.9L176.2,1410.0" fill="none" stroke="#7580be" stroke-width="2.9" stroke-linecap="round" stroke-linejoin="round" transform="translate(-0.8,-0.9)" opacity="0.8"/>
<path d="M166.3,1377.8L155.2,1387.7" fill="none" stroke="#b76816" stroke-width="11.5" stroke-linecap="round" stroke-linejoin="round"/><path d="M166.3,1377.8L155.2,1387.7" fill="none" stroke="#e07f1b" stroke-width="9.9" stroke-linecap="round" stroke-linejoin="round"/><path d="M166.3,1377.8L155.2,1387.7" fill="none" stroke="#eaab6a" stroke-width="2.9" stroke-linecap="round" stroke-linejoin="round" transform="translate(-0.8,-0.9)" opacity="0.8"/><path d="M155.2,1387.7L144.1,1397.6" fill="none" stroke="#23317f" stroke-width="11.5" stroke-linecap="round" stroke-linejoin="round"/><path d="M155.2,1387.7L144.1,1397.6" fill="none" stroke="#2b3c9c" stroke-width="9.9" stroke-linecap="round" stroke-linejoin="round"/><path d="M155.2,1387.7L144.1,1397.6" fill="none" stroke="#7580be" stroke-width="2.9" stroke-linecap="round" stroke-linejoin="round" transform="translate(-0.8,-0.9)" opacity="0.8"/>
<path d="M160.0,1250.0L190.0,1240.0L243.1,1254.1L255.4,1286.2L287.6,1306.0" fill="none" stroke="#b76816" stroke-width="11.5" stroke-linecap="round" stroke-linejoin="round"/><path d="M160.0,1250.0L190.0,1240.0L243.1,1254.1L255.4,1286.2L287.6,1306.0" fill="none" stroke="#e07f1b" stroke-width="9.9" stroke-linecap="round" stroke-linejoin="round"/><path d="M160.0,1250.0L190.0,1240.0L243.1,1254.1L255.4,1286.2L287.6,1306.0" fill="none" stroke="#eaab6a" stroke-width="2.9" stroke-linecap="round" stroke-linejoin="round" transform="translate(-0.8,-0.9)" opacity="0.8"/>
<path d="M287.6,1306.0L292.6,1343.2L319.8,1365.4L356.9,1343.2L359.4,1308.5L324.8,1288.7L287.6,1306.0" fill="none" stroke="#b76816" stroke-width="11.5" stroke-linecap="round" stroke-linejoin="round"/><path d="M287.6,1306.0L292.6,1343.2L319.8,1365.4L356.9,1343.2L359.4,1308.5L324.8,1288.7L287.6,1306.0" fill="none" stroke="#e07f1b" stroke-width="9.9" stroke-linecap="round" stroke-linejoin="round"/><path d="M287.6,1306.0L292.6,1343.2L319.8,1365.4L356.9,1343.2L359.4,1308.5L324.8,1288.7L287.6,1306.0" fill="none" stroke="#eaab6a" stroke-width="2.9" stroke-linecap="round" stroke-linejoin="round" transform="translate(-0.8,-0.9)" opacity="0.8"/>
<path d="M356.9,1343.2L376.7,1354.3" fill="none" stroke="#b76816" stroke-width="11.5" stroke-linecap="round" stroke-linejoin="round"/><path d="M356.9,1343.2L376.7,1354.3" fill="none" stroke="#e07f1b" stroke-width="9.9" stroke-linecap="round" stroke-linejoin="round"/><path d="M356.9,1343.2L376.7,1354.3" fill="none" stroke="#eaab6a" stroke-width="2.9" stroke-linecap="round" stroke-linejoin="round" transform="translate(-0.8,-0.9)" opacity="0.8"/><path d="M376.7,1354.3L396.5,1365.4" fill="none" stroke="#b92f32" stroke-width="11.5" stroke-linecap="round" stroke-linejoin="round"/><path d="M376.7,1354.3L396.5,1365.4" fill="none" stroke="#e23a3e" stroke-width="9.9" stroke-linecap="round" stroke-linejoin="round"/><path d="M376.7,1354.3L396.5,1365.4" fill="none" stroke="#ec7e81" stroke-width="2.9" stroke-linecap="round" stroke-linejoin="round" transform="translate(-0.8,-0.9)" opacity="0.8"/>
<path d="M171.3,1259.0L223.3,1229.3L223.3,1209.5" fill="none" stroke="#329fa4" stroke-width="11.5" stroke-linecap="round" stroke-linejoin="round"/><path d="M171.3,1259.0L223.3,1229.3L223.3,1209.5" fill="none" stroke="#3ec3c8" stroke-width="9.9" stroke-linecap="round" stroke-linejoin="round"/><path d="M171.3,1259.0L223.3,1229.3L223.3,1209.5" fill="none" stroke="#81d8db" stroke-width="2.9" stroke-linecap="round" stroke-linejoin="round" transform="translate(-0.8,-0.9)" opacity="0.8"/>
<path d="M178.7,1254.1L198.5,1288.7" fill="none" stroke="#329fa4" stroke-width="11.5" stroke-linecap="round" stroke-linejoin="round"/><path d="M178.7,1254.1L198.5,1288.7" fill="none" stroke="#3ec3c8" stroke-width="9.9" stroke-linecap="round" stroke-linejoin="round"/><path d="M178.7,1254.1L198.5,1288.7" fill="none" stroke="#81d8db" stroke-width="2.9" stroke-linecap="round" stroke-linejoin="round" transform="translate(-0.8,-0.9)" opacity="0.8"/>
<path d="M248.0,1234.3L272.8,1273.9L302.5,1264.0" fill="none" stroke="#329fa4" stroke-width="11.5" stroke-linecap="round" stroke-linejoin="round"/><path d="M248.0,1234.3L272.8,1273.9L302.5,1264.0" fill="none" stroke="#3ec3c8" stroke-width="9.9" stroke-linecap="round" stroke-linejoin="round"/><path d="M248.0,1234.3L272.8,1273.9L302.5,1264.0" fill="none" stroke="#81d8db" stroke-width="2.9" stroke-linecap="round" stroke-linejoin="round" transform="translate(-0.8,-0.9)" opacity="0.8"/>
<path d="M302.5,1264.0L316.8,1262.1" fill="none" stroke="#329fa4" stroke-width="5.8" stroke-linecap="round" stroke-linejoin="round"/><path d="M302.5,1264.0L316.8,1262.1" fill="none" stroke="#3ec3c8" stroke-width="4.199999999999999" stroke-linecap="round" stroke-linejoin="round"/><path d="M302.5,1264.0L316.8,1262.1" fill="none" stroke="#81d8db" stroke-width="1.4" stroke-linecap="round" stroke-linejoin="round" transform="translate(-0.8,-0.9)" opacity="0.8"/><path d="M316.8,1262.1L331.0,1260.2" fill="none" stroke="#b92f32" stroke-width="5.8" stroke-linecap="round" stroke-linejoin="round"/><path d="M316.8,1262.1L331.0,1260.2" fill="none" stroke="#e23a3e" stroke-width="4.199999999999999" stroke-linecap="round" stroke-linejoin="round"/><path d="M316.8,1262.1L331.0,1260.2" fill="none" stroke="#ec7e81" stroke-width="1.4" stroke-linecap="round" stroke-linejoin="round" transform="translate(-0.8,-0.9)" opacity="0.8"/>
<path d="M302.5,1264.0L298.8,1259.0" fill="none" stroke="#329fa4" stroke-width="5.8" stroke-linecap="round" stroke-linejoin="round"/><path d="M302.5,1264.0L298.8,1259.0" fill="none" stroke="#3ec3c8" stroke-width="4.199999999999999" stroke-linecap="round" stroke-linejoin="round"/><path d="M302.5,1264.0L298.8,1259.0" fill="none" stroke="#81d8db" stroke-width="1.4" stroke-linecap="round" stroke-linejoin="round" transform="translate(-0.8,-0.9)" opacity="0.8"/><path d="M298.8,1259.0L295.0,1254.0" fill="none" stroke="#64191b" stroke-width="5.8" stroke-linecap="round" stroke-linejoin="round"/><path d="M298.8,1259.0L295.0,1254.0" fill="none" stroke="#7a1f22" stroke-width="4.199999999999999" stroke-linecap="round" stroke-linejoin="round"/><path d="M298.8,1259.0L295.0,1254.0" fill="none" stroke="#a86d6f" stroke-width="1.4" stroke-linecap="round" stroke-linejoin="round" transform="translate(-0.8,-0.9)" opacity="0.8"/>
<path d="M151.5,1242.9L166.3,1271.4L131.7,1278.8L144.1,1311.0L106.9,1320.9" fill="none" stroke="#265994" stroke-width="12.1" stroke-linecap="round" stroke-linejoin="round"/><path d="M151.5,1242.9L166.3,1271.4L131.7,1278.8L144.1,1311.0L106.9,1320.9" fill="none" stroke="#2f6db5" stroke-width="10.5" stroke-linecap="round" stroke-linejoin="round"/><path d="M151.5,1242.9L166.3,1271.4L131.7,1278.8L144.1,1311.0L106.9,1320.9" fill="none" stroke="#77a0ce" stroke-width="3.0" stroke-linecap="round" stroke-linejoin="round" transform="translate(-0.8,-0.9)" opacity="0.8"/>
<path d="M106.9,1320.9L109.4,1358.0" fill="none" stroke="#265994" stroke-width="12.1" stroke-linecap="round" stroke-linejoin="round"/><path d="M106.9,1320.9L109.4,1358.0" fill="none" stroke="#2f6db5" stroke-width="10.5" stroke-linecap="round" stroke-linejoin="round"/><path d="M106.9,1320.9L109.4,1358.0" fill="none" stroke="#77a0ce" stroke-width="3.0" stroke-linecap="round" stroke-linejoin="round" transform="translate(-0.8,-0.9)" opacity="0.8"/>
<path d="M109.4,1358.0L89.6,1360.5" fill="none" stroke="#265994" stroke-width="12.1" stroke-linecap="round" stroke-linejoin="round"/><path d="M109.4,1358.0L89.6,1360.5" fill="none" stroke="#2f6db5" stroke-width="10.5" stroke-linecap="round" stroke-linejoin="round"/><path d="M109.4,1358.0L89.6,1360.5" fill="none" stroke="#77a0ce" stroke-width="3.0" stroke-linecap="round" stroke-linejoin="round" transform="translate(-0.8,-0.9)" opacity="0.8"/><path d="M89.6,1360.5L69.8,1363.0" fill="none" stroke="#23317f" stroke-width="12.1" stroke-linecap="round" stroke-linejoin="round"/><path d="M89.6,1360.5L69.8,1363.0" fill="none" stroke="#2b3c9c" stroke-width="10.5" stroke-linecap="round" stroke-linejoin="round"/><path d="M89.6,1360.5L69.8,1363.0" fill="none" stroke="#7580be" stroke-width="3.0" stroke-linecap="round" stroke-linejoin="round" transform="translate(-0.8,-0.9)" opacity="0.8"/>
<path d="M109.4,1358.0L139.1,1390.2" fill="none" stroke="#5688b7" stroke-width="5.8" stroke-linecap="round" stroke-linejoin="round"/><path d="M109.4,1358.0L139.1,1390.2" fill="none" stroke="#6aa6e0" stroke-width="4.199999999999999" stroke-linecap="round" stroke-linejoin="round"/><path d="M109.4,1358.0L139.1,1390.2" fill="none" stroke="#9ec5ea" stroke-width="1.4" stroke-linecap="round" stroke-linejoin="round" transform="translate(-0.8,-0.9)" opacity="0.8"/>
<path d="M113.4,1356.0L143.1,1388.2" fill="none" stroke="#3c539d" stroke-width="4.6" stroke-linecap="round" stroke-linejoin="round"/><path d="M113.4,1356.0L143.1,1388.2" fill="none" stroke="#4a66c0" stroke-width="2.9999999999999996" stroke-linecap="round" stroke-linejoin="round"/><path d="M113.4,1356.0L143.1,1388.2" fill="none" stroke="#899bd6" stroke-width="1.1" stroke-linecap="round" stroke-linejoin="round" transform="translate(-0.8,-0.9)" opacity="0.8"/>
<path d="M188.6,1223.1L151.5,1242.9" fill="none" stroke="#265994" stroke-width="12.1" stroke-linecap="round" stroke-linejoin="round"/><path d="M188.6,1223.1L151.5,1242.9" fill="none" stroke="#2f6db5" stroke-width="10.5" stroke-linecap="round" stroke-linejoin="round"/><path d="M188.6,1223.1L151.5,1242.9" fill="none" stroke="#77a0ce" stroke-width="3.0" stroke-linecap="round" stroke-linejoin="round" transform="translate(-0.8,-0.9)" opacity="0.8"/>
<path d="M151.5,1242.9L137.9,1255.9" fill="none" stroke="#265994" stroke-width="12.1" stroke-linecap="round" stroke-linejoin="round"/><path d="M151.5,1242.9L137.9,1255.9" fill="none" stroke="#2f6db5" stroke-width="10.5" stroke-linecap="round" stroke-linejoin="round"/><path d="M151.5,1242.9L137.9,1255.9" fill="none" stroke="#77a0ce" stroke-width="3.0" stroke-linecap="round" stroke-linejoin="round" transform="translate(-0.8,-0.9)" opacity="0.8"/><path d="M137.9,1255.9L124.3,1268.9" fill="none" stroke="#23317f" stroke-width="12.1" stroke-linecap="round" stroke-linejoin="round"/><path d="M137.9,1255.9L124.3,1268.9" fill="none" stroke="#2b3c9c" stroke-width="10.5" stroke-linecap="round" stroke-linejoin="round"/><path d="M137.9,1255.9L124.3,1268.9" fill="none" stroke="#7580be" stroke-width="3.0" stroke-linecap="round" stroke-linejoin="round" transform="translate(-0.8,-0.9)" opacity="0.8"/>
<path d="M188.6,1223.1L238.1,1231.8L243.1,1209.5L228.2,1194.7" fill="none" stroke="#265994" stroke-width="12.1" stroke-linecap="round" stroke-linejoin="round"/><path d="M188.6,1223.1L238.1,1231.8L243.1,1209.5L228.2,1194.7" fill="none" stroke="#2f6db5" stroke-width="10.5" stroke-linecap="round" stroke-linejoin="round"/><path d="M188.6,1223.1L238.1,1231.8L243.1,1209.5L228.2,1194.7" fill="none" stroke="#77a0ce" stroke-width="3.0" stroke-linecap="round" stroke-linejoin="round" transform="translate(-0.8,-0.9)" opacity="0.8"/>
<path d="M198.5,1194.7L193.6,1208.9" fill="none" stroke="#b92f32" stroke-width="6.9" stroke-linecap="round" stroke-linejoin="round"/><path d="M198.5,1194.7L193.6,1208.9" fill="none" stroke="#e23a3e" stroke-width="5.300000000000001" stroke-linecap="round" stroke-linejoin="round"/><path d="M198.5,1194.7L193.6,1208.9" fill="none" stroke="#ec7e81" stroke-width="1.7" stroke-linecap="round" stroke-linejoin="round" transform="translate(-0.8,-0.9)" opacity="0.8"/><path d="M193.6,1208.9L188.6,1223.1" fill="none" stroke="#265994" stroke-width="6.9" stroke-linecap="round" stroke-linejoin="round"/><path d="M193.6,1208.9L188.6,1223.1" fill="none" stroke="#2f6db5" stroke-width="5.300000000000001" stroke-linecap="round" stroke-linejoin="round"/><path d="M193.6,1208.9L188.6,1223.1" fill="none" stroke="#77a0ce" stroke-width="1.7" stroke-linecap="round" stroke-linejoin="round" transform="translate(-0.8,-0.9)" opacity="0.8"/>
<path d="M206.0,1250.0L232.0,1248.0" fill="none" stroke="#23317f" stroke-width="12.1" stroke-linecap="round" stroke-linejoin="round"/><path d="M206.0,1250.0L232.0,1248.0" fill="none" stroke="#2b3c9c" stroke-width="10.5" stroke-linecap="round" stroke-linejoin="round"/><path d="M206.0,1250.0L232.0,1248.0" fill="none" stroke="#7580be" stroke-width="3.0" stroke-linecap="round" stroke-linejoin="round" transform="translate(-0.8,-0.9)" opacity="0.8"/>
<path d="M230.0,1196.0L237.0,1184.0" fill="none" stroke="#a3a4b6" stroke-width="4.1" stroke-linecap="round" stroke-linejoin="round"/><path d="M230.0,1196.0L237.0,1184.0" fill="none" stroke="#c7c8de" stroke-width="2.4999999999999996" stroke-linecap="round" stroke-linejoin="round"/><path d="M230.0,1196.0L237.0,1184.0" fill="none" stroke="#dadbe9" stroke-width="1.0" stroke-linecap="round" stroke-linejoin="round" transform="translate(-0.8,-0.9)" opacity="0.8"/><path d="M237.0,1184.0L244.0,1172.0" fill="none" stroke="#b92f32" stroke-width="4.1" stroke-linecap="round" stroke-linejoin="round"/><path d="M237.0,1184.0L244.0,1172.0" fill="none" stroke="#e23a3e" stroke-width="2.4999999999999996" stroke-linecap="round" stroke-linejoin="round"/><path d="M237.0,1184.0L244.0,1172.0" fill="none" stroke="#ec7e81" stroke-width="1.0" stroke-linecap="round" stroke-linejoin="round" transform="translate(-0.8,-0.9)" opacity="0.8"/>
<path d="M234.0,1196.0L241.5,1184.0" fill="none" stroke="#a3a4b6" stroke-width="4.1" stroke-linecap="round" stroke-linejoin="round"/><path d="M234.0,1196.0L241.5,1184.0" fill="none" stroke="#c7c8de" stroke-width="2.4999999999999996" stroke-linecap="round" stroke-linejoin="round"/><path d="M234.0,1196.0L241.5,1184.0" fill="none" stroke="#dadbe9" stroke-width="1.0" stroke-linecap="round" stroke-linejoin="round" transform="translate(-0.8,-0.9)" opacity="0.8"/><path d="M241.5,1184.0L249.0,1172.0" fill="none" stroke="#b92f32" stroke-width="4.1" stroke-linecap="round" stroke-linejoin="round"/><path d="M241.5,1184.0L249.0,1172.0" fill="none" stroke="#e23a3e" stroke-width="2.4999999999999996" stroke-linecap="round" stroke-linejoin="round"/><path d="M241.5,1184.0L249.0,1172.0" fill="none" stroke="#ec7e81" stroke-width="1.0" stroke-linecap="round" stroke-linejoin="round" transform="translate(-0.8,-0.9)" opacity="0.8"/>
<path d="M238.0,1196.0L246.0,1184.0" fill="none" stroke="#a3a4b6" stroke-width="4.1" stroke-linecap="round" stroke-linejoin="round"/><path d="M238.0,1196.0L246.0,1184.0" fill="none" stroke="#c7c8de" stroke-width="2.4999999999999996" stroke-linecap="round" stroke-linejoin="round"/><path d="M238.0,1196.0L246.0,1184.0" fill="none" stroke="#dadbe9" stroke-width="1.0" stroke-linecap="round" stroke-linejoin="round" transform="translate(-0.8,-0.9)" opacity="0.8"/><path d="M246.0,1184.0L254.0,1172.0" fill="none" stroke="#b92f32" stroke-width="4.1" stroke-linecap="round" stroke-linejoin="round"/><path d="M246.0,1184.0L254.0,1172.0" fill="none" stroke="#e23a3e" stroke-width="2.4999999999999996" stroke-linecap="round" stroke-linejoin="round"/><path d="M246.0,1184.0L254.0,1172.0" fill="none" stroke="#ec7e81" stroke-width="1.0" stroke-linecap="round" stroke-linejoin="round" transform="translate(-0.8,-0.9)" opacity="0.8"/>
<path d="M242.0,1196.0L250.5,1184.0" fill="none" stroke="#a3a4b6" stroke-width="4.1" stroke-linecap="round" stroke-linejoin="round"/><path d="M242.0,1196.0L250.5,1184.0" fill="none" stroke="#c7c8de" stroke-width="2.4999999999999996" stroke-linecap="round" stroke-linejoin="round"/><path d="M242.0,1196.0L250.5,1184.0" fill="none" stroke="#dadbe9" stroke-width="1.0" stroke-linecap="round" stroke-linejoin="round" transform="translate(-0.8,-0.9)" opacity="0.8"/><path d="M250.5,1184.0L259.0,1172.0" fill="none" stroke="#b92f32" stroke-width="4.1" stroke-linecap="round" stroke-linejoin="round"/><path d="M250.5,1184.0L259.0,1172.0" fill="none" stroke="#e23a3e" stroke-width="2.4999999999999996" stroke-linecap="round" stroke-linejoin="round"/><path d="M250.5,1184.0L259.0,1172.0" fill="none" stroke="#ec7e81" stroke-width="1.0" stroke-linecap="round" stroke-linejoin="round" transform="translate(-0.8,-0.9)" opacity="0.8"/>
<path d="M196.0,1212.0L199.0,1202.0" fill="none" stroke="#265994" stroke-width="4.1" stroke-linecap="round" stroke-linejoin="round"/><path d="M196.0,1212.0L199.0,1202.0" fill="none" stroke="#2f6db5" stroke-width="2.4999999999999996" stroke-linecap="round" stroke-linejoin="round"/><path d="M196.0,1212.0L199.0,1202.0" fill="none" stroke="#77a0ce" stroke-width="1.0" stroke-linecap="round" stroke-linejoin="round" transform="translate(-0.8,-0.9)" opacity="0.8"/><path d="M199.0,1202.0L202.0,1192.0" fill="none" stroke="#b92f32" stroke-width="4.1" stroke-linecap="round" stroke-linejoin="round"/><path d="M199.0,1202.0L202.0,1192.0" fill="none" stroke="#e23a3e" stroke-width="2.4999999999999996" stroke-linecap="round" stroke-linejoin="round"/><path d="M199.0,1202.0L202.0,1192.0" fill="none" stroke="#ec7e81" stroke-width="1.0" stroke-linecap="round" stroke-linejoin="round" transform="translate(-0.8,-0.9)" opacity="0.8"/>
<path d="M200.0,1212.0L203.0,1202.0" fill="none" stroke="#265994" stroke-width="4.1" stroke-linecap="round" stroke-linejoin="round"/><path d="M200.0,1212.0L203.0,1202.0" fill="none" stroke="#2f6db5" stroke-width="2.4999999999999996" stroke-linecap="round" stroke-linejoin="round"/><path d="M200.0,1212.0L203.0,1202.0" fill="none" stroke="#77a0ce" stroke-width="1.0" stroke-linecap="round" stroke-linejoin="round" transform="translate(-0.8,-0.9)" opacity="0.8"/><path d="M203.0,1202.0L206.0,1192.0" fill="none" stroke="#b92f32" stroke-width="4.1" stroke-linecap="round" stroke-linejoin="round"/><path d="M203.0,1202.0L206.0,1192.0" fill="none" stroke="#e23a3e" stroke-width="2.4999999999999996" stroke-linecap="round" stroke-linejoin="round"/><path d="M203.0,1202.0L206.0,1192.0" fill="none" stroke="#ec7e81" stroke-width="1.0" stroke-linecap="round" stroke-linejoin="round" transform="translate(-0.8,-0.9)" opacity="0.8"/>
<path d="M204.0,1212.0L207.0,1202.0" fill="none" stroke="#265994" stroke-width="4.1" stroke-linecap="round" stroke-linejoin="round"/><path d="M204.0,1212.0L207.0,1202.0" fill="none" stroke="#2f6db5" stroke-width="2.4999999999999996" stroke-linecap="round" stroke-linejoin="round"/><path d="M204.0,1212.0L207.0,1202.0" fill="none" stroke="#77a0ce" stroke-width="1.0" stroke-linecap="round" stroke-linejoin="round" transform="translate(-0.8,-0.9)" opacity="0.8"/><path d="M207.0,1202.0L210.0,1192.0" fill="none" stroke="#b92f32" stroke-width="4.1" stroke-linecap="round" stroke-linejoin="round"/><path d="M207.0,1202.0L210.0,1192.0" fill="none" stroke="#e23a3e" stroke-width="2.4999999999999996" stroke-linecap="round" stroke-linejoin="round"/><path d="M207.0,1202.0L210.0,1192.0" fill="none" stroke="#ec7e81" stroke-width="1.0" stroke-linecap="round" stroke-linejoin="round" transform="translate(-0.8,-0.9)" opacity="0.8"/>
<path d="M214.0,1230.0L220.0,1217.5" fill="none" stroke="#329fa4" stroke-width="4.1" stroke-linecap="round" stroke-linejoin="round"/><path d="M214.0,1230.0L220.0,1217.5" fill="none" stroke="#3ec3c8" stroke-width="2.4999999999999996" stroke-linecap="round" stroke-linejoin="round"/><path d="M214.0,1230.0L220.0,1217.5" fill="none" stroke="#81d8db" stroke-width="1.0" stroke-linecap="round" stroke-linejoin="round" transform="translate(-0.8,-0.9)" opacity="0.8"/><path d="M220.0,1217.5L226.0,1205.0" fill="none" stroke="#b92f32" stroke-width="4.1" stroke-linecap="round" stroke-linejoin="round"/><path d="M220.0,1217.5L226.0,1205.0" fill="none" stroke="#e23a3e" stroke-width="2.4999999999999996" stroke-linecap="round" stroke-linejoin="round"/><path d="M220.0,1217.5L226.0,1205.0" fill="none" stroke="#ec7e81" stroke-width="1.0" stroke-linecap="round" stroke-linejoin="round" transform="translate(-0.8,-0.9)" opacity="0.8"/>
<path d="M188.6,1174.9L225.7,1181M312.4,1231.8L305,1255.3M352,1268.9L283.9,1281.3M201,1293.7L208.4,1318.4M76,1308.5L98.3,1319.7M183.7,1358L201,1372.9M183.7,1412.5L202.2,1415M352,1358L360.6,1376.6" stroke="#000" stroke-width="1.3"/>
<text x="26" y="1010.1" font-size="20.8">KOR&#8211;<tspan fill="#2aa9e0">G<tspan font-size="14" dy="6">i1</tspan></tspan><tspan dy="-6" fill="#2b4c9b"> G<tspan font-size="14" dy="6">oA</tspan></tspan><tspan dy="-6" fill="#ec6b24"> G<tspan font-size="14" dy="6">z</tspan></tspan><tspan dy="-6" fill="#a7a9ac"> G<tspan font-size="14" dy="6">g</tspan></tspan></text>
<text x="123.5" y="1067.1" font-size="20.8">TM3</text>
<text x="336.9" y="1051.3" font-size="20.8">TM2</text>
<text x="406" y="1142.5" font-size="20.8">TM1</text>
<text x="286.4" y="1145.1" font-size="20.8" fill="#000">N336<tspan font-size="14.5" dy="-8">8.49</tspan></text>
<text x="122.7" y="1173" font-size="20.8" fill="#2b4c9b">G350<tspan font-size="14.5" dy="-8">H5.22</tspan></text>
<text x="295.6" y="1222.3" font-size="20.8" fill="#3bbde6">D350<tspan font-size="14.5" dy="-8">H5.22</tspan></text>
<text x="360.7" y="1268.7" font-size="20.8" fill="#a7a9ac">D350<tspan font-size="14.5" dy="-8">H5.22</tspan></text>
<text x="18.6" y="1305.4" font-size="20.8" fill="#2b4c9b">R349<tspan font-size="14.5" dy="-8">H5.21</tspan></text>
<text x="185.2" y="1339.3" font-size="20.8" fill="#3bbde6">K349<tspan font-size="14.5" dy="-8">H5.21</tspan></text>
<text x="204.4" y="1383.4" font-size="20.8" fill="#a7a9ac">K349<tspan font-size="14.5" dy="-8">H5.21</tspan></text>
<text x="358.8" y="1396.3" font-size="20.8" fill="#ec6b24">Y351<tspan font-size="14.5" dy="-8">H5.22</tspan></text>
<text x="204.4" y="1429.4" font-size="20.8" fill="#ec6b24">K350<tspan font-size="14.5" dy="-8">H5.21</tspan></text>
<text x="50" y="1429.4" font-size="20.8">&#945;5 helix</text>
</svg></body></html>
